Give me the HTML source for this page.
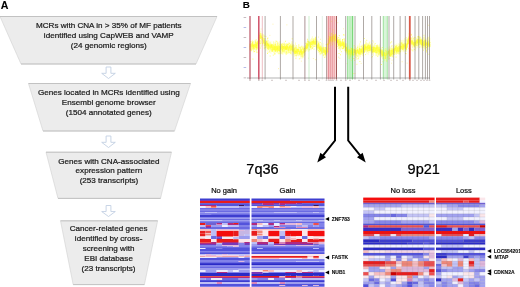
<!DOCTYPE html>
<html><head><meta charset="utf-8"><title>Figure</title>
<style>html,body{margin:0;padding:0;background:#fff;overflow:hidden;width:520px;height:287px;}svg{display:block;}text{font-family:"Liberation Sans",sans-serif;}svg{will-change:transform;}</style></head><body>
<svg width="520" height="287" viewBox="0 0 520 287">
<defs><filter id="bl" x="0" y="0" width="1" height="1"><feGaussianBlur stdDeviation="0.45 0.36"/></filter><filter id="bly" x="-0.02" y="-0.3" width="1.04" height="1.6"><feGaussianBlur stdDeviation="0.45"/></filter><filter id="bl2" x="0" y="0" width="1" height="1"><feGaussianBlur stdDeviation="0.5"/></filter></defs>
<rect width="520" height="287" fill="#fff"/>
<polygon points="0,16.5 217,16.5 196,64 21,64" fill="#ececec" stroke="#d0d0d0" stroke-width="0.6"/>
<line x1="0" y1="16.5" x2="217" y2="16.5" stroke="#bababa" stroke-width="0.8"/>
<line x1="21" y1="64" x2="196" y2="64" stroke="#bababa" stroke-width="0.8"/>
<polygon points="28.5,83.5 190.5,83.5 174.5,131 43,131" fill="#ececec" stroke="#d0d0d0" stroke-width="0.6"/>
<line x1="28.5" y1="83.5" x2="190.5" y2="83.5" stroke="#bababa" stroke-width="0.8"/>
<line x1="43" y1="131" x2="174.5" y2="131" stroke="#bababa" stroke-width="0.8"/>
<polygon points="46,152.2 171.5,152.2 160.5,198.4 58,198.4" fill="#ececec" stroke="#d0d0d0" stroke-width="0.6"/>
<line x1="46" y1="152.2" x2="171.5" y2="152.2" stroke="#bababa" stroke-width="0.8"/>
<line x1="58" y1="198.4" x2="160.5" y2="198.4" stroke="#bababa" stroke-width="0.8"/>
<polygon points="60.5,220.8 157.6,220.8 144.4,284.6 73.2,284.6" fill="#ececec" stroke="#d0d0d0" stroke-width="0.6"/>
<line x1="60.5" y1="220.8" x2="157.6" y2="220.8" stroke="#bababa" stroke-width="0.8"/>
<line x1="73.2" y1="284.6" x2="144.4" y2="284.6" stroke="#bababa" stroke-width="0.8"/>
<polygon points="106.1,67 110.9,67 110.9,73.325 115.3,73.325 108.5,78.5 101.7,73.325 106.1,73.325" fill="#fff" stroke="#bfcde2" stroke-width="0.85" stroke-linejoin="round"/>
<polygon points="106.1,136 110.9,136 110.9,142.325 115.3,142.325 108.5,147.5 101.7,142.325 106.1,142.325" fill="#fff" stroke="#bfcde2" stroke-width="0.85" stroke-linejoin="round"/>
<polygon points="106.1,205.5 110.9,205.5 110.9,211.55 115.3,211.55 108.5,216.5 101.7,211.55 106.1,211.55" fill="#fff" stroke="#bfcde2" stroke-width="0.85" stroke-linejoin="round"/>
<text x="108.8" y="28.3" font-size="8.1" text-anchor="middle" font-weight="normal" fill="#1a1a1a" stroke="#1a1a1a" stroke-width="0.22">MCRs with CNA in &gt; 35% of MF patients</text>
<text x="108.8" y="37.9" font-size="8.1" text-anchor="middle" font-weight="normal" fill="#1a1a1a" stroke="#1a1a1a" stroke-width="0.22">identified using CapWEB and VAMP</text>
<text x="108.8" y="47.6" font-size="8.1" text-anchor="middle" font-weight="normal" fill="#1a1a1a" stroke="#1a1a1a" stroke-width="0.22">(24 genomic regions)</text>
<text x="108.8" y="95.0" font-size="8.1" text-anchor="middle" font-weight="normal" fill="#1a1a1a" stroke="#1a1a1a" stroke-width="0.22">Genes located in MCRs identified using</text>
<text x="108.8" y="104.8" font-size="8.1" text-anchor="middle" font-weight="normal" fill="#1a1a1a" stroke="#1a1a1a" stroke-width="0.22">Ensembl genome browser</text>
<text x="108.8" y="114.5" font-size="8.1" text-anchor="middle" font-weight="normal" fill="#1a1a1a" stroke="#1a1a1a" stroke-width="0.22">(1504 annotated genes)</text>
<text x="108.9" y="163.5" font-size="8.1" text-anchor="middle" font-weight="normal" fill="#1a1a1a" stroke="#1a1a1a" stroke-width="0.22">Genes with CNA-associated</text>
<text x="108.9" y="173.3" font-size="8.1" text-anchor="middle" font-weight="normal" fill="#1a1a1a" stroke="#1a1a1a" stroke-width="0.22">expression pattern</text>
<text x="108.9" y="183.1" font-size="8.1" text-anchor="middle" font-weight="normal" fill="#1a1a1a" stroke="#1a1a1a" stroke-width="0.22">(253 transcripts)</text>
<text x="108.6" y="231.3" font-size="8.1" text-anchor="middle" font-weight="normal" fill="#1a1a1a" stroke="#1a1a1a" stroke-width="0.22">Cancer-related genes</text>
<text x="108.6" y="241.1" font-size="8.1" text-anchor="middle" font-weight="normal" fill="#1a1a1a" stroke="#1a1a1a" stroke-width="0.22">identified by cross-</text>
<text x="108.6" y="250.9" font-size="8.1" text-anchor="middle" font-weight="normal" fill="#1a1a1a" stroke="#1a1a1a" stroke-width="0.22">screening with</text>
<text x="108.6" y="260.7" font-size="8.1" text-anchor="middle" font-weight="normal" fill="#1a1a1a" stroke="#1a1a1a" stroke-width="0.22">EBI database</text>
<text x="108.6" y="270.5" font-size="8.1" text-anchor="middle" font-weight="normal" fill="#1a1a1a" stroke="#1a1a1a" stroke-width="0.22">(23 transcripts)</text>
<text x="0.8" y="8.8" font-size="10.6" text-anchor="start" font-weight="bold" fill="#000" stroke="#000" stroke-width="0.1">A</text>
<text x="242.7" y="8.4" font-size="9.9" text-anchor="start" font-weight="bold" fill="#000" stroke="#000" stroke-width="0.1">B</text>
<g id="chart">
<rect x="347.2" y="16" width="6.6" height="63" fill="#d2f4d2"/>
<rect x="382.6" y="16" width="5" height="63" fill="#daf5da"/>
<rect x="326.8" y="16" width="9.2" height="63" fill="#fad8d8"/>
<g filter="url(#bly)">
<rect x="249.5" y="43.7" width="0.9" height="5.1" fill="#ffff10" opacity="0.62"/>
<rect x="249.5" y="43.7" width="0.8" height="6.8" fill="#ffff30" opacity="0.32"/>
<rect x="250.1" y="44.1" width="0.9" height="3.0" fill="#ffff10" opacity="0.62"/>
<rect x="250.1" y="41.5" width="0.8" height="9.4" fill="#ffff30" opacity="0.32"/>
<rect x="250.7" y="45.8" width="0.9" height="3.1" fill="#ffff10" opacity="0.62"/>
<rect x="250.7" y="43.2" width="0.8" height="6.9" fill="#ffff30" opacity="0.32"/>
<rect x="251.3" y="43.3" width="0.9" height="3.2" fill="#ffff10" opacity="0.62"/>
<rect x="251.3" y="43.5" width="0.8" height="7.7" fill="#ffff30" opacity="0.32"/>
<rect x="251.9" y="42.4" width="0.9" height="4.9" fill="#ffff10" opacity="0.62"/>
<rect x="251.9" y="39.9" width="0.8" height="8.8" fill="#ffff30" opacity="0.32"/>
<rect x="252.5" y="43.7" width="0.9" height="5.9" fill="#ffff10" opacity="0.62"/>
<rect x="252.5" y="42.2" width="0.8" height="8.1" fill="#ffff30" opacity="0.32"/>
<rect x="253.1" y="44.6" width="0.9" height="3.9" fill="#ffff10" opacity="0.62"/>
<rect x="253.1" y="41.1" width="0.8" height="11.3" fill="#ffff30" opacity="0.32"/>
<rect x="253.7" y="44.1" width="0.9" height="5.1" fill="#ffff10" opacity="0.62"/>
<rect x="253.7" y="43.3" width="0.8" height="8.6" fill="#ffff30" opacity="0.32"/>
<rect x="254.3" y="44.2" width="0.9" height="3.0" fill="#ffff10" opacity="0.62"/>
<rect x="254.3" y="42.1" width="0.8" height="7.6" fill="#ffff30" opacity="0.32"/>
<rect x="254.9" y="43.6" width="0.9" height="3.9" fill="#ffff10" opacity="0.62"/>
<rect x="254.9" y="39.8" width="0.8" height="9.9" fill="#ffff30" opacity="0.32"/>
<rect x="255.5" y="42.2" width="0.9" height="5.7" fill="#ffff10" opacity="0.62"/>
<rect x="255.5" y="40.8" width="0.8" height="10.6" fill="#ffff30" opacity="0.32"/>
<rect x="256.1" y="43.4" width="0.9" height="4.7" fill="#ffff10" opacity="0.62"/>
<rect x="256.1" y="41.4" width="0.8" height="11.7" fill="#ffff30" opacity="0.32"/>
<rect x="256.7" y="42.3" width="0.9" height="6.3" fill="#ffff10" opacity="0.62"/>
<rect x="256.7" y="41.0" width="0.8" height="7.1" fill="#ffff30" opacity="0.32"/>
<rect x="257.3" y="41.2" width="0.9" height="3.3" fill="#ffff10" opacity="0.62"/>
<rect x="257.3" y="40.5" width="0.8" height="9.3" fill="#ffff30" opacity="0.32"/>
<rect x="257.9" y="40.1" width="0.9" height="5.6" fill="#ffff10" opacity="0.62"/>
<rect x="257.9" y="37.1" width="0.8" height="9.8" fill="#ffff30" opacity="0.32"/>
<rect x="258.5" y="36.9" width="0.9" height="5.3" fill="#ffff10" opacity="0.62"/>
<rect x="258.5" y="33.3" width="0.8" height="10.0" fill="#ffff30" opacity="0.32"/>
<rect x="259.1" y="34.8" width="0.9" height="5.8" fill="#ffff10" opacity="0.62"/>
<rect x="259.1" y="31.9" width="0.8" height="12.1" fill="#ffff30" opacity="0.32"/>
<rect x="259.7" y="35.3" width="0.9" height="3.0" fill="#ffff10" opacity="0.62"/>
<rect x="259.7" y="33.1" width="0.8" height="10.6" fill="#ffff30" opacity="0.32"/>
<rect x="260.3" y="33.1" width="0.9" height="5.8" fill="#ffff10" opacity="0.62"/>
<rect x="260.3" y="30.6" width="0.8" height="8.1" fill="#ffff30" opacity="0.32"/>
<rect x="260.9" y="35.4" width="0.9" height="2.9" fill="#ffff10" opacity="0.62"/>
<rect x="260.9" y="34.4" width="0.8" height="9.2" fill="#ffff30" opacity="0.32"/>
<rect x="261.5" y="37.0" width="0.9" height="3.0" fill="#ffff10" opacity="0.62"/>
<rect x="261.5" y="33.3" width="0.8" height="11.0" fill="#ffff30" opacity="0.32"/>
<rect x="262.1" y="37.1" width="0.9" height="4.2" fill="#ffff10" opacity="0.62"/>
<rect x="262.1" y="33.5" width="0.8" height="11.6" fill="#ffff30" opacity="0.32"/>
<rect x="262.7" y="38.0" width="0.9" height="4.8" fill="#ffff10" opacity="0.62"/>
<rect x="262.7" y="34.3" width="0.8" height="11.7" fill="#ffff30" opacity="0.32"/>
<rect x="263.3" y="39.9" width="0.9" height="3.8" fill="#ffff10" opacity="0.62"/>
<rect x="263.3" y="34.4" width="0.8" height="8.9" fill="#ffff30" opacity="0.32"/>
<rect x="263.9" y="38.2" width="0.9" height="6.2" fill="#ffff10" opacity="0.62"/>
<rect x="263.9" y="40.8" width="0.8" height="7.3" fill="#ffff30" opacity="0.32"/>
<rect x="264.5" y="42.5" width="0.9" height="3.6" fill="#ffff10" opacity="0.62"/>
<rect x="264.5" y="40.1" width="0.8" height="9.3" fill="#ffff30" opacity="0.32"/>
<rect x="265.1" y="42.2" width="0.9" height="2.8" fill="#ffff10" opacity="0.62"/>
<rect x="265.1" y="39.3" width="0.8" height="8.9" fill="#ffff30" opacity="0.32"/>
<rect x="265.7" y="40.6" width="0.9" height="6.2" fill="#ffff10" opacity="0.62"/>
<rect x="265.7" y="40.3" width="0.8" height="10.5" fill="#ffff30" opacity="0.32"/>
<rect x="266.3" y="40.9" width="0.9" height="5.2" fill="#ffff10" opacity="0.62"/>
<rect x="266.3" y="41.2" width="0.8" height="6.7" fill="#ffff30" opacity="0.32"/>
<rect x="266.9" y="43.3" width="0.9" height="5.9" fill="#ffff10" opacity="0.62"/>
<rect x="266.9" y="38.1" width="0.8" height="11.2" fill="#ffff30" opacity="0.32"/>
<rect x="267.5" y="43.0" width="0.9" height="3.2" fill="#ffff10" opacity="0.62"/>
<rect x="267.5" y="41.0" width="0.8" height="10.2" fill="#ffff30" opacity="0.32"/>
<rect x="268.1" y="44.3" width="0.9" height="3.6" fill="#ffff10" opacity="0.62"/>
<rect x="268.1" y="42.2" width="0.8" height="7.4" fill="#ffff30" opacity="0.32"/>
<rect x="268.7" y="44.6" width="0.9" height="2.8" fill="#ffff10" opacity="0.62"/>
<rect x="268.7" y="42.8" width="0.8" height="7.3" fill="#ffff30" opacity="0.32"/>
<rect x="269.3" y="45.8" width="0.9" height="2.9" fill="#ffff10" opacity="0.62"/>
<rect x="269.3" y="41.4" width="0.8" height="11.6" fill="#ffff30" opacity="0.32"/>
<rect x="269.9" y="44.7" width="0.9" height="3.7" fill="#ffff10" opacity="0.62"/>
<rect x="269.9" y="42.2" width="0.8" height="8.5" fill="#ffff30" opacity="0.32"/>
<rect x="270.5" y="43.8" width="0.9" height="5.9" fill="#ffff10" opacity="0.62"/>
<rect x="270.5" y="41.3" width="0.8" height="12.4" fill="#ffff30" opacity="0.32"/>
<rect x="271.1" y="44.5" width="0.9" height="3.1" fill="#ffff10" opacity="0.62"/>
<rect x="271.1" y="43.9" width="0.8" height="7.0" fill="#ffff30" opacity="0.32"/>
<rect x="271.7" y="43.9" width="0.9" height="5.8" fill="#ffff10" opacity="0.62"/>
<rect x="271.7" y="44.3" width="0.8" height="7.4" fill="#ffff30" opacity="0.32"/>
<rect x="272.3" y="47.1" width="0.9" height="4.7" fill="#ffff10" opacity="0.62"/>
<rect x="272.3" y="44.0" width="0.8" height="7.3" fill="#ffff30" opacity="0.32"/>
<rect x="272.9" y="44.7" width="0.9" height="4.7" fill="#ffff10" opacity="0.62"/>
<rect x="272.9" y="41.1" width="0.8" height="12.3" fill="#ffff30" opacity="0.32"/>
<rect x="273.5" y="46.4" width="0.9" height="3.7" fill="#ffff10" opacity="0.62"/>
<rect x="273.5" y="41.6" width="0.8" height="8.6" fill="#ffff30" opacity="0.32"/>
<rect x="274.1" y="45.8" width="0.9" height="4.7" fill="#ffff10" opacity="0.62"/>
<rect x="274.1" y="43.7" width="0.8" height="11.1" fill="#ffff30" opacity="0.32"/>
<rect x="274.7" y="44.3" width="0.9" height="5.7" fill="#ffff10" opacity="0.62"/>
<rect x="274.7" y="42.1" width="0.8" height="12.3" fill="#ffff30" opacity="0.32"/>
<rect x="275.3" y="45.6" width="0.9" height="5.7" fill="#ffff10" opacity="0.62"/>
<rect x="275.3" y="40.4" width="0.8" height="10.8" fill="#ffff30" opacity="0.32"/>
<rect x="275.9" y="45.7" width="0.9" height="4.1" fill="#ffff10" opacity="0.62"/>
<rect x="275.9" y="45.7" width="0.8" height="6.6" fill="#ffff30" opacity="0.32"/>
<rect x="276.5" y="46.5" width="0.9" height="3.7" fill="#ffff10" opacity="0.62"/>
<rect x="276.5" y="42.5" width="0.8" height="10.6" fill="#ffff30" opacity="0.32"/>
<rect x="277.1" y="45.6" width="0.9" height="6.2" fill="#ffff10" opacity="0.62"/>
<rect x="277.1" y="41.2" width="0.8" height="12.3" fill="#ffff30" opacity="0.32"/>
<rect x="277.7" y="46.8" width="0.9" height="3.6" fill="#ffff10" opacity="0.62"/>
<rect x="277.7" y="43.6" width="0.8" height="7.8" fill="#ffff30" opacity="0.32"/>
<rect x="278.3" y="45.5" width="0.9" height="5.0" fill="#ffff10" opacity="0.62"/>
<rect x="278.3" y="42.7" width="0.8" height="11.8" fill="#ffff30" opacity="0.32"/>
<rect x="278.9" y="45.9" width="0.9" height="5.2" fill="#ffff10" opacity="0.62"/>
<rect x="278.9" y="41.1" width="0.8" height="11.2" fill="#ffff30" opacity="0.32"/>
<rect x="279.5" y="46.1" width="0.9" height="6.1" fill="#ffff10" opacity="0.62"/>
<rect x="279.5" y="43.3" width="0.8" height="11.1" fill="#ffff30" opacity="0.32"/>
<rect x="280.1" y="46.3" width="0.9" height="3.4" fill="#ffff10" opacity="0.62"/>
<rect x="280.1" y="41.1" width="0.8" height="11.1" fill="#ffff30" opacity="0.32"/>
<rect x="280.7" y="44.0" width="0.9" height="6.3" fill="#ffff10" opacity="0.62"/>
<rect x="280.7" y="45.5" width="0.8" height="8.8" fill="#ffff30" opacity="0.32"/>
<rect x="281.3" y="43.5" width="0.9" height="5.4" fill="#ffff10" opacity="0.62"/>
<rect x="281.3" y="46.0" width="0.8" height="7.4" fill="#ffff30" opacity="0.32"/>
<rect x="281.9" y="45.3" width="0.9" height="6.1" fill="#ffff10" opacity="0.62"/>
<rect x="281.9" y="42.9" width="0.8" height="11.2" fill="#ffff30" opacity="0.32"/>
<rect x="282.5" y="45.9" width="0.9" height="6.3" fill="#ffff10" opacity="0.62"/>
<rect x="282.5" y="44.6" width="0.8" height="10.3" fill="#ffff30" opacity="0.32"/>
<rect x="283.1" y="45.7" width="0.9" height="3.3" fill="#ffff10" opacity="0.62"/>
<rect x="283.1" y="46.0" width="0.8" height="6.5" fill="#ffff30" opacity="0.32"/>
<rect x="283.7" y="46.9" width="0.9" height="4.7" fill="#ffff10" opacity="0.62"/>
<rect x="283.7" y="41.7" width="0.8" height="12.0" fill="#ffff30" opacity="0.32"/>
<rect x="284.3" y="43.4" width="0.9" height="5.8" fill="#ffff10" opacity="0.62"/>
<rect x="284.3" y="45.1" width="0.8" height="7.7" fill="#ffff30" opacity="0.32"/>
<rect x="284.9" y="46.2" width="0.9" height="3.7" fill="#ffff10" opacity="0.62"/>
<rect x="284.9" y="44.0" width="0.8" height="9.9" fill="#ffff30" opacity="0.32"/>
<rect x="285.5" y="46.3" width="0.9" height="3.3" fill="#ffff10" opacity="0.62"/>
<rect x="285.5" y="43.3" width="0.8" height="11.9" fill="#ffff30" opacity="0.32"/>
<rect x="286.1" y="45.0" width="0.9" height="4.9" fill="#ffff10" opacity="0.62"/>
<rect x="286.1" y="43.2" width="0.8" height="11.8" fill="#ffff30" opacity="0.32"/>
<rect x="286.7" y="44.0" width="0.9" height="4.6" fill="#ffff10" opacity="0.62"/>
<rect x="286.7" y="44.6" width="0.8" height="9.6" fill="#ffff30" opacity="0.32"/>
<rect x="287.3" y="45.9" width="0.9" height="4.4" fill="#ffff10" opacity="0.62"/>
<rect x="287.3" y="44.4" width="0.8" height="7.5" fill="#ffff30" opacity="0.32"/>
<rect x="287.9" y="48.2" width="0.9" height="3.4" fill="#ffff10" opacity="0.62"/>
<rect x="287.9" y="43.7" width="0.8" height="9.2" fill="#ffff30" opacity="0.32"/>
<rect x="288.5" y="46.3" width="0.9" height="4.0" fill="#ffff10" opacity="0.62"/>
<rect x="288.5" y="42.1" width="0.8" height="9.5" fill="#ffff30" opacity="0.32"/>
<rect x="289.1" y="45.4" width="0.9" height="3.2" fill="#ffff10" opacity="0.62"/>
<rect x="289.1" y="42.9" width="0.8" height="9.8" fill="#ffff30" opacity="0.32"/>
<rect x="289.7" y="45.8" width="0.9" height="5.6" fill="#ffff10" opacity="0.62"/>
<rect x="289.7" y="44.9" width="0.8" height="9.4" fill="#ffff30" opacity="0.32"/>
<rect x="290.3" y="44.3" width="0.9" height="6.1" fill="#ffff10" opacity="0.62"/>
<rect x="290.3" y="43.4" width="0.8" height="9.1" fill="#ffff30" opacity="0.32"/>
<rect x="290.9" y="45.7" width="0.9" height="4.6" fill="#ffff10" opacity="0.62"/>
<rect x="290.9" y="42.6" width="0.8" height="10.6" fill="#ffff30" opacity="0.32"/>
<rect x="291.5" y="45.6" width="0.9" height="4.5" fill="#ffff10" opacity="0.62"/>
<rect x="291.5" y="43.3" width="0.8" height="12.0" fill="#ffff30" opacity="0.32"/>
<rect x="292.1" y="45.4" width="0.9" height="6.2" fill="#ffff10" opacity="0.62"/>
<rect x="292.1" y="42.7" width="0.8" height="8.0" fill="#ffff30" opacity="0.32"/>
<rect x="292.7" y="44.4" width="0.9" height="5.8" fill="#ffff10" opacity="0.62"/>
<rect x="292.7" y="44.7" width="0.8" height="7.2" fill="#ffff30" opacity="0.32"/>
<rect x="293.3" y="48.8" width="0.9" height="3.1" fill="#ffff10" opacity="0.62"/>
<rect x="293.3" y="46.6" width="0.8" height="7.8" fill="#ffff30" opacity="0.32"/>
<rect x="293.9" y="48.3" width="0.9" height="5.6" fill="#ffff10" opacity="0.62"/>
<rect x="293.9" y="44.9" width="0.8" height="11.8" fill="#ffff30" opacity="0.32"/>
<rect x="294.5" y="48.5" width="0.9" height="5.2" fill="#ffff10" opacity="0.62"/>
<rect x="294.5" y="48.2" width="0.8" height="7.3" fill="#ffff30" opacity="0.32"/>
<rect x="295.1" y="50.5" width="0.9" height="3.6" fill="#ffff10" opacity="0.62"/>
<rect x="295.1" y="42.4" width="0.8" height="12.1" fill="#ffff30" opacity="0.32"/>
<rect x="295.7" y="46.8" width="0.9" height="6.4" fill="#ffff10" opacity="0.62"/>
<rect x="295.7" y="46.0" width="0.8" height="11.4" fill="#ffff30" opacity="0.32"/>
<rect x="296.3" y="49.2" width="0.9" height="4.7" fill="#ffff10" opacity="0.62"/>
<rect x="296.3" y="47.9" width="0.8" height="8.4" fill="#ffff30" opacity="0.32"/>
<rect x="296.9" y="48.7" width="0.9" height="5.4" fill="#ffff10" opacity="0.62"/>
<rect x="296.9" y="48.8" width="0.8" height="6.5" fill="#ffff30" opacity="0.32"/>
<rect x="297.5" y="48.8" width="0.9" height="2.9" fill="#ffff10" opacity="0.62"/>
<rect x="297.5" y="46.6" width="0.8" height="8.4" fill="#ffff30" opacity="0.32"/>
<rect x="298.1" y="49.0" width="0.9" height="3.0" fill="#ffff10" opacity="0.62"/>
<rect x="298.1" y="44.1" width="0.8" height="12.3" fill="#ffff30" opacity="0.32"/>
<rect x="298.7" y="50.3" width="0.9" height="3.2" fill="#ffff10" opacity="0.62"/>
<rect x="298.7" y="44.2" width="0.8" height="8.0" fill="#ffff30" opacity="0.32"/>
<rect x="299.3" y="51.0" width="0.9" height="3.8" fill="#ffff10" opacity="0.62"/>
<rect x="299.3" y="48.3" width="0.8" height="7.2" fill="#ffff30" opacity="0.32"/>
<rect x="299.9" y="46.9" width="0.9" height="5.7" fill="#ffff10" opacity="0.62"/>
<rect x="299.9" y="48.8" width="0.8" height="8.0" fill="#ffff30" opacity="0.32"/>
<rect x="300.5" y="50.3" width="0.9" height="4.9" fill="#ffff10" opacity="0.62"/>
<rect x="300.5" y="48.4" width="0.8" height="10.6" fill="#ffff30" opacity="0.32"/>
<rect x="301.1" y="49.1" width="0.9" height="5.3" fill="#ffff10" opacity="0.62"/>
<rect x="301.1" y="47.2" width="0.8" height="9.0" fill="#ffff30" opacity="0.32"/>
<rect x="301.7" y="50.9" width="0.9" height="5.1" fill="#ffff10" opacity="0.62"/>
<rect x="301.7" y="47.1" width="0.8" height="11.2" fill="#ffff30" opacity="0.32"/>
<rect x="302.3" y="51.5" width="0.9" height="3.0" fill="#ffff10" opacity="0.62"/>
<rect x="302.3" y="46.9" width="0.8" height="11.6" fill="#ffff30" opacity="0.32"/>
<rect x="302.9" y="48.3" width="0.9" height="4.8" fill="#ffff10" opacity="0.62"/>
<rect x="302.9" y="45.8" width="0.8" height="12.0" fill="#ffff30" opacity="0.32"/>
<rect x="303.5" y="49.1" width="0.9" height="4.7" fill="#ffff10" opacity="0.62"/>
<rect x="303.5" y="48.2" width="0.8" height="7.8" fill="#ffff30" opacity="0.32"/>
<rect x="304.1" y="50.1" width="0.9" height="3.0" fill="#ffff10" opacity="0.62"/>
<rect x="304.1" y="47.9" width="0.8" height="7.6" fill="#ffff30" opacity="0.32"/>
<rect x="304.7" y="46.5" width="0.9" height="5.5" fill="#ffff10" opacity="0.62"/>
<rect x="304.7" y="46.5" width="0.8" height="8.1" fill="#ffff30" opacity="0.32"/>
<rect x="305.3" y="45.3" width="0.9" height="4.0" fill="#ffff10" opacity="0.62"/>
<rect x="305.3" y="44.7" width="0.8" height="6.5" fill="#ffff30" opacity="0.32"/>
<rect x="305.9" y="43.6" width="0.9" height="5.4" fill="#ffff10" opacity="0.62"/>
<rect x="305.9" y="41.6" width="0.8" height="9.7" fill="#ffff30" opacity="0.32"/>
<rect x="306.5" y="43.0" width="0.9" height="6.2" fill="#ffff10" opacity="0.62"/>
<rect x="306.5" y="43.4" width="0.8" height="7.0" fill="#ffff30" opacity="0.32"/>
<rect x="307.1" y="43.4" width="0.9" height="4.6" fill="#ffff10" opacity="0.62"/>
<rect x="307.1" y="38.4" width="0.8" height="11.4" fill="#ffff30" opacity="0.32"/>
<rect x="307.7" y="41.4" width="0.9" height="5.3" fill="#ffff10" opacity="0.62"/>
<rect x="307.7" y="39.6" width="0.8" height="12.3" fill="#ffff30" opacity="0.32"/>
<rect x="308.3" y="40.9" width="0.9" height="5.3" fill="#ffff10" opacity="0.62"/>
<rect x="308.3" y="41.3" width="0.8" height="10.2" fill="#ffff30" opacity="0.32"/>
<rect x="308.9" y="41.9" width="0.9" height="3.0" fill="#ffff10" opacity="0.62"/>
<rect x="308.9" y="41.1" width="0.8" height="7.2" fill="#ffff30" opacity="0.32"/>
<rect x="309.5" y="43.2" width="0.9" height="3.7" fill="#ffff10" opacity="0.62"/>
<rect x="309.5" y="40.9" width="0.8" height="7.4" fill="#ffff30" opacity="0.32"/>
<rect x="310.1" y="42.0" width="0.9" height="5.9" fill="#ffff10" opacity="0.62"/>
<rect x="310.1" y="39.4" width="0.8" height="10.4" fill="#ffff30" opacity="0.32"/>
<rect x="310.7" y="41.1" width="0.9" height="3.9" fill="#ffff10" opacity="0.62"/>
<rect x="310.7" y="39.4" width="0.8" height="9.2" fill="#ffff30" opacity="0.32"/>
<rect x="311.3" y="41.5" width="0.9" height="3.7" fill="#ffff10" opacity="0.62"/>
<rect x="311.3" y="37.9" width="0.8" height="12.2" fill="#ffff30" opacity="0.32"/>
<rect x="311.9" y="41.8" width="0.9" height="3.7" fill="#ffff10" opacity="0.62"/>
<rect x="311.9" y="36.2" width="0.8" height="12.2" fill="#ffff30" opacity="0.32"/>
<rect x="312.5" y="40.8" width="0.9" height="2.8" fill="#ffff10" opacity="0.62"/>
<rect x="312.5" y="39.2" width="0.8" height="8.7" fill="#ffff30" opacity="0.32"/>
<rect x="313.1" y="39.7" width="0.9" height="3.5" fill="#ffff10" opacity="0.62"/>
<rect x="313.1" y="38.0" width="0.8" height="9.4" fill="#ffff30" opacity="0.32"/>
<rect x="313.7" y="41.6" width="0.9" height="3.1" fill="#ffff10" opacity="0.62"/>
<rect x="313.7" y="38.1" width="0.8" height="8.8" fill="#ffff30" opacity="0.32"/>
<rect x="314.3" y="40.7" width="0.9" height="3.9" fill="#ffff10" opacity="0.62"/>
<rect x="314.3" y="38.7" width="0.8" height="7.8" fill="#ffff30" opacity="0.32"/>
<rect x="314.9" y="38.8" width="0.9" height="5.5" fill="#ffff10" opacity="0.62"/>
<rect x="314.9" y="36.6" width="0.8" height="10.3" fill="#ffff30" opacity="0.32"/>
<rect x="315.5" y="40.9" width="0.9" height="4.2" fill="#ffff10" opacity="0.62"/>
<rect x="315.5" y="36.8" width="0.8" height="8.4" fill="#ffff30" opacity="0.32"/>
<rect x="316.1" y="42.3" width="0.9" height="5.4" fill="#ffff10" opacity="0.62"/>
<rect x="316.1" y="39.3" width="0.8" height="10.3" fill="#ffff30" opacity="0.32"/>
<rect x="316.7" y="44.2" width="0.9" height="6.0" fill="#ffff10" opacity="0.62"/>
<rect x="316.7" y="41.1" width="0.8" height="10.2" fill="#ffff30" opacity="0.32"/>
<rect x="317.3" y="44.8" width="0.9" height="3.3" fill="#ffff10" opacity="0.62"/>
<rect x="317.3" y="39.7" width="0.8" height="9.5" fill="#ffff30" opacity="0.32"/>
<rect x="317.9" y="42.8" width="0.9" height="5.7" fill="#ffff10" opacity="0.62"/>
<rect x="317.9" y="41.6" width="0.8" height="11.4" fill="#ffff30" opacity="0.32"/>
<rect x="318.5" y="43.5" width="0.9" height="5.3" fill="#ffff10" opacity="0.62"/>
<rect x="318.5" y="41.2" width="0.8" height="10.6" fill="#ffff30" opacity="0.32"/>
<rect x="319.1" y="46.7" width="0.9" height="3.3" fill="#ffff10" opacity="0.62"/>
<rect x="319.1" y="44.3" width="0.8" height="8.6" fill="#ffff30" opacity="0.32"/>
<rect x="319.7" y="47.7" width="0.9" height="4.8" fill="#ffff10" opacity="0.62"/>
<rect x="319.7" y="45.1" width="0.8" height="10.2" fill="#ffff30" opacity="0.32"/>
<rect x="320.3" y="46.0" width="0.9" height="4.6" fill="#ffff10" opacity="0.62"/>
<rect x="320.3" y="44.7" width="0.8" height="6.4" fill="#ffff30" opacity="0.32"/>
<rect x="320.9" y="47.7" width="0.9" height="4.6" fill="#ffff10" opacity="0.62"/>
<rect x="320.9" y="42.9" width="0.8" height="9.6" fill="#ffff30" opacity="0.32"/>
<rect x="321.5" y="47.1" width="0.9" height="5.5" fill="#ffff10" opacity="0.62"/>
<rect x="321.5" y="45.7" width="0.8" height="7.9" fill="#ffff30" opacity="0.32"/>
<rect x="322.1" y="48.3" width="0.9" height="5.4" fill="#ffff10" opacity="0.62"/>
<rect x="322.1" y="47.0" width="0.8" height="7.6" fill="#ffff30" opacity="0.32"/>
<rect x="322.7" y="48.4" width="0.9" height="4.6" fill="#ffff10" opacity="0.62"/>
<rect x="322.7" y="43.2" width="0.8" height="8.7" fill="#ffff30" opacity="0.32"/>
<rect x="323.3" y="47.0" width="0.9" height="5.6" fill="#ffff10" opacity="0.62"/>
<rect x="323.3" y="46.3" width="0.8" height="10.1" fill="#ffff30" opacity="0.32"/>
<rect x="323.9" y="49.6" width="0.9" height="3.3" fill="#ffff10" opacity="0.62"/>
<rect x="323.9" y="47.1" width="0.8" height="7.9" fill="#ffff30" opacity="0.32"/>
<rect x="324.5" y="49.3" width="0.9" height="4.8" fill="#ffff10" opacity="0.62"/>
<rect x="324.5" y="47.5" width="0.8" height="6.5" fill="#ffff30" opacity="0.32"/>
<rect x="325.1" y="50.1" width="0.9" height="5.2" fill="#ffff10" opacity="0.62"/>
<rect x="325.1" y="47.1" width="0.8" height="10.6" fill="#ffff30" opacity="0.32"/>
<rect x="325.7" y="49.7" width="0.9" height="4.7" fill="#ffff10" opacity="0.62"/>
<rect x="325.7" y="46.9" width="0.8" height="9.2" fill="#ffff30" opacity="0.32"/>
<rect x="326.3" y="47.5" width="0.9" height="6.0" fill="#ffff10" opacity="0.62"/>
<rect x="326.3" y="47.3" width="0.8" height="7.6" fill="#ffff30" opacity="0.32"/>
<rect x="326.9" y="48.7" width="0.9" height="2.9" fill="#ffff10" opacity="0.62"/>
<rect x="326.9" y="43.0" width="0.8" height="9.2" fill="#ffff30" opacity="0.32"/>
<rect x="327.5" y="43.8" width="0.9" height="4.4" fill="#ffff10" opacity="0.62"/>
<rect x="327.5" y="38.1" width="0.8" height="8.0" fill="#ffff30" opacity="0.32"/>
<rect x="328.1" y="41.4" width="0.9" height="3.6" fill="#ffff10" opacity="0.62"/>
<rect x="328.1" y="40.5" width="0.8" height="9.9" fill="#ffff30" opacity="0.32"/>
<rect x="328.7" y="37.8" width="0.9" height="6.2" fill="#ffff10" opacity="0.62"/>
<rect x="328.7" y="37.7" width="0.8" height="7.2" fill="#ffff30" opacity="0.32"/>
<rect x="329.3" y="36.3" width="0.9" height="6.0" fill="#ffff10" opacity="0.62"/>
<rect x="329.3" y="32.2" width="0.8" height="10.6" fill="#ffff30" opacity="0.32"/>
<rect x="329.9" y="36.5" width="0.9" height="4.6" fill="#ffff10" opacity="0.62"/>
<rect x="329.9" y="37.8" width="0.8" height="6.5" fill="#ffff30" opacity="0.32"/>
<rect x="330.5" y="37.1" width="0.9" height="4.4" fill="#ffff10" opacity="0.62"/>
<rect x="330.5" y="34.2" width="0.8" height="8.2" fill="#ffff30" opacity="0.32"/>
<rect x="331.1" y="36.5" width="0.9" height="3.9" fill="#ffff10" opacity="0.62"/>
<rect x="331.1" y="33.1" width="0.8" height="11.4" fill="#ffff30" opacity="0.32"/>
<rect x="331.7" y="36.2" width="0.9" height="5.8" fill="#ffff10" opacity="0.62"/>
<rect x="331.7" y="34.1" width="0.8" height="7.1" fill="#ffff30" opacity="0.32"/>
<rect x="332.3" y="35.8" width="0.9" height="6.0" fill="#ffff10" opacity="0.62"/>
<rect x="332.3" y="32.7" width="0.8" height="8.1" fill="#ffff30" opacity="0.32"/>
<rect x="332.9" y="34.0" width="0.9" height="6.4" fill="#ffff10" opacity="0.62"/>
<rect x="332.9" y="33.7" width="0.8" height="9.9" fill="#ffff30" opacity="0.32"/>
<rect x="333.5" y="35.5" width="0.9" height="3.8" fill="#ffff10" opacity="0.62"/>
<rect x="333.5" y="35.6" width="0.8" height="6.7" fill="#ffff30" opacity="0.32"/>
<rect x="334.1" y="37.7" width="0.9" height="3.8" fill="#ffff10" opacity="0.62"/>
<rect x="334.1" y="33.6" width="0.8" height="12.0" fill="#ffff30" opacity="0.32"/>
<rect x="334.7" y="36.1" width="0.9" height="4.6" fill="#ffff10" opacity="0.62"/>
<rect x="334.7" y="35.6" width="0.8" height="7.5" fill="#ffff30" opacity="0.32"/>
<rect x="335.3" y="34.4" width="0.9" height="6.0" fill="#ffff10" opacity="0.62"/>
<rect x="335.3" y="35.4" width="0.8" height="11.3" fill="#ffff30" opacity="0.32"/>
<rect x="335.9" y="35.3" width="0.9" height="6.2" fill="#ffff10" opacity="0.62"/>
<rect x="335.9" y="33.0" width="0.8" height="9.7" fill="#ffff30" opacity="0.32"/>
<rect x="336.5" y="37.8" width="0.9" height="5.4" fill="#ffff10" opacity="0.62"/>
<rect x="336.5" y="35.7" width="0.8" height="9.1" fill="#ffff30" opacity="0.32"/>
<rect x="337.1" y="39.5" width="0.9" height="3.8" fill="#ffff10" opacity="0.62"/>
<rect x="337.1" y="36.4" width="0.8" height="6.7" fill="#ffff30" opacity="0.32"/>
<rect x="337.7" y="40.4" width="0.9" height="4.5" fill="#ffff10" opacity="0.62"/>
<rect x="337.7" y="37.7" width="0.8" height="8.5" fill="#ffff30" opacity="0.32"/>
<rect x="338.3" y="39.2" width="0.9" height="6.3" fill="#ffff10" opacity="0.62"/>
<rect x="338.3" y="40.7" width="0.8" height="8.0" fill="#ffff30" opacity="0.32"/>
<rect x="338.9" y="40.6" width="0.9" height="4.8" fill="#ffff10" opacity="0.62"/>
<rect x="338.9" y="38.2" width="0.8" height="8.8" fill="#ffff30" opacity="0.32"/>
<rect x="339.5" y="42.5" width="0.9" height="3.5" fill="#ffff10" opacity="0.62"/>
<rect x="339.5" y="38.7" width="0.8" height="11.8" fill="#ffff30" opacity="0.32"/>
<rect x="340.1" y="40.8" width="0.9" height="6.1" fill="#ffff10" opacity="0.62"/>
<rect x="340.1" y="38.3" width="0.8" height="12.4" fill="#ffff30" opacity="0.32"/>
<rect x="340.7" y="42.4" width="0.9" height="3.5" fill="#ffff10" opacity="0.62"/>
<rect x="340.7" y="41.3" width="0.8" height="6.9" fill="#ffff30" opacity="0.32"/>
<rect x="341.3" y="42.6" width="0.9" height="3.7" fill="#ffff10" opacity="0.62"/>
<rect x="341.3" y="41.1" width="0.8" height="8.0" fill="#ffff30" opacity="0.32"/>
<rect x="341.9" y="40.3" width="0.9" height="5.5" fill="#ffff10" opacity="0.62"/>
<rect x="341.9" y="39.2" width="0.8" height="8.9" fill="#ffff30" opacity="0.32"/>
<rect x="342.5" y="41.8" width="0.9" height="4.2" fill="#ffff10" opacity="0.62"/>
<rect x="342.5" y="41.4" width="0.8" height="8.4" fill="#ffff30" opacity="0.32"/>
<rect x="343.1" y="42.4" width="0.9" height="6.3" fill="#ffff10" opacity="0.62"/>
<rect x="343.1" y="41.7" width="0.8" height="7.2" fill="#ffff30" opacity="0.32"/>
<rect x="343.7" y="40.7" width="0.9" height="5.9" fill="#ffff10" opacity="0.62"/>
<rect x="343.7" y="41.1" width="0.8" height="7.7" fill="#ffff30" opacity="0.32"/>
<rect x="344.3" y="43.4" width="0.9" height="4.2" fill="#ffff10" opacity="0.62"/>
<rect x="344.3" y="42.0" width="0.8" height="9.1" fill="#ffff30" opacity="0.32"/>
<rect x="344.9" y="45.5" width="0.9" height="5.9" fill="#ffff10" opacity="0.62"/>
<rect x="344.9" y="42.9" width="0.8" height="6.5" fill="#ffff30" opacity="0.32"/>
<rect x="345.5" y="46.4" width="0.9" height="6.0" fill="#ffff10" opacity="0.62"/>
<rect x="345.5" y="43.8" width="0.8" height="9.2" fill="#ffff30" opacity="0.32"/>
<rect x="346.1" y="47.0" width="0.9" height="4.2" fill="#ffff10" opacity="0.62"/>
<rect x="346.1" y="43.1" width="0.8" height="12.0" fill="#ffff30" opacity="0.32"/>
<rect x="346.7" y="47.5" width="0.9" height="6.3" fill="#ffff10" opacity="0.62"/>
<rect x="346.7" y="43.8" width="0.8" height="7.9" fill="#ffff30" opacity="0.32"/>
<rect x="347.3" y="48.7" width="0.9" height="4.7" fill="#ffff10" opacity="0.62"/>
<rect x="347.3" y="45.8" width="0.8" height="10.5" fill="#ffff30" opacity="0.32"/>
<rect x="347.9" y="50.2" width="0.9" height="5.1" fill="#ffff10" opacity="0.62"/>
<rect x="347.9" y="45.2" width="0.8" height="11.0" fill="#ffff30" opacity="0.32"/>
<rect x="348.5" y="49.1" width="0.9" height="2.9" fill="#ffff10" opacity="0.62"/>
<rect x="348.5" y="46.5" width="0.8" height="11.1" fill="#ffff30" opacity="0.32"/>
<rect x="349.1" y="49.4" width="0.9" height="5.1" fill="#ffff10" opacity="0.62"/>
<rect x="349.1" y="50.3" width="0.8" height="8.2" fill="#ffff30" opacity="0.32"/>
<rect x="349.7" y="49.9" width="0.9" height="5.1" fill="#ffff10" opacity="0.62"/>
<rect x="349.7" y="47.3" width="0.8" height="10.6" fill="#ffff30" opacity="0.32"/>
<rect x="350.3" y="50.0" width="0.9" height="4.7" fill="#ffff10" opacity="0.62"/>
<rect x="350.3" y="47.4" width="0.8" height="9.9" fill="#ffff30" opacity="0.32"/>
<rect x="350.9" y="49.3" width="0.9" height="5.0" fill="#ffff10" opacity="0.62"/>
<rect x="350.9" y="49.5" width="0.8" height="6.5" fill="#ffff30" opacity="0.32"/>
<rect x="351.5" y="48.9" width="0.9" height="6.3" fill="#ffff10" opacity="0.62"/>
<rect x="351.5" y="48.5" width="0.8" height="10.3" fill="#ffff30" opacity="0.32"/>
<rect x="352.1" y="51.4" width="0.9" height="3.6" fill="#ffff10" opacity="0.62"/>
<rect x="352.1" y="47.6" width="0.8" height="7.9" fill="#ffff30" opacity="0.32"/>
<rect x="352.7" y="51.8" width="0.9" height="3.9" fill="#ffff10" opacity="0.62"/>
<rect x="352.7" y="48.7" width="0.8" height="6.5" fill="#ffff30" opacity="0.32"/>
<rect x="353.3" y="48.8" width="0.9" height="4.3" fill="#ffff10" opacity="0.62"/>
<rect x="353.3" y="48.3" width="0.8" height="7.9" fill="#ffff30" opacity="0.32"/>
<rect x="353.9" y="49.4" width="0.9" height="3.6" fill="#ffff10" opacity="0.62"/>
<rect x="353.9" y="46.5" width="0.8" height="6.6" fill="#ffff30" opacity="0.32"/>
<rect x="354.5" y="49.0" width="0.9" height="5.3" fill="#ffff10" opacity="0.62"/>
<rect x="354.5" y="49.4" width="0.8" height="7.6" fill="#ffff30" opacity="0.32"/>
<rect x="355.1" y="50.1" width="0.9" height="4.6" fill="#ffff10" opacity="0.62"/>
<rect x="355.1" y="46.3" width="0.8" height="7.6" fill="#ffff30" opacity="0.32"/>
<rect x="355.7" y="49.8" width="0.9" height="5.8" fill="#ffff10" opacity="0.62"/>
<rect x="355.7" y="47.8" width="0.8" height="7.8" fill="#ffff30" opacity="0.32"/>
<rect x="356.3" y="50.2" width="0.9" height="3.9" fill="#ffff10" opacity="0.62"/>
<rect x="356.3" y="47.8" width="0.8" height="12.1" fill="#ffff30" opacity="0.32"/>
<rect x="356.9" y="49.4" width="0.9" height="3.6" fill="#ffff10" opacity="0.62"/>
<rect x="356.9" y="47.3" width="0.8" height="8.9" fill="#ffff30" opacity="0.32"/>
<rect x="357.5" y="48.9" width="0.9" height="3.3" fill="#ffff10" opacity="0.62"/>
<rect x="357.5" y="44.8" width="0.8" height="8.8" fill="#ffff30" opacity="0.32"/>
<rect x="358.1" y="50.5" width="0.9" height="3.3" fill="#ffff10" opacity="0.62"/>
<rect x="358.1" y="51.4" width="0.8" height="6.7" fill="#ffff30" opacity="0.32"/>
<rect x="358.7" y="49.4" width="0.9" height="6.0" fill="#ffff10" opacity="0.62"/>
<rect x="358.7" y="46.1" width="0.8" height="11.7" fill="#ffff30" opacity="0.32"/>
<rect x="359.3" y="48.0" width="0.9" height="6.2" fill="#ffff10" opacity="0.62"/>
<rect x="359.3" y="43.1" width="0.8" height="8.4" fill="#ffff30" opacity="0.32"/>
<rect x="359.9" y="49.3" width="0.9" height="5.5" fill="#ffff10" opacity="0.62"/>
<rect x="359.9" y="50.5" width="0.8" height="6.6" fill="#ffff30" opacity="0.32"/>
<rect x="360.5" y="48.5" width="0.9" height="4.1" fill="#ffff10" opacity="0.62"/>
<rect x="360.5" y="45.8" width="0.8" height="8.4" fill="#ffff30" opacity="0.32"/>
<rect x="361.1" y="48.9" width="0.9" height="3.8" fill="#ffff10" opacity="0.62"/>
<rect x="361.1" y="46.6" width="0.8" height="8.5" fill="#ffff30" opacity="0.32"/>
<rect x="361.7" y="47.9" width="0.9" height="6.3" fill="#ffff10" opacity="0.62"/>
<rect x="361.7" y="46.6" width="0.8" height="7.6" fill="#ffff30" opacity="0.32"/>
<rect x="362.3" y="46.3" width="0.9" height="5.8" fill="#ffff10" opacity="0.62"/>
<rect x="362.3" y="47.4" width="0.8" height="9.0" fill="#ffff30" opacity="0.32"/>
<rect x="362.9" y="48.5" width="0.9" height="4.1" fill="#ffff10" opacity="0.62"/>
<rect x="362.9" y="44.1" width="0.8" height="11.9" fill="#ffff30" opacity="0.32"/>
<rect x="363.5" y="46.3" width="0.9" height="6.0" fill="#ffff10" opacity="0.62"/>
<rect x="363.5" y="46.8" width="0.8" height="6.6" fill="#ffff30" opacity="0.32"/>
<rect x="364.1" y="44.2" width="0.9" height="5.6" fill="#ffff10" opacity="0.62"/>
<rect x="364.1" y="46.2" width="0.8" height="6.6" fill="#ffff30" opacity="0.32"/>
<rect x="364.7" y="45.1" width="0.9" height="6.1" fill="#ffff10" opacity="0.62"/>
<rect x="364.7" y="43.9" width="0.8" height="7.9" fill="#ffff30" opacity="0.32"/>
<rect x="365.3" y="45.5" width="0.9" height="4.0" fill="#ffff10" opacity="0.62"/>
<rect x="365.3" y="40.9" width="0.8" height="8.0" fill="#ffff30" opacity="0.32"/>
<rect x="365.9" y="46.8" width="0.9" height="3.7" fill="#ffff10" opacity="0.62"/>
<rect x="365.9" y="41.7" width="0.8" height="10.7" fill="#ffff30" opacity="0.32"/>
<rect x="366.5" y="45.8" width="0.9" height="2.8" fill="#ffff10" opacity="0.62"/>
<rect x="366.5" y="42.9" width="0.8" height="10.9" fill="#ffff30" opacity="0.32"/>
<rect x="367.1" y="45.5" width="0.9" height="6.2" fill="#ffff10" opacity="0.62"/>
<rect x="367.1" y="43.4" width="0.8" height="6.5" fill="#ffff30" opacity="0.32"/>
<rect x="367.7" y="44.5" width="0.9" height="6.2" fill="#ffff10" opacity="0.62"/>
<rect x="367.7" y="42.8" width="0.8" height="12.1" fill="#ffff30" opacity="0.32"/>
<rect x="368.3" y="44.8" width="0.9" height="4.3" fill="#ffff10" opacity="0.62"/>
<rect x="368.3" y="43.4" width="0.8" height="9.4" fill="#ffff30" opacity="0.32"/>
<rect x="368.9" y="45.2" width="0.9" height="5.7" fill="#ffff10" opacity="0.62"/>
<rect x="368.9" y="41.8" width="0.8" height="10.8" fill="#ffff30" opacity="0.32"/>
<rect x="369.5" y="45.7" width="0.9" height="5.0" fill="#ffff10" opacity="0.62"/>
<rect x="369.5" y="41.5" width="0.8" height="8.4" fill="#ffff30" opacity="0.32"/>
<rect x="370.1" y="44.4" width="0.9" height="5.6" fill="#ffff10" opacity="0.62"/>
<rect x="370.1" y="45.2" width="0.8" height="6.9" fill="#ffff30" opacity="0.32"/>
<rect x="370.7" y="46.6" width="0.9" height="3.7" fill="#ffff10" opacity="0.62"/>
<rect x="370.7" y="46.5" width="0.8" height="6.8" fill="#ffff30" opacity="0.32"/>
<rect x="371.3" y="47.5" width="0.9" height="4.0" fill="#ffff10" opacity="0.62"/>
<rect x="371.3" y="42.5" width="0.8" height="12.3" fill="#ffff30" opacity="0.32"/>
<rect x="371.9" y="48.9" width="0.9" height="3.8" fill="#ffff10" opacity="0.62"/>
<rect x="371.9" y="42.9" width="0.8" height="6.9" fill="#ffff30" opacity="0.32"/>
<rect x="372.5" y="47.4" width="0.9" height="5.4" fill="#ffff10" opacity="0.62"/>
<rect x="372.5" y="45.4" width="0.8" height="9.1" fill="#ffff30" opacity="0.32"/>
<rect x="373.1" y="47.1" width="0.9" height="5.0" fill="#ffff10" opacity="0.62"/>
<rect x="373.1" y="45.5" width="0.8" height="10.4" fill="#ffff30" opacity="0.32"/>
<rect x="373.7" y="46.9" width="0.9" height="5.2" fill="#ffff10" opacity="0.62"/>
<rect x="373.7" y="43.7" width="0.8" height="7.1" fill="#ffff30" opacity="0.32"/>
<rect x="374.3" y="47.6" width="0.9" height="4.8" fill="#ffff10" opacity="0.62"/>
<rect x="374.3" y="44.4" width="0.8" height="8.6" fill="#ffff30" opacity="0.32"/>
<rect x="374.9" y="47.8" width="0.9" height="3.7" fill="#ffff10" opacity="0.62"/>
<rect x="374.9" y="44.9" width="0.8" height="7.9" fill="#ffff30" opacity="0.32"/>
<rect x="375.5" y="48.3" width="0.9" height="4.9" fill="#ffff10" opacity="0.62"/>
<rect x="375.5" y="47.6" width="0.8" height="8.4" fill="#ffff30" opacity="0.32"/>
<rect x="376.1" y="45.2" width="0.9" height="4.6" fill="#ffff10" opacity="0.62"/>
<rect x="376.1" y="48.1" width="0.8" height="7.8" fill="#ffff30" opacity="0.32"/>
<rect x="376.7" y="47.1" width="0.9" height="6.4" fill="#ffff10" opacity="0.62"/>
<rect x="376.7" y="44.7" width="0.8" height="7.0" fill="#ffff30" opacity="0.32"/>
<rect x="377.3" y="45.3" width="0.9" height="5.8" fill="#ffff10" opacity="0.62"/>
<rect x="377.3" y="44.3" width="0.8" height="11.9" fill="#ffff30" opacity="0.32"/>
<rect x="377.9" y="49.0" width="0.9" height="3.2" fill="#ffff10" opacity="0.62"/>
<rect x="377.9" y="46.4" width="0.8" height="7.5" fill="#ffff30" opacity="0.32"/>
<rect x="378.5" y="48.1" width="0.9" height="6.1" fill="#ffff10" opacity="0.62"/>
<rect x="378.5" y="45.4" width="0.8" height="8.6" fill="#ffff30" opacity="0.32"/>
<rect x="379.1" y="48.9" width="0.9" height="3.7" fill="#ffff10" opacity="0.62"/>
<rect x="379.1" y="43.6" width="0.8" height="11.1" fill="#ffff30" opacity="0.32"/>
<rect x="379.7" y="48.8" width="0.9" height="4.9" fill="#ffff10" opacity="0.62"/>
<rect x="379.7" y="45.6" width="0.8" height="10.1" fill="#ffff30" opacity="0.32"/>
<rect x="380.3" y="50.1" width="0.9" height="3.3" fill="#ffff10" opacity="0.62"/>
<rect x="380.3" y="48.9" width="0.8" height="7.6" fill="#ffff30" opacity="0.32"/>
<rect x="380.9" y="49.7" width="0.9" height="5.1" fill="#ffff10" opacity="0.62"/>
<rect x="380.9" y="50.1" width="0.8" height="7.6" fill="#ffff30" opacity="0.32"/>
<rect x="381.5" y="51.2" width="0.9" height="5.2" fill="#ffff10" opacity="0.62"/>
<rect x="381.5" y="49.3" width="0.8" height="7.5" fill="#ffff30" opacity="0.32"/>
<rect x="382.1" y="50.4" width="0.9" height="5.7" fill="#ffff10" opacity="0.62"/>
<rect x="382.1" y="49.4" width="0.8" height="9.7" fill="#ffff30" opacity="0.32"/>
<rect x="382.7" y="52.2" width="0.9" height="4.2" fill="#ffff10" opacity="0.62"/>
<rect x="382.7" y="49.3" width="0.8" height="9.7" fill="#ffff30" opacity="0.32"/>
<rect x="383.3" y="52.5" width="0.9" height="3.4" fill="#ffff10" opacity="0.62"/>
<rect x="383.3" y="48.8" width="0.8" height="10.6" fill="#ffff30" opacity="0.32"/>
<rect x="383.9" y="52.3" width="0.9" height="3.9" fill="#ffff10" opacity="0.62"/>
<rect x="383.9" y="49.4" width="0.8" height="12.1" fill="#ffff30" opacity="0.32"/>
<rect x="384.5" y="52.4" width="0.9" height="4.1" fill="#ffff10" opacity="0.62"/>
<rect x="384.5" y="51.9" width="0.8" height="8.9" fill="#ffff30" opacity="0.32"/>
<rect x="385.1" y="54.8" width="0.9" height="4.1" fill="#ffff10" opacity="0.62"/>
<rect x="385.1" y="48.0" width="0.8" height="7.6" fill="#ffff30" opacity="0.32"/>
<rect x="385.7" y="53.2" width="0.9" height="2.8" fill="#ffff10" opacity="0.62"/>
<rect x="385.7" y="48.0" width="0.8" height="11.8" fill="#ffff30" opacity="0.32"/>
<rect x="386.3" y="51.0" width="0.9" height="4.3" fill="#ffff10" opacity="0.62"/>
<rect x="386.3" y="49.8" width="0.8" height="11.7" fill="#ffff30" opacity="0.32"/>
<rect x="386.9" y="52.6" width="0.9" height="2.9" fill="#ffff10" opacity="0.62"/>
<rect x="386.9" y="49.8" width="0.8" height="9.7" fill="#ffff30" opacity="0.32"/>
<rect x="387.5" y="51.2" width="0.9" height="3.1" fill="#ffff10" opacity="0.62"/>
<rect x="387.5" y="46.9" width="0.8" height="10.1" fill="#ffff30" opacity="0.32"/>
<rect x="388.1" y="51.0" width="0.9" height="3.3" fill="#ffff10" opacity="0.62"/>
<rect x="388.1" y="50.4" width="0.8" height="8.1" fill="#ffff30" opacity="0.32"/>
<rect x="388.7" y="49.2" width="0.9" height="3.2" fill="#ffff10" opacity="0.62"/>
<rect x="388.7" y="47.8" width="0.8" height="9.3" fill="#ffff30" opacity="0.32"/>
<rect x="389.3" y="51.5" width="0.9" height="3.5" fill="#ffff10" opacity="0.62"/>
<rect x="389.3" y="45.9" width="0.8" height="7.2" fill="#ffff30" opacity="0.32"/>
<rect x="389.9" y="52.4" width="0.9" height="4.5" fill="#ffff10" opacity="0.62"/>
<rect x="389.9" y="47.8" width="0.8" height="6.7" fill="#ffff30" opacity="0.32"/>
<rect x="390.5" y="50.0" width="0.9" height="6.1" fill="#ffff10" opacity="0.62"/>
<rect x="390.5" y="46.7" width="0.8" height="10.1" fill="#ffff30" opacity="0.32"/>
<rect x="391.1" y="49.6" width="0.9" height="5.6" fill="#ffff10" opacity="0.62"/>
<rect x="391.1" y="47.7" width="0.8" height="7.7" fill="#ffff30" opacity="0.32"/>
<rect x="391.7" y="47.7" width="0.9" height="5.8" fill="#ffff10" opacity="0.62"/>
<rect x="391.7" y="49.6" width="0.8" height="7.5" fill="#ffff30" opacity="0.32"/>
<rect x="392.3" y="49.6" width="0.9" height="4.7" fill="#ffff10" opacity="0.62"/>
<rect x="392.3" y="48.6" width="0.8" height="8.7" fill="#ffff30" opacity="0.32"/>
<rect x="392.9" y="49.0" width="0.9" height="5.4" fill="#ffff10" opacity="0.62"/>
<rect x="392.9" y="46.0" width="0.8" height="11.8" fill="#ffff30" opacity="0.32"/>
<rect x="393.5" y="49.1" width="0.9" height="5.5" fill="#ffff10" opacity="0.62"/>
<rect x="393.5" y="47.8" width="0.8" height="6.6" fill="#ffff30" opacity="0.32"/>
<rect x="394.1" y="48.0" width="0.9" height="5.0" fill="#ffff10" opacity="0.62"/>
<rect x="394.1" y="44.9" width="0.8" height="9.7" fill="#ffff30" opacity="0.32"/>
<rect x="394.7" y="47.1" width="0.9" height="4.3" fill="#ffff10" opacity="0.62"/>
<rect x="394.7" y="44.1" width="0.8" height="9.9" fill="#ffff30" opacity="0.32"/>
<rect x="395.3" y="46.1" width="0.9" height="4.4" fill="#ffff10" opacity="0.62"/>
<rect x="395.3" y="45.7" width="0.8" height="9.0" fill="#ffff30" opacity="0.32"/>
<rect x="395.9" y="48.3" width="0.9" height="4.6" fill="#ffff10" opacity="0.62"/>
<rect x="395.9" y="45.7" width="0.8" height="7.8" fill="#ffff30" opacity="0.32"/>
<rect x="396.5" y="47.2" width="0.9" height="4.4" fill="#ffff10" opacity="0.62"/>
<rect x="396.5" y="43.5" width="0.8" height="7.5" fill="#ffff30" opacity="0.32"/>
<rect x="397.1" y="47.2" width="0.9" height="3.3" fill="#ffff10" opacity="0.62"/>
<rect x="397.1" y="44.8" width="0.8" height="9.0" fill="#ffff30" opacity="0.32"/>
<rect x="397.7" y="47.7" width="0.9" height="4.6" fill="#ffff10" opacity="0.62"/>
<rect x="397.7" y="46.5" width="0.8" height="6.6" fill="#ffff30" opacity="0.32"/>
<rect x="398.3" y="46.1" width="0.9" height="5.4" fill="#ffff10" opacity="0.62"/>
<rect x="398.3" y="43.2" width="0.8" height="11.1" fill="#ffff30" opacity="0.32"/>
<rect x="398.9" y="46.4" width="0.9" height="4.6" fill="#ffff10" opacity="0.62"/>
<rect x="398.9" y="44.7" width="0.8" height="8.7" fill="#ffff30" opacity="0.32"/>
<rect x="399.5" y="46.1" width="0.9" height="5.9" fill="#ffff10" opacity="0.62"/>
<rect x="399.5" y="42.2" width="0.8" height="12.4" fill="#ffff30" opacity="0.32"/>
<rect x="400.1" y="46.1" width="0.9" height="3.5" fill="#ffff10" opacity="0.62"/>
<rect x="400.1" y="39.7" width="0.8" height="12.3" fill="#ffff30" opacity="0.32"/>
<rect x="400.7" y="42.3" width="0.9" height="6.1" fill="#ffff10" opacity="0.62"/>
<rect x="400.7" y="44.0" width="0.8" height="7.4" fill="#ffff30" opacity="0.32"/>
<rect x="401.3" y="46.1" width="0.9" height="3.0" fill="#ffff10" opacity="0.62"/>
<rect x="401.3" y="40.1" width="0.8" height="8.5" fill="#ffff30" opacity="0.32"/>
<rect x="401.9" y="43.6" width="0.9" height="6.0" fill="#ffff10" opacity="0.62"/>
<rect x="401.9" y="41.9" width="0.8" height="8.0" fill="#ffff30" opacity="0.32"/>
<rect x="402.5" y="44.3" width="0.9" height="4.6" fill="#ffff10" opacity="0.62"/>
<rect x="402.5" y="39.8" width="0.8" height="11.9" fill="#ffff30" opacity="0.32"/>
<rect x="403.1" y="44.1" width="0.9" height="4.6" fill="#ffff10" opacity="0.62"/>
<rect x="403.1" y="43.0" width="0.8" height="8.3" fill="#ffff30" opacity="0.32"/>
<rect x="403.7" y="44.9" width="0.9" height="3.4" fill="#ffff10" opacity="0.62"/>
<rect x="403.7" y="40.2" width="0.8" height="12.0" fill="#ffff30" opacity="0.32"/>
<rect x="404.3" y="43.4" width="0.9" height="3.4" fill="#ffff10" opacity="0.62"/>
<rect x="404.3" y="38.1" width="0.8" height="11.1" fill="#ffff30" opacity="0.32"/>
<rect x="404.9" y="44.1" width="0.9" height="5.1" fill="#ffff10" opacity="0.62"/>
<rect x="404.9" y="42.5" width="0.8" height="8.6" fill="#ffff30" opacity="0.32"/>
<rect x="405.5" y="44.0" width="0.9" height="4.9" fill="#ffff10" opacity="0.62"/>
<rect x="405.5" y="38.7" width="0.8" height="11.7" fill="#ffff30" opacity="0.32"/>
<rect x="406.1" y="45.0" width="0.9" height="5.1" fill="#ffff10" opacity="0.62"/>
<rect x="406.1" y="43.2" width="0.8" height="8.8" fill="#ffff30" opacity="0.32"/>
<rect x="406.7" y="41.0" width="0.9" height="6.4" fill="#ffff10" opacity="0.62"/>
<rect x="406.7" y="38.1" width="0.8" height="9.9" fill="#ffff30" opacity="0.32"/>
<rect x="407.3" y="39.4" width="0.9" height="4.4" fill="#ffff10" opacity="0.62"/>
<rect x="407.3" y="40.4" width="0.8" height="7.5" fill="#ffff30" opacity="0.32"/>
<rect x="407.9" y="38.3" width="0.9" height="5.8" fill="#ffff10" opacity="0.62"/>
<rect x="407.9" y="36.9" width="0.8" height="7.9" fill="#ffff30" opacity="0.32"/>
<rect x="408.5" y="36.6" width="0.9" height="4.9" fill="#ffff10" opacity="0.62"/>
<rect x="408.5" y="32.9" width="0.8" height="10.4" fill="#ffff30" opacity="0.32"/>
<rect x="409.1" y="39.0" width="0.9" height="2.9" fill="#ffff10" opacity="0.62"/>
<rect x="409.1" y="36.9" width="0.8" height="7.3" fill="#ffff30" opacity="0.32"/>
<rect x="409.7" y="37.1" width="0.9" height="4.6" fill="#ffff10" opacity="0.62"/>
<rect x="409.7" y="33.4" width="0.8" height="11.8" fill="#ffff30" opacity="0.32"/>
<rect x="410.3" y="38.3" width="0.9" height="5.2" fill="#ffff10" opacity="0.62"/>
<rect x="410.3" y="37.8" width="0.8" height="6.5" fill="#ffff30" opacity="0.32"/>
<rect x="410.9" y="40.6" width="0.9" height="3.2" fill="#ffff10" opacity="0.62"/>
<rect x="410.9" y="37.1" width="0.8" height="8.5" fill="#ffff30" opacity="0.32"/>
<rect x="411.5" y="40.0" width="0.9" height="4.9" fill="#ffff10" opacity="0.62"/>
<rect x="411.5" y="40.0" width="0.8" height="7.6" fill="#ffff30" opacity="0.32"/>
<rect x="412.1" y="40.6" width="0.9" height="3.3" fill="#ffff10" opacity="0.62"/>
<rect x="412.1" y="36.1" width="0.8" height="12.0" fill="#ffff30" opacity="0.32"/>
<rect x="412.7" y="41.6" width="0.9" height="3.1" fill="#ffff10" opacity="0.62"/>
<rect x="412.7" y="38.7" width="0.8" height="10.2" fill="#ffff30" opacity="0.32"/>
<rect x="413.3" y="42.2" width="0.9" height="4.2" fill="#ffff10" opacity="0.62"/>
<rect x="413.3" y="37.7" width="0.8" height="8.0" fill="#ffff30" opacity="0.32"/>
<rect x="413.9" y="42.2" width="0.9" height="4.8" fill="#ffff10" opacity="0.62"/>
<rect x="413.9" y="39.2" width="0.8" height="8.5" fill="#ffff30" opacity="0.32"/>
<rect x="414.5" y="39.7" width="0.9" height="6.2" fill="#ffff10" opacity="0.62"/>
<rect x="414.5" y="37.0" width="0.8" height="10.8" fill="#ffff30" opacity="0.32"/>
<rect x="415.1" y="41.9" width="0.9" height="3.0" fill="#ffff10" opacity="0.62"/>
<rect x="415.1" y="41.2" width="0.8" height="9.6" fill="#ffff30" opacity="0.32"/>
<rect x="415.7" y="40.6" width="0.9" height="3.0" fill="#ffff10" opacity="0.62"/>
<rect x="415.7" y="37.6" width="0.8" height="11.1" fill="#ffff30" opacity="0.32"/>
<rect x="416.3" y="39.9" width="0.9" height="6.2" fill="#ffff10" opacity="0.62"/>
<rect x="416.3" y="38.4" width="0.8" height="7.3" fill="#ffff30" opacity="0.32"/>
<rect x="416.9" y="39.2" width="0.9" height="4.6" fill="#ffff10" opacity="0.62"/>
<rect x="416.9" y="37.6" width="0.8" height="10.2" fill="#ffff30" opacity="0.32"/>
<rect x="417.5" y="39.1" width="0.9" height="3.9" fill="#ffff10" opacity="0.62"/>
<rect x="417.5" y="36.1" width="0.8" height="8.2" fill="#ffff30" opacity="0.32"/>
<rect x="418.1" y="39.7" width="0.9" height="5.6" fill="#ffff10" opacity="0.62"/>
<rect x="418.1" y="36.1" width="0.8" height="10.7" fill="#ffff30" opacity="0.32"/>
<rect x="418.7" y="39.6" width="0.9" height="5.5" fill="#ffff10" opacity="0.62"/>
<rect x="418.7" y="36.1" width="0.8" height="9.2" fill="#ffff30" opacity="0.32"/>
<rect x="419.3" y="39.1" width="0.9" height="3.6" fill="#ffff10" opacity="0.62"/>
<rect x="419.3" y="36.1" width="0.8" height="7.0" fill="#ffff30" opacity="0.32"/>
<rect x="419.9" y="39.9" width="0.9" height="4.0" fill="#ffff10" opacity="0.62"/>
<rect x="419.9" y="36.7" width="0.8" height="10.9" fill="#ffff30" opacity="0.32"/>
<rect x="420.5" y="39.5" width="0.9" height="5.4" fill="#ffff10" opacity="0.62"/>
<rect x="420.5" y="36.6" width="0.8" height="8.0" fill="#ffff30" opacity="0.32"/>
<rect x="421.1" y="39.8" width="0.9" height="5.6" fill="#ffff10" opacity="0.62"/>
<rect x="421.1" y="38.3" width="0.8" height="9.5" fill="#ffff30" opacity="0.32"/>
<rect x="421.7" y="40.3" width="0.9" height="6.3" fill="#ffff10" opacity="0.62"/>
<rect x="421.7" y="41.4" width="0.8" height="7.7" fill="#ffff30" opacity="0.32"/>
<rect x="422.3" y="41.9" width="0.9" height="3.7" fill="#ffff10" opacity="0.62"/>
<rect x="422.3" y="39.6" width="0.8" height="7.8" fill="#ffff30" opacity="0.32"/>
<rect x="422.9" y="40.9" width="0.9" height="5.5" fill="#ffff10" opacity="0.62"/>
<rect x="422.9" y="36.7" width="0.8" height="8.4" fill="#ffff30" opacity="0.32"/>
<rect x="423.5" y="42.6" width="0.9" height="3.7" fill="#ffff10" opacity="0.62"/>
<rect x="423.5" y="37.2" width="0.8" height="11.8" fill="#ffff30" opacity="0.32"/>
<rect x="424.1" y="40.3" width="0.9" height="5.2" fill="#ffff10" opacity="0.62"/>
<rect x="424.1" y="36.4" width="0.8" height="12.3" fill="#ffff30" opacity="0.32"/>
<rect x="424.7" y="39.6" width="0.9" height="5.3" fill="#ffff10" opacity="0.62"/>
<rect x="424.7" y="38.6" width="0.8" height="11.5" fill="#ffff30" opacity="0.32"/>
<rect x="425.3" y="40.2" width="0.9" height="4.9" fill="#ffff10" opacity="0.62"/>
<rect x="425.3" y="40.6" width="0.8" height="8.2" fill="#ffff30" opacity="0.32"/>
<rect x="425.9" y="42.7" width="0.9" height="3.1" fill="#ffff10" opacity="0.62"/>
<rect x="425.9" y="39.6" width="0.8" height="11.9" fill="#ffff30" opacity="0.32"/>
<rect x="426.5" y="42.4" width="0.9" height="3.2" fill="#ffff10" opacity="0.62"/>
<rect x="426.5" y="38.1" width="0.8" height="12.0" fill="#ffff30" opacity="0.32"/>
<rect x="427.1" y="42.1" width="0.9" height="2.9" fill="#ffff10" opacity="0.62"/>
<rect x="427.1" y="41.0" width="0.8" height="6.6" fill="#ffff30" opacity="0.32"/>
<rect x="427.7" y="40.6" width="0.9" height="5.3" fill="#ffff10" opacity="0.62"/>
<rect x="427.7" y="36.8" width="0.8" height="10.8" fill="#ffff30" opacity="0.32"/>
<rect x="428.3" y="42.7" width="0.9" height="4.1" fill="#ffff10" opacity="0.62"/>
<rect x="428.3" y="38.7" width="0.8" height="11.3" fill="#ffff30" opacity="0.32"/>
<rect x="428.9" y="42.9" width="0.9" height="3.0" fill="#ffff10" opacity="0.62"/>
<rect x="428.9" y="35.6" width="0.8" height="11.6" fill="#ffff30" opacity="0.32"/>
<rect x="429.5" y="43.9" width="0.9" height="3.2" fill="#ffff10" opacity="0.62"/>
<rect x="429.5" y="38.3" width="0.8" height="7.6" fill="#ffff30" opacity="0.32"/>
<rect x="269.7" y="55.5" width="1" height="1" fill="#ffff20" opacity="0.6"/>
<rect x="396.1" y="51.3" width="1" height="1" fill="#ffff20" opacity="0.6"/>
<rect x="364.0" y="51.5" width="1" height="1" fill="#ffff20" opacity="0.6"/>
<rect x="301.4" y="45.7" width="1" height="1" fill="#ffff20" opacity="0.6"/>
<rect x="267.5" y="51.7" width="1" height="1" fill="#ffff20" opacity="0.6"/>
<rect x="286.5" y="52.5" width="1" height="1" fill="#ffff20" opacity="0.6"/>
<rect x="307.1" y="44.4" width="1" height="1" fill="#ffff20" opacity="0.6"/>
<rect x="295.8" y="51.4" width="1" height="1" fill="#ffff20" opacity="0.6"/>
<rect x="300.5" y="50.6" width="1" height="1" fill="#ffff20" opacity="0.6"/>
<rect x="307.4" y="40.8" width="1" height="1" fill="#ffff20" opacity="0.6"/>
<rect x="423.5" y="34.8" width="1" height="1" fill="#ffff20" opacity="0.6"/>
<rect x="361.1" y="50.6" width="1" height="1" fill="#ffff20" opacity="0.6"/>
<rect x="255.1" y="41.7" width="1" height="1" fill="#ffff20" opacity="0.6"/>
<rect x="389.0" y="55.1" width="1" height="1" fill="#ffff20" opacity="0.6"/>
<rect x="312.1" y="40.9" width="1" height="1" fill="#ffff20" opacity="0.6"/>
<rect x="288.6" y="42.9" width="1" height="1" fill="#ffff20" opacity="0.6"/>
<rect x="405.1" y="52.9" width="1" height="1" fill="#ffff20" opacity="0.6"/>
<rect x="280.3" y="52.6" width="1" height="1" fill="#ffff20" opacity="0.6"/>
<rect x="249.7" y="48.8" width="1" height="1" fill="#ffff20" opacity="0.6"/>
<rect x="426.0" y="51.4" width="1" height="1" fill="#ffff20" opacity="0.6"/>
<rect x="250.3" y="41.1" width="1" height="1" fill="#ffff20" opacity="0.6"/>
<rect x="393.3" y="51.2" width="1" height="1" fill="#ffff20" opacity="0.6"/>
<rect x="282.8" y="43.8" width="1" height="1" fill="#ffff20" opacity="0.6"/>
<rect x="399.6" y="48.6" width="1" height="1" fill="#ffff20" opacity="0.6"/>
<rect x="296.5" y="54.6" width="1" height="1" fill="#ffff20" opacity="0.6"/>
<rect x="288.3" y="47.1" width="1" height="1" fill="#ffff20" opacity="0.6"/>
<rect x="375.8" y="47.5" width="1" height="1" fill="#ffff20" opacity="0.6"/>
<rect x="364.4" y="48.1" width="1" height="1" fill="#ffff20" opacity="0.6"/>
<rect x="264.1" y="44.7" width="1" height="1" fill="#ffff20" opacity="0.6"/>
<rect x="391.5" y="45.2" width="1" height="1" fill="#ffff20" opacity="0.6"/>
<rect x="362.8" y="46.8" width="1" height="1" fill="#ffff20" opacity="0.6"/>
<rect x="320.7" y="53.2" width="1" height="1" fill="#ffff20" opacity="0.6"/>
<rect x="410.2" y="48.6" width="1" height="1" fill="#ffff20" opacity="0.6"/>
<rect x="254.0" y="51.1" width="1" height="1" fill="#ffff20" opacity="0.6"/>
<rect x="286.7" y="47.3" width="1" height="1" fill="#ffff20" opacity="0.6"/>
<rect x="340.0" y="54.3" width="1" height="1" fill="#ffff20" opacity="0.6"/>
<rect x="318.0" y="49.9" width="1" height="1" fill="#ffff20" opacity="0.6"/>
<rect x="332.7" y="35.5" width="1" height="1" fill="#ffff20" opacity="0.6"/>
<rect x="345.4" y="48.1" width="1" height="1" fill="#ffff20" opacity="0.6"/>
<rect x="366.2" y="39.8" width="1" height="1" fill="#ffff20" opacity="0.6"/>
<rect x="312.4" y="41.3" width="1" height="1" fill="#ffff20" opacity="0.6"/>
<rect x="401.7" y="49.1" width="1" height="1" fill="#ffff20" opacity="0.6"/>
<rect x="369.0" y="47.4" width="1" height="1" fill="#ffff20" opacity="0.6"/>
<rect x="328.7" y="37.4" width="1" height="1" fill="#ffff20" opacity="0.6"/>
<rect x="389.1" y="50.4" width="1" height="1" fill="#ffff20" opacity="0.6"/>
<rect x="332.9" y="36.7" width="1" height="1" fill="#ffff20" opacity="0.6"/>
<rect x="409.3" y="40.6" width="1" height="1" fill="#ffff20" opacity="0.6"/>
<rect x="303.9" y="54.5" width="1" height="1" fill="#ffff20" opacity="0.6"/>
<rect x="376.4" y="51.3" width="1" height="1" fill="#ffff20" opacity="0.6"/>
<rect x="277.7" y="45.5" width="1" height="1" fill="#ffff20" opacity="0.6"/>
<rect x="294.2" y="47.5" width="1" height="1" fill="#ffff20" opacity="0.6"/>
<rect x="278.5" y="52.8" width="1" height="1" fill="#ffff20" opacity="0.6"/>
<rect x="308.7" y="48.8" width="1" height="1" fill="#ffff20" opacity="0.6"/>
<rect x="381.0" y="64.0" width="1" height="1" fill="#ffff20" opacity="0.6"/>
<rect x="267.9" y="47.7" width="1" height="1" fill="#ffff20" opacity="0.6"/>
<rect x="318.9" y="47.6" width="1" height="1" fill="#ffff20" opacity="0.6"/>
<rect x="427.1" y="45.9" width="1" height="1" fill="#ffff20" opacity="0.6"/>
<rect x="328.0" y="35.8" width="1" height="1" fill="#ffff20" opacity="0.6"/>
<rect x="284.9" y="46.6" width="1" height="1" fill="#ffff20" opacity="0.6"/>
<rect x="286.8" y="46.5" width="1" height="1" fill="#ffff20" opacity="0.6"/>
<rect x="319.6" y="53.2" width="1" height="1" fill="#ffff20" opacity="0.6"/>
<rect x="392.3" y="52.8" width="1" height="1" fill="#ffff20" opacity="0.6"/>
<rect x="374.7" y="43.1" width="1" height="1" fill="#ffff20" opacity="0.6"/>
<rect x="333.1" y="37.9" width="1" height="1" fill="#ffff20" opacity="0.6"/>
<rect x="275.1" y="43.8" width="1" height="1" fill="#ffff20" opacity="0.6"/>
<rect x="383.2" y="51.6" width="1" height="1" fill="#ffff20" opacity="0.6"/>
<rect x="413.4" y="37.8" width="1" height="1" fill="#ffff20" opacity="0.6"/>
<rect x="384.7" y="57.4" width="1" height="1" fill="#ffff20" opacity="0.6"/>
<rect x="325.5" y="53.2" width="1" height="1" fill="#ffff20" opacity="0.6"/>
<rect x="408.4" y="48.1" width="1" height="1" fill="#ffff20" opacity="0.6"/>
<rect x="389.2" y="49.7" width="1" height="1" fill="#ffff20" opacity="0.6"/>
<rect x="372.2" y="40.4" width="1" height="1" fill="#ffff20" opacity="0.6"/>
<rect x="365.3" y="43.7" width="1" height="1" fill="#ffff20" opacity="0.6"/>
<rect x="362.9" y="50.7" width="1" height="1" fill="#ffff20" opacity="0.6"/>
<rect x="267.2" y="38.1" width="1" height="1" fill="#ffff20" opacity="0.6"/>
<rect x="378.2" y="53.8" width="1" height="1" fill="#ffff20" opacity="0.6"/>
<rect x="363.1" y="49.4" width="1" height="1" fill="#ffff20" opacity="0.6"/>
<rect x="331.7" y="42.5" width="1" height="1" fill="#ffff20" opacity="0.6"/>
<rect x="361.7" y="44.8" width="1" height="1" fill="#ffff20" opacity="0.6"/>
<rect x="417.4" y="44.6" width="1" height="1" fill="#ffff20" opacity="0.6"/>
<rect x="282.5" y="43.5" width="1" height="1" fill="#ffff20" opacity="0.6"/>
<rect x="319.7" y="42.1" width="1" height="1" fill="#ffff20" opacity="0.6"/>
<rect x="337.9" y="43.7" width="1" height="1" fill="#ffff20" opacity="0.6"/>
<rect x="347.6" y="50.8" width="1" height="1" fill="#ffff20" opacity="0.6"/>
<rect x="278.5" y="50.0" width="1" height="1" fill="#ffff20" opacity="0.6"/>
<rect x="343.2" y="34.2" width="1" height="1" fill="#ffff20" opacity="0.6"/>
<rect x="267.7" y="40.4" width="1" height="1" fill="#ffff20" opacity="0.6"/>
<rect x="379.0" y="47.4" width="1" height="1" fill="#ffff20" opacity="0.6"/>
<rect x="342.0" y="39.2" width="1" height="1" fill="#ffff20" opacity="0.6"/>
<rect x="343.7" y="38.3" width="1" height="1" fill="#ffff20" opacity="0.6"/>
<rect x="323.6" y="54.3" width="1" height="1" fill="#ffff20" opacity="0.6"/>
<rect x="373.0" y="48.5" width="1" height="1" fill="#ffff20" opacity="0.6"/>
<rect x="320.3" y="49.4" width="1" height="1" fill="#ffff20" opacity="0.6"/>
<rect x="427.2" y="41.5" width="1" height="1" fill="#ffff20" opacity="0.6"/>
<rect x="313.7" y="46.0" width="1" height="1" fill="#ffff20" opacity="0.6"/>
<rect x="321.6" y="51.4" width="1" height="1" fill="#ffff20" opacity="0.6"/>
<rect x="251.9" y="42.2" width="1" height="1" fill="#ffff20" opacity="0.6"/>
<rect x="375.5" y="52.1" width="1" height="1" fill="#ffff20" opacity="0.6"/>
<rect x="313.1" y="42.2" width="1" height="1" fill="#ffff20" opacity="0.6"/>
<rect x="383.3" y="57.7" width="1" height="1" fill="#ffff20" opacity="0.6"/>
<rect x="419.2" y="37.5" width="1" height="1" fill="#ffff20" opacity="0.6"/>
<rect x="394.2" y="49.6" width="1" height="1" fill="#ffff20" opacity="0.6"/>
<rect x="320.2" y="49.7" width="1" height="1" fill="#ffff20" opacity="0.6"/>
<rect x="389.7" y="54.7" width="1" height="1" fill="#ffff20" opacity="0.6"/>
<rect x="395.6" y="46.0" width="1" height="1" fill="#ffff20" opacity="0.6"/>
<rect x="351.0" y="48.4" width="1" height="1" fill="#ffff20" opacity="0.6"/>
<rect x="290.3" y="52.9" width="1" height="1" fill="#ffff20" opacity="0.6"/>
<rect x="364.8" y="46.7" width="1" height="1" fill="#ffff20" opacity="0.6"/>
<rect x="397.3" y="51.3" width="1" height="1" fill="#ffff20" opacity="0.6"/>
<rect x="302.6" y="46.8" width="1" height="1" fill="#ffff20" opacity="0.6"/>
<rect x="348.5" y="57.8" width="1" height="1" fill="#ffff20" opacity="0.6"/>
<rect x="313.5" y="48.7" width="1" height="1" fill="#ffff20" opacity="0.6"/>
<rect x="403.0" y="45.8" width="1" height="1" fill="#ffff20" opacity="0.6"/>
<rect x="295.3" y="55.1" width="1" height="1" fill="#ffff20" opacity="0.6"/>
<rect x="326.4" y="50.6" width="1" height="1" fill="#ffff20" opacity="0.6"/>
<rect x="379.8" y="51.3" width="1" height="1" fill="#ffff20" opacity="0.6"/>
<rect x="300.3" y="51.6" width="1" height="1" fill="#ffff20" opacity="0.6"/>
<rect x="336.1" y="43.9" width="1" height="1" fill="#ffff20" opacity="0.6"/>
<rect x="326.8" y="43.9" width="1" height="1" fill="#ffff20" opacity="0.6"/>
<rect x="314.9" y="37.4" width="1" height="1" fill="#ffff20" opacity="0.6"/>
<rect x="417.1" y="41.9" width="1" height="1" fill="#ffff20" opacity="0.6"/>
<rect x="398.9" y="47.8" width="1" height="1" fill="#ffff20" opacity="0.6"/>
<rect x="413.0" y="43.7" width="1" height="1" fill="#ffff20" opacity="0.6"/>
<rect x="399.6" y="46.1" width="1" height="1" fill="#ffff20" opacity="0.6"/>
<rect x="363.8" y="49.4" width="1" height="1" fill="#ffff20" opacity="0.6"/>
<rect x="421.3" y="43.6" width="1" height="1" fill="#ffff20" opacity="0.6"/>
<rect x="367.9" y="47.5" width="1" height="1" fill="#ffff20" opacity="0.6"/>
<rect x="275.3" y="49.7" width="1" height="1" fill="#ffff20" opacity="0.6"/>
<rect x="291.7" y="49.6" width="1" height="1" fill="#ffff20" opacity="0.6"/>
<rect x="277.1" y="43.5" width="1" height="1" fill="#ffff20" opacity="0.6"/>
<rect x="412.7" y="43.8" width="1" height="1" fill="#ffff20" opacity="0.6"/>
<rect x="410.3" y="37.8" width="1" height="1" fill="#ffff20" opacity="0.6"/>
<rect x="359.3" y="52.7" width="1" height="1" fill="#ffff20" opacity="0.6"/>
<rect x="410.9" y="34.6" width="1" height="1" fill="#ffff20" opacity="0.6"/>
<rect x="391.7" y="53.7" width="1" height="1" fill="#ffff20" opacity="0.6"/>
<rect x="374.5" y="47.0" width="1" height="1" fill="#ffff20" opacity="0.6"/>
<rect x="345.3" y="47.4" width="1" height="1" fill="#ffff20" opacity="0.6"/>
<rect x="408.8" y="35.7" width="1" height="1" fill="#ffff20" opacity="0.6"/>
<rect x="349.7" y="51.6" width="1" height="1" fill="#ffff20" opacity="0.6"/>
<rect x="274.7" y="50.8" width="1" height="1" fill="#ffff20" opacity="0.6"/>
<rect x="338.5" y="47.8" width="1" height="1" fill="#ffff20" opacity="0.6"/>
<rect x="275.6" y="49.4" width="1" height="1" fill="#ffff20" opacity="0.6"/>
<rect x="338.2" y="37.0" width="1" height="1" fill="#ffff20" opacity="0.6"/>
<rect x="405.2" y="45.8" width="1" height="1" fill="#ffff20" opacity="0.6"/>
<rect x="250.7" y="49.2" width="1" height="1" fill="#ffff20" opacity="0.6"/>
<rect x="351.0" y="47.9" width="1" height="1" fill="#ffff20" opacity="0.6"/>
<rect x="369.6" y="49.9" width="1" height="1" fill="#ffff20" opacity="0.6"/>
<rect x="325.1" y="48.3" width="1" height="1" fill="#ffff20" opacity="0.6"/>
<rect x="422.9" y="49.6" width="1" height="1" fill="#ffff20" opacity="0.6"/>
<rect x="364.3" y="51.2" width="1" height="1" fill="#ffff20" opacity="0.6"/>
<rect x="254.6" y="40.6" width="1" height="1" fill="#ffff20" opacity="0.6"/>
<rect x="417.6" y="36.4" width="1" height="1" fill="#ffff20" opacity="0.6"/>
<rect x="309.1" y="49.4" width="1" height="1" fill="#ffff20" opacity="0.6"/>
<rect x="337.0" y="40.6" width="1" height="1" fill="#ffff20" opacity="0.6"/>
<rect x="411.5" y="49.4" width="1" height="1" fill="#ffff20" opacity="0.6"/>
<rect x="362.4" y="51.7" width="1" height="1" fill="#ffff20" opacity="0.6"/>
<rect x="310.6" y="46.0" width="1" height="1" fill="#ffff20" opacity="0.6"/>
<rect x="335.2" y="35.4" width="1" height="1" fill="#ffff20" opacity="0.6"/>
<rect x="344.4" y="46.1" width="1" height="1" fill="#ffff20" opacity="0.6"/>
<rect x="328.1" y="39.7" width="1" height="1" fill="#ffff20" opacity="0.6"/>
<rect x="325.7" y="44.2" width="1" height="1" fill="#ffff20" opacity="0.6"/>
<rect x="302.4" y="48.6" width="1" height="1" fill="#ffff20" opacity="0.6"/>
<rect x="398.9" y="44.5" width="1" height="1" fill="#ffff20" opacity="0.6"/>
<rect x="298.5" y="54.4" width="1" height="1" fill="#ffff20" opacity="0.6"/>
<rect x="340.9" y="51.2" width="1" height="1" fill="#ffff20" opacity="0.6"/>
<rect x="392.4" y="50.6" width="1" height="1" fill="#ffff20" opacity="0.6"/>
<rect x="309.2" y="42.3" width="1" height="1" fill="#ffff20" opacity="0.6"/>
<rect x="355.4" y="55.5" width="1" height="1" fill="#ffff20" opacity="0.6"/>
<rect x="364.1" y="48.7" width="1" height="1" fill="#ffff20" opacity="0.6"/>
<rect x="379.9" y="49.8" width="1" height="1" fill="#ffff20" opacity="0.6"/>
<rect x="409.4" y="38.9" width="1" height="1" fill="#ffff20" opacity="0.6"/>
<rect x="303.7" y="51.1" width="1" height="1" fill="#ffff20" opacity="0.6"/>
<rect x="250.6" y="50.2" width="1" height="1" fill="#ffff20" opacity="0.6"/>
<rect x="359.4" y="61.0" width="1" height="1" fill="#ffff20" opacity="0.6"/>
<rect x="368.3" y="49.9" width="1" height="1" fill="#ffff20" opacity="0.6"/>
<rect x="359.9" y="41.4" width="1" height="1" fill="#ffff20" opacity="0.6"/>
<rect x="360.8" y="45.9" width="1" height="1" fill="#ffff20" opacity="0.6"/>
<rect x="357.1" y="46.7" width="1" height="1" fill="#ffff20" opacity="0.6"/>
<rect x="372.4" y="50.7" width="1" height="1" fill="#ffff20" opacity="0.6"/>
<rect x="332.1" y="44.2" width="1" height="1" fill="#ffff20" opacity="0.6"/>
<rect x="387.2" y="56.7" width="1" height="1" fill="#ffff20" opacity="0.6"/>
<rect x="256.2" y="47.4" width="1" height="1" fill="#ffff20" opacity="0.6"/>
<rect x="389.3" y="58.2" width="1" height="1" fill="#ffff20" opacity="0.6"/>
<rect x="316.1" y="41.0" width="1" height="1" fill="#ffff20" opacity="0.6"/>
<rect x="398.0" y="50.5" width="1" height="1" fill="#ffff20" opacity="0.6"/>
<rect x="296.1" y="45.3" width="1" height="1" fill="#ffff20" opacity="0.6"/>
<rect x="304.0" y="47.9" width="1" height="1" fill="#ffff20" opacity="0.6"/>
<rect x="327.2" y="48.2" width="1" height="1" fill="#ffff20" opacity="0.6"/>
<rect x="365.3" y="48.9" width="1" height="1" fill="#ffff20" opacity="0.6"/>
<rect x="351.9" y="51.9" width="1" height="1" fill="#ffff20" opacity="0.6"/>
<rect x="256.6" y="51.7" width="1" height="1" fill="#ffff20" opacity="0.6"/>
<rect x="353.3" y="58.0" width="1" height="1" fill="#ffff20" opacity="0.6"/>
<rect x="415.3" y="42.4" width="1" height="1" fill="#ffff20" opacity="0.6"/>
<rect x="319.4" y="48.8" width="1" height="1" fill="#ffff20" opacity="0.6"/>
<rect x="356.4" y="63.8" width="1" height="1" fill="#ffff20" opacity="0.6"/>
<rect x="335.3" y="34.0" width="1" height="1" fill="#ffff20" opacity="0.6"/>
<rect x="323.9" y="56.8" width="1" height="1" fill="#ffff20" opacity="0.6"/>
<rect x="287.8" y="52.3" width="1" height="1" fill="#ffff20" opacity="0.6"/>
<rect x="276.9" y="48.1" width="1" height="1" fill="#ffff20" opacity="0.6"/>
<rect x="372.9" y="49.5" width="1" height="1" fill="#ffff20" opacity="0.6"/>
<rect x="271.5" y="49.1" width="1" height="1" fill="#ffff20" opacity="0.6"/>
<rect x="406.5" y="44.1" width="1" height="1" fill="#ffff20" opacity="0.6"/>
<rect x="272.8" y="54.6" width="1" height="1" fill="#ffff20" opacity="0.6"/>
<rect x="293.2" y="50.4" width="1" height="1" fill="#ffff20" opacity="0.6"/>
<rect x="381.9" y="53.9" width="1" height="1" fill="#ffff20" opacity="0.6"/>
<rect x="389.2" y="53.8" width="1" height="1" fill="#ffff20" opacity="0.6"/>
<rect x="378.3" y="54.5" width="1" height="1" fill="#ffff20" opacity="0.6"/>
<rect x="264.7" y="38.2" width="1" height="1" fill="#ffff20" opacity="0.6"/>
<rect x="363.0" y="48.2" width="1" height="1" fill="#ffff20" opacity="0.6"/>
<rect x="417.8" y="35.9" width="1" height="1" fill="#ffff20" opacity="0.6"/>
<rect x="295.4" y="57.8" width="1" height="1" fill="#ffff20" opacity="0.6"/>
<rect x="251.6" y="44.7" width="1" height="1" fill="#ffff20" opacity="0.6"/>
<rect x="252.2" y="41.4" width="1" height="1" fill="#ffff20" opacity="0.6"/>
<rect x="263.9" y="35.6" width="1" height="1" fill="#ffff20" opacity="0.6"/>
<rect x="305.6" y="46.6" width="1" height="1" fill="#ffff20" opacity="0.6"/>
<rect x="404.9" y="43.0" width="1" height="1" fill="#ffff20" opacity="0.6"/>
<rect x="337.3" y="45.8" width="1" height="1" fill="#ffff20" opacity="0.6"/>
<rect x="353.3" y="53.9" width="1" height="1" fill="#ffff20" opacity="0.6"/>
<rect x="328.7" y="39.1" width="1" height="1" fill="#ffff20" opacity="0.6"/>
<rect x="393.4" y="48.5" width="1" height="1" fill="#ffff20" opacity="0.6"/>
<rect x="315.1" y="38.6" width="1" height="1" fill="#ffff20" opacity="0.6"/>
<rect x="324.9" y="46.9" width="1" height="1" fill="#ffff20" opacity="0.6"/>
<rect x="319.1" y="50.8" width="1" height="1" fill="#ffff20" opacity="0.6"/>
<rect x="391.1" y="41.4" width="1" height="1" fill="#ffff20" opacity="0.6"/>
<rect x="351.8" y="52.0" width="1" height="1" fill="#ffff20" opacity="0.6"/>
<rect x="425.3" y="45.5" width="1" height="1" fill="#ffff20" opacity="0.6"/>
<rect x="376.4" y="51.7" width="1" height="1" fill="#ffff20" opacity="0.6"/>
<rect x="358.9" y="47.9" width="1" height="1" fill="#ffff20" opacity="0.6"/>
<rect x="425.9" y="47.0" width="1" height="1" fill="#ffff20" opacity="0.6"/>
<rect x="305.2" y="42.8" width="1" height="1" fill="#ffff20" opacity="0.6"/>
<rect x="326.9" y="51.6" width="1" height="1" fill="#ffff20" opacity="0.6"/>
<rect x="373.1" y="46.6" width="1" height="1" fill="#ffff20" opacity="0.6"/>
<rect x="358.1" y="58.2" width="1" height="1" fill="#ffff20" opacity="0.6"/>
<rect x="300.6" y="46.4" width="1" height="1" fill="#ffff20" opacity="0.6"/>
<rect x="249.8" y="46.1" width="1" height="1" fill="#ffff20" opacity="0.6"/>
<rect x="355.4" y="56.8" width="1" height="1" fill="#ffff20" opacity="0.6"/>
<rect x="396.8" y="50.3" width="1" height="1" fill="#ffff20" opacity="0.6"/>
<rect x="399.9" y="47.4" width="1" height="1" fill="#ffff20" opacity="0.6"/>
<rect x="396.0" y="53.4" width="1" height="1" fill="#ffff20" opacity="0.6"/>
<rect x="298.9" y="46.9" width="1" height="1" fill="#ffff20" opacity="0.6"/>
<rect x="403.1" y="48.7" width="1" height="1" fill="#ffff20" opacity="0.6"/>
<rect x="414.4" y="36.9" width="1" height="1" fill="#ffff20" opacity="0.6"/>
<rect x="312.1" y="47.5" width="1" height="1" fill="#ffff20" opacity="0.6"/>
<rect x="393.4" y="53.8" width="1" height="1" fill="#ffff20" opacity="0.6"/>
<rect x="285.7" y="48.0" width="1" height="1" fill="#ffff20" opacity="0.6"/>
<rect x="291.7" y="38.3" width="1" height="1" fill="#ffff20" opacity="0.6"/>
<rect x="359.0" y="49.2" width="1" height="1" fill="#ffff20" opacity="0.6"/>
<rect x="286.8" y="43.5" width="1" height="1" fill="#ffff20" opacity="0.6"/>
<rect x="295.5" y="50.8" width="1" height="1" fill="#ffff20" opacity="0.6"/>
<rect x="332.5" y="29.5" width="1" height="1" fill="#ffff20" opacity="0.6"/>
<rect x="265.3" y="47.1" width="1" height="1" fill="#ffff20" opacity="0.6"/>
<rect x="291.5" y="41.5" width="1" height="1" fill="#ffff20" opacity="0.6"/>
<rect x="354.1" y="59.8" width="1" height="1" fill="#ffff20" opacity="0.6"/>
<rect x="343.7" y="39.2" width="1" height="1" fill="#ffff20" opacity="0.6"/>
<rect x="335.5" y="36.7" width="1" height="1" fill="#ffff20" opacity="0.6"/>
<rect x="284.2" y="46.4" width="1" height="1" fill="#ffff20" opacity="0.6"/>
<rect x="282.1" y="46.7" width="1" height="1" fill="#ffff20" opacity="0.6"/>
<rect x="351.4" y="48.2" width="1" height="1" fill="#ffff20" opacity="0.6"/>
<rect x="322.1" y="47.8" width="1" height="1" fill="#ffff20" opacity="0.6"/>
<rect x="257.5" y="42.8" width="1" height="1" fill="#ffff20" opacity="0.6"/>
<rect x="429.5" y="42.1" width="1" height="1" fill="#ffff20" opacity="0.6"/>
<rect x="363.7" y="50.3" width="1" height="1" fill="#ffff20" opacity="0.6"/>
<rect x="391.6" y="55.5" width="1" height="1" fill="#ffff20" opacity="0.6"/>
<rect x="311.8" y="47.8" width="1" height="1" fill="#ffff20" opacity="0.6"/>
<rect x="343.3" y="46.1" width="1" height="1" fill="#ffff20" opacity="0.6"/>
<rect x="428.3" y="43.9" width="1" height="1" fill="#ffff20" opacity="0.6"/>
<rect x="405.8" y="39.6" width="1" height="1" fill="#ffff20" opacity="0.6"/>
<rect x="296.7" y="51.6" width="1" height="1" fill="#ffff20" opacity="0.6"/>
<rect x="390.1" y="42.4" width="1" height="1" fill="#ffff20" opacity="0.6"/>
<rect x="388.0" y="58.5" width="1" height="1" fill="#ffff20" opacity="0.6"/>
<rect x="397.3" y="52.6" width="1" height="1" fill="#ffff20" opacity="0.6"/>
<rect x="256.3" y="44.8" width="1" height="1" fill="#ffff20" opacity="0.6"/>
<rect x="285.8" y="48.8" width="1" height="1" fill="#ffff20" opacity="0.6"/>
<rect x="258.7" y="40.6" width="1" height="1" fill="#ffff20" opacity="0.6"/>
<rect x="350.1" y="55.5" width="1" height="1" fill="#ffff20" opacity="0.6"/>
<rect x="420.5" y="39.0" width="1" height="1" fill="#ffff20" opacity="0.6"/>
<rect x="413.7" y="49.0" width="1" height="1" fill="#ffff20" opacity="0.6"/>
<rect x="321.2" y="52.3" width="1" height="1" fill="#ffff20" opacity="0.6"/>
<rect x="271.1" y="50.5" width="1" height="1" fill="#ffff20" opacity="0.6"/>
<rect x="351.4" y="51.4" width="1" height="1" fill="#ffff20" opacity="0.6"/>
<rect x="365.1" y="54.1" width="1" height="1" fill="#ffff20" opacity="0.6"/>
<rect x="320.5" y="47.5" width="1" height="1" fill="#ffff20" opacity="0.6"/>
<rect x="330.4" y="44.7" width="1" height="1" fill="#ffff20" opacity="0.6"/>
<rect x="428.5" y="53.8" width="1" height="1" fill="#ffff20" opacity="0.6"/>
<rect x="289.5" y="52.0" width="1" height="1" fill="#ffff20" opacity="0.6"/>
<rect x="313.0" y="43.4" width="1" height="1" fill="#ffff20" opacity="0.6"/>
<rect x="412.4" y="50.3" width="1" height="1" fill="#ffff20" opacity="0.6"/>
<rect x="258.0" y="36.3" width="1" height="1" fill="#ffff20" opacity="0.6"/>
<rect x="391.4" y="50.4" width="1" height="1" fill="#ffff20" opacity="0.6"/>
<rect x="427.4" y="37.4" width="1" height="1" fill="#ffff20" opacity="0.6"/>
<rect x="259.6" y="42.9" width="1" height="1" fill="#ffff20" opacity="0.6"/>
<rect x="419.1" y="46.7" width="1" height="1" fill="#ffff20" opacity="0.6"/>
<rect x="371.7" y="46.8" width="1" height="1" fill="#ffff20" opacity="0.6"/>
<rect x="386.3" y="60.5" width="1" height="1" fill="#ffff20" opacity="0.6"/>
<rect x="268.5" y="44.4" width="1" height="1" fill="#ffff20" opacity="0.6"/>
<rect x="271.9" y="50.4" width="1" height="1" fill="#ffff20" opacity="0.6"/>
<rect x="336.4" y="42.1" width="1" height="1" fill="#ffff20" opacity="0.6"/>
<rect x="275.3" y="50.5" width="1" height="1" fill="#ffff20" opacity="0.6"/>
<rect x="371.8" y="56.0" width="1" height="1" fill="#ffff20" opacity="0.6"/>
<rect x="284.7" y="48.6" width="1" height="1" fill="#ffff20" opacity="0.6"/>
<rect x="256.0" y="48.6" width="1" height="1" fill="#ffff20" opacity="0.6"/>
<rect x="418.1" y="39.3" width="1" height="1" fill="#ffff20" opacity="0.6"/>
<rect x="405.9" y="47.4" width="1" height="1" fill="#ffff20" opacity="0.6"/>
<rect x="330.2" y="36.8" width="1" height="1" fill="#ffff20" opacity="0.6"/>
<rect x="267.0" y="53.0" width="1" height="1" fill="#ffff20" opacity="0.6"/>
<rect x="362.9" y="45.8" width="1" height="1" fill="#ffff20" opacity="0.6"/>
<rect x="331.1" y="33.3" width="1" height="1" fill="#ffff20" opacity="0.6"/>
<rect x="335.7" y="46.7" width="1" height="1" fill="#ffff20" opacity="0.6"/>
<rect x="362.9" y="51.6" width="1" height="1" fill="#ffff20" opacity="0.6"/>
<rect x="259.7" y="40.6" width="1" height="1" fill="#ffff20" opacity="0.6"/>
<rect x="378.3" y="47.5" width="1" height="1" fill="#ffff20" opacity="0.6"/>
<rect x="406.7" y="43.2" width="1" height="1" fill="#ffff20" opacity="0.6"/>
<rect x="297.6" y="48.9" width="1" height="1" fill="#ffff20" opacity="0.6"/>
<rect x="298.4" y="52.7" width="1" height="1" fill="#ffff20" opacity="0.6"/>
<rect x="401.0" y="45.9" width="1" height="1" fill="#ffff20" opacity="0.6"/>
<rect x="338.1" y="45.0" width="1" height="1" fill="#ffff20" opacity="0.6"/>
<rect x="306.9" y="47.3" width="1" height="1" fill="#ffff20" opacity="0.6"/>
<rect x="426.1" y="42.6" width="1" height="1" fill="#ffff20" opacity="0.6"/>
<rect x="259.8" y="43.5" width="1" height="1" fill="#ffff20" opacity="0.6"/>
<rect x="287.6" y="44.1" width="1" height="1" fill="#ffff20" opacity="0.6"/>
<rect x="335.7" y="38.7" width="1" height="1" fill="#ffff20" opacity="0.6"/>
<rect x="285.9" y="51.5" width="1" height="1" fill="#ffff20" opacity="0.6"/>
<rect x="315.3" y="59.2" width="1" height="1" fill="#ffff20" opacity="0.6"/>
<rect x="416.5" y="40.7" width="1" height="1" fill="#ffff20" opacity="0.6"/>
<rect x="267.1" y="42.7" width="1" height="1" fill="#ffff20" opacity="0.6"/>
<rect x="259.9" y="47.5" width="1" height="1" fill="#ffff20" opacity="0.6"/>
<rect x="380.6" y="48.5" width="1" height="1" fill="#ffff20" opacity="0.6"/>
<rect x="252.4" y="58.6" width="1" height="1" fill="#ffff20" opacity="0.6"/>
<rect x="395.2" y="48.1" width="1" height="1" fill="#ffff20" opacity="0.6"/>
<rect x="249.8" y="48.6" width="1" height="1" fill="#ffff20" opacity="0.6"/>
<rect x="399.7" y="45.5" width="1" height="1" fill="#ffff20" opacity="0.6"/>
<rect x="328.1" y="42.3" width="1" height="1" fill="#ffff20" opacity="0.6"/>
<rect x="414.1" y="44.5" width="1" height="1" fill="#ffff20" opacity="0.6"/>
<rect x="274.4" y="53.3" width="1" height="1" fill="#ffff20" opacity="0.6"/>
<rect x="282.0" y="48.9" width="1" height="1" fill="#ffff20" opacity="0.6"/>
<rect x="285.0" y="40.8" width="1" height="1" fill="#ffff20" opacity="0.6"/>
<rect x="263.8" y="47.6" width="1" height="1" fill="#ffff20" opacity="0.6"/>
<rect x="338.9" y="46.7" width="1" height="1" fill="#ffff20" opacity="0.6"/>
<rect x="298.9" y="53.1" width="1" height="1" fill="#ffff20" opacity="0.6"/>
<rect x="377.3" y="55.9" width="1" height="1" fill="#ffff20" opacity="0.6"/>
<rect x="396.0" y="46.7" width="1" height="1" fill="#ffff20" opacity="0.6"/>
<rect x="261.4" y="36.6" width="1" height="1" fill="#ffff20" opacity="0.6"/>
<rect x="381.8" y="47.0" width="1" height="1" fill="#ffff20" opacity="0.6"/>
<rect x="259.5" y="42.3" width="1" height="1" fill="#ffff20" opacity="0.6"/>
<rect x="395.8" y="44.9" width="1" height="1" fill="#ffff20" opacity="0.6"/>
<rect x="405.5" y="53.2" width="1" height="1" fill="#ffff20" opacity="0.6"/>
<rect x="338.5" y="53.0" width="1" height="1" fill="#ffff20" opacity="0.6"/>
<rect x="335.5" y="40.2" width="1" height="1" fill="#ffff20" opacity="0.6"/>
<rect x="406.9" y="43.2" width="1" height="1" fill="#ffff20" opacity="0.6"/>
<rect x="399.6" y="51.4" width="1" height="1" fill="#ffff20" opacity="0.6"/>
<rect x="315.8" y="46.2" width="1" height="1" fill="#ffff20" opacity="0.6"/>
<rect x="356.9" y="55.6" width="1" height="1" fill="#ffff20" opacity="0.6"/>
<rect x="250.3" y="41.5" width="1" height="1" fill="#ffff20" opacity="0.6"/>
<rect x="342.6" y="44.2" width="1" height="1" fill="#ffff20" opacity="0.6"/>
<rect x="271.3" y="45.3" width="1" height="1" fill="#ffff20" opacity="0.6"/>
<rect x="405.7" y="37.3" width="1" height="1" fill="#ffff20" opacity="0.6"/>
<rect x="307.4" y="44.0" width="1" height="1" fill="#ffff20" opacity="0.6"/>
<rect x="385.1" y="50.4" width="1" height="1" fill="#ffff20" opacity="0.6"/>
<rect x="260.5" y="45.5" width="1" height="1" fill="#ffff20" opacity="0.6"/>
<rect x="338.8" y="35.1" width="1" height="1" fill="#ffff20" opacity="0.6"/>
<rect x="342.2" y="39.2" width="1" height="1" fill="#ffff20" opacity="0.6"/>
<rect x="253.2" y="45.2" width="1" height="1" fill="#ffff20" opacity="0.6"/>
<rect x="424.1" y="44.4" width="1" height="1" fill="#ffff20" opacity="0.6"/>
<rect x="268.0" y="48.6" width="1" height="1" fill="#ffff20" opacity="0.6"/>
<rect x="294.7" y="50.8" width="1" height="1" fill="#ffff20" opacity="0.6"/>
<rect x="266.9" y="43.9" width="1" height="1" fill="#ffff20" opacity="0.6"/>
<rect x="375.7" y="50.0" width="1" height="1" fill="#ffff20" opacity="0.6"/>
<rect x="357.7" y="52.5" width="1" height="1" fill="#ffff20" opacity="0.6"/>
<rect x="353.6" y="45.2" width="1" height="1" fill="#ffff20" opacity="0.6"/>
<rect x="268.1" y="44.7" width="1" height="1" fill="#ffff20" opacity="0.6"/>
<rect x="406.4" y="44.2" width="1" height="1" fill="#ffff20" opacity="0.6"/>
<rect x="271.7" y="45.8" width="1" height="1" fill="#ffff20" opacity="0.6"/>
<rect x="338.6" y="39.4" width="1" height="1" fill="#ffff20" opacity="0.6"/>
<rect x="271.5" y="47.1" width="1" height="1" fill="#ffff20" opacity="0.6"/>
<rect x="322.7" y="54.8" width="1" height="1" fill="#ffff20" opacity="0.6"/>
<rect x="404.9" y="50.4" width="1" height="1" fill="#ffff20" opacity="0.6"/>
<rect x="276.1" y="40.8" width="1" height="1" fill="#ffff20" opacity="0.6"/>
<rect x="279.2" y="44.5" width="1" height="1" fill="#ffff20" opacity="0.6"/>
<rect x="398.6" y="53.3" width="1" height="1" fill="#ffff20" opacity="0.6"/>
<rect x="325.4" y="50.5" width="1" height="1" fill="#ffff20" opacity="0.6"/>
<rect x="401.1" y="42.7" width="1" height="1" fill="#ffff20" opacity="0.6"/>
<rect x="419.4" y="40.4" width="1" height="1" fill="#ffff20" opacity="0.6"/>
<rect x="389.7" y="50.6" width="1" height="1" fill="#ffff20" opacity="0.6"/>
<rect x="310.0" y="46.4" width="1" height="1" fill="#ffff20" opacity="0.6"/>
<rect x="328.1" y="50.8" width="1" height="1" fill="#ffff20" opacity="0.6"/>
<rect x="414.3" y="42.4" width="1" height="1" fill="#ffff20" opacity="0.6"/>
<rect x="396.6" y="50.2" width="1" height="1" fill="#ffff20" opacity="0.6"/>
<rect x="342.9" y="43.6" width="1" height="1" fill="#ffff20" opacity="0.6"/>
<rect x="422.4" y="46.9" width="1" height="1" fill="#ffff20" opacity="0.6"/>
<rect x="325.7" y="51.0" width="1" height="1" fill="#ffff20" opacity="0.6"/>
<rect x="363.7" y="45.1" width="1" height="1" fill="#ffff20" opacity="0.6"/>
<rect x="262.0" y="42.9" width="1" height="1" fill="#ffff20" opacity="0.6"/>
<rect x="327.7" y="43.4" width="1" height="1" fill="#ffff20" opacity="0.6"/>
<rect x="274.7" y="47.4" width="1" height="1" fill="#ffff20" opacity="0.6"/>
<rect x="424.5" y="45.7" width="1" height="1" fill="#ffff20" opacity="0.6"/>
<rect x="363.8" y="38.0" width="1" height="1" fill="#ffff20" opacity="0.6"/>
<rect x="395.6" y="56.6" width="1" height="1" fill="#ffff20" opacity="0.6"/>
<rect x="255.7" y="39.4" width="1" height="1" fill="#ffff20" opacity="0.6"/>
<rect x="365.3" y="46.8" width="1" height="1" fill="#ffff20" opacity="0.6"/>
<rect x="298.9" y="58.3" width="1" height="1" fill="#ffff20" opacity="0.6"/>
<rect x="347.4" y="56.4" width="1" height="1" fill="#ffff20" opacity="0.6"/>
<rect x="294.7" y="47.4" width="1" height="1" fill="#ffff20" opacity="0.6"/>
<rect x="343.4" y="34.6" width="1" height="1" fill="#ffff20" opacity="0.6"/>
<rect x="301.4" y="56.1" width="1" height="1" fill="#ffff20" opacity="0.6"/>
<rect x="304.6" y="48.4" width="1" height="1" fill="#ffff20" opacity="0.6"/>
<rect x="356.8" y="49.9" width="1" height="1" fill="#ffff20" opacity="0.6"/>
<rect x="422.1" y="40.0" width="1" height="1" fill="#ffff20" opacity="0.6"/>
<rect x="333.7" y="37.7" width="1" height="1" fill="#ffff20" opacity="0.6"/>
<rect x="345.9" y="50.1" width="1" height="1" fill="#ffff20" opacity="0.6"/>
<rect x="273.2" y="49.2" width="1" height="1" fill="#ffff20" opacity="0.6"/>
<rect x="302.5" y="48.3" width="1" height="1" fill="#ffff20" opacity="0.6"/>
<rect x="293.4" y="51.8" width="1" height="1" fill="#ffff20" opacity="0.6"/>
<rect x="265.4" y="35.9" width="1" height="1" fill="#ffff20" opacity="0.6"/>
<rect x="359.6" y="48.8" width="1" height="1" fill="#ffff20" opacity="0.6"/>
<rect x="352.4" y="50.6" width="1" height="1" fill="#ffff20" opacity="0.6"/>
<rect x="377.7" y="47.4" width="1" height="1" fill="#ffff20" opacity="0.6"/>
<rect x="332.7" y="31.7" width="1" height="1" fill="#ffff20" opacity="0.6"/>
<rect x="334.1" y="36.3" width="1" height="1" fill="#ffff20" opacity="0.6"/>
<rect x="305.5" y="47.4" width="1" height="1" fill="#ffff20" opacity="0.6"/>
<rect x="342.0" y="48.0" width="1" height="1" fill="#ffff20" opacity="0.6"/>
<rect x="318.7" y="46.5" width="0.9" height="0.9" fill="#ffe860" opacity="0.6"/>
<rect x="313.2" y="41.6" width="0.9" height="0.9" fill="#ffe860" opacity="0.6"/>
<rect x="405.1" y="46.7" width="0.9" height="0.9" fill="#ffe860" opacity="0.6"/>
<rect x="338.2" y="56.7" width="0.9" height="0.9" fill="#ffe860" opacity="0.6"/>
<rect x="300.9" y="60.7" width="0.9" height="0.9" fill="#ffe860" opacity="0.6"/>
<rect x="388.9" y="51.9" width="0.9" height="0.9" fill="#ffe860" opacity="0.6"/>
<rect x="278.1" y="68.2" width="0.9" height="0.9" fill="#ffe860" opacity="0.6"/>
<rect x="328.9" y="48.4" width="0.9" height="0.9" fill="#ffe860" opacity="0.6"/>
<rect x="260.7" y="28.6" width="0.9" height="0.9" fill="#ffe860" opacity="0.6"/>
<rect x="382.2" y="61.3" width="0.9" height="0.9" fill="#ffe860" opacity="0.6"/>
<rect x="269.2" y="50.8" width="0.9" height="0.9" fill="#ffe860" opacity="0.6"/>
<rect x="277.4" y="42.4" width="0.9" height="0.9" fill="#ffe860" opacity="0.6"/>
<rect x="371.4" y="57.2" width="0.9" height="0.9" fill="#ffe860" opacity="0.6"/>
<rect x="360.7" y="62.9" width="0.9" height="0.9" fill="#ffe860" opacity="0.6"/>
<rect x="343.0" y="28.4" width="0.9" height="0.9" fill="#ffe860" opacity="0.6"/>
<rect x="382.8" y="53.3" width="0.9" height="0.9" fill="#ffe860" opacity="0.6"/>
<rect x="335.3" y="20.3" width="0.9" height="0.9" fill="#ffe860" opacity="0.6"/>
<rect x="391.2" y="45.9" width="0.9" height="0.9" fill="#ffe860" opacity="0.6"/>
<rect x="272.5" y="23.7" width="0.9" height="0.9" fill="#ffe860" opacity="0.6"/>
<rect x="406.7" y="62.7" width="0.9" height="0.9" fill="#ffe860" opacity="0.6"/>
<rect x="355.2" y="52.5" width="0.9" height="0.9" fill="#ffe860" opacity="0.6"/>
<rect x="339.4" y="57.8" width="0.9" height="0.9" fill="#ffe860" opacity="0.6"/>
<rect x="324.9" y="48.6" width="0.9" height="0.9" fill="#ffe860" opacity="0.6"/>
<rect x="391.0" y="62.7" width="0.9" height="0.9" fill="#ffe860" opacity="0.6"/>
<rect x="318.0" y="36.6" width="0.9" height="0.9" fill="#ffe860" opacity="0.6"/>
<rect x="331.1" y="20.9" width="0.9" height="0.9" fill="#ffe860" opacity="0.6"/>
<rect x="302.4" y="56.1" width="0.9" height="0.9" fill="#ffe860" opacity="0.6"/>
<rect x="320.0" y="38.8" width="0.9" height="0.9" fill="#ffe860" opacity="0.6"/>
<rect x="307.6" y="41.2" width="0.9" height="0.9" fill="#ffe860" opacity="0.6"/>
<rect x="391.6" y="59.7" width="0.9" height="0.9" fill="#ffe860" opacity="0.6"/>
<rect x="329.6" y="28.2" width="0.9" height="0.9" fill="#ffe860" opacity="0.6"/>
<rect x="282.8" y="45.9" width="0.9" height="0.9" fill="#ffe860" opacity="0.6"/>
<rect x="353.4" y="58.1" width="0.9" height="0.9" fill="#ffe860" opacity="0.6"/>
<rect x="354.5" y="73.1" width="0.9" height="0.9" fill="#ffe860" opacity="0.6"/>
<rect x="308.0" y="57.7" width="0.9" height="0.9" fill="#ffe860" opacity="0.6"/>
<rect x="401.7" y="61.3" width="0.9" height="0.9" fill="#ffe860" opacity="0.6"/>
<rect x="286.4" y="24.4" width="0.9" height="0.9" fill="#ffe860" opacity="0.6"/>
<rect x="326.5" y="51.5" width="0.9" height="0.9" fill="#ffe860" opacity="0.6"/>
<rect x="258.1" y="40.0" width="0.9" height="0.9" fill="#ffe860" opacity="0.6"/>
<rect x="351.5" y="27.6" width="0.9" height="0.9" fill="#ffe860" opacity="0.6"/>
<rect x="389.1" y="52.9" width="0.9" height="0.9" fill="#ffe860" opacity="0.6"/>
<rect x="346.7" y="63.2" width="0.9" height="0.9" fill="#ffe860" opacity="0.6"/>
<rect x="342.9" y="44.7" width="0.9" height="0.9" fill="#ffe860" opacity="0.6"/>
<rect x="373.2" y="41.6" width="0.9" height="0.9" fill="#ffe860" opacity="0.6"/>
<rect x="356.8" y="58.4" width="0.9" height="0.9" fill="#ffe860" opacity="0.6"/>
<rect x="312.9" y="58.1" width="0.9" height="0.9" fill="#ffe860" opacity="0.6"/>
<rect x="344.3" y="40.3" width="0.9" height="0.9" fill="#ffe860" opacity="0.6"/>
<rect x="267.4" y="37.4" width="0.9" height="0.9" fill="#ffe860" opacity="0.6"/>
<rect x="350.8" y="60.1" width="0.9" height="0.9" fill="#ffe860" opacity="0.6"/>
<rect x="353.1" y="73.0" width="0.9" height="0.9" fill="#ffe860" opacity="0.6"/>
<rect x="337.4" y="22.3" width="0.9" height="0.9" fill="#ffe860" opacity="0.6"/>
<rect x="345.2" y="50.1" width="0.9" height="0.9" fill="#ffe860" opacity="0.6"/>
<rect x="306.9" y="39.2" width="0.9" height="0.9" fill="#ffe860" opacity="0.6"/>
<rect x="426.1" y="50.0" width="0.9" height="0.9" fill="#ffe860" opacity="0.6"/>
<rect x="269.4" y="34.9" width="0.9" height="0.9" fill="#ffe860" opacity="0.6"/>
<rect x="411.0" y="33.9" width="0.9" height="0.9" fill="#ffe860" opacity="0.6"/>
<rect x="428.2" y="24.8" width="0.9" height="0.9" fill="#ffe860" opacity="0.6"/>
</g>
<line x1="250" y1="16" x2="250" y2="79.5" stroke="#c06070" stroke-width="1.3"/>
<line x1="258.8" y1="16" x2="258.8" y2="79.5" stroke="#d05068" stroke-width="1.5"/>
<line x1="262.3" y1="16" x2="262.3" y2="79.5" stroke="#e09098" stroke-width="0.6"/>
<line x1="265.1" y1="16" x2="265.1" y2="79.5" stroke="#8c8480" stroke-width="0.7"/>
<line x1="280.4" y1="16" x2="280.4" y2="79.5" stroke="#8c8480" stroke-width="0.7"/>
<line x1="293" y1="16" x2="293" y2="79.5" stroke="#8c8480" stroke-width="0.7"/>
<line x1="304.9" y1="16" x2="304.9" y2="79.5" stroke="#98787a" stroke-width="0.8"/>
<line x1="309" y1="16" x2="309" y2="79.5" stroke="#b8e8b8" stroke-width="0.7"/>
<line x1="316.5" y1="16" x2="316.5" y2="79.5" stroke="#8c8480" stroke-width="0.7"/>
<line x1="322.3" y1="16" x2="322.3" y2="79.5" stroke="#cfe6d4" stroke-width="0.6"/>
<line x1="326.5" y1="16" x2="326.5" y2="79.5" stroke="#98807c" stroke-width="0.7"/>
<line x1="328.4" y1="16" x2="328.4" y2="79.5" stroke="#e06874" stroke-width="0.7"/>
<line x1="330.2" y1="16" x2="330.2" y2="79.5" stroke="#e06874" stroke-width="0.7"/>
<line x1="332.2" y1="16" x2="332.2" y2="79.5" stroke="#e06874" stroke-width="0.7"/>
<line x1="334.2" y1="16" x2="334.2" y2="79.5" stroke="#e88088" stroke-width="0.7"/>
<line x1="336.5" y1="16" x2="336.5" y2="79.5" stroke="#a05858" stroke-width="1.0"/>
<line x1="345.7" y1="16" x2="345.7" y2="79.5" stroke="#8c8480" stroke-width="0.7"/>
<line x1="347.6" y1="16" x2="347.6" y2="79.5" stroke="#70d070" stroke-width="0.6"/>
<line x1="350" y1="16" x2="350" y2="79.5" stroke="#88dc88" stroke-width="0.5"/>
<line x1="352.4" y1="16" x2="352.4" y2="79.5" stroke="#58cc58" stroke-width="0.8"/>
<line x1="355" y1="16" x2="355" y2="79.5" stroke="#8c8480" stroke-width="0.7"/>
<line x1="363.5" y1="16" x2="363.5" y2="79.5" stroke="#8c8480" stroke-width="0.7"/>
<line x1="371.8" y1="16" x2="371.8" y2="79.5" stroke="#8c8480" stroke-width="0.7"/>
<line x1="380.4" y1="16" x2="380.4" y2="79.5" stroke="#8c8480" stroke-width="0.7"/>
<line x1="383.4" y1="16" x2="383.4" y2="79.5" stroke="#80d880" stroke-width="0.6"/>
<line x1="387.3" y1="16" x2="387.3" y2="79.5" stroke="#80d880" stroke-width="0.6"/>
<line x1="389" y1="16" x2="389" y2="79.5" stroke="#8c8480" stroke-width="0.7"/>
<line x1="393.7" y1="16" x2="393.7" y2="79.5" stroke="#8c8480" stroke-width="0.7"/>
<line x1="400.1" y1="16" x2="400.1" y2="79.5" stroke="#8c8480" stroke-width="0.7"/>
<line x1="405.3" y1="16" x2="405.3" y2="79.5" stroke="#8c8480" stroke-width="0.7"/>
<line x1="409.8" y1="16" x2="409.8" y2="79.5" stroke="#d85848" stroke-width="1.8"/>
<line x1="415" y1="16" x2="415" y2="79.5" stroke="#8c8480" stroke-width="0.7"/>
<line x1="418.8" y1="16" x2="418.8" y2="79.5" stroke="#8c8480" stroke-width="0.7"/>
<line x1="422.6" y1="16" x2="422.6" y2="79.5" stroke="#8c8480" stroke-width="0.7"/>
<line x1="425.4" y1="16" x2="425.4" y2="79.5" stroke="#8c8480" stroke-width="0.7"/>
<line x1="427.5" y1="16" x2="427.5" y2="79.5" stroke="#8c8480" stroke-width="0.7"/>
<line x1="429.5" y1="16" x2="429.5" y2="79.5" stroke="#8c8480" stroke-width="0.7"/>
<line x1="247" y1="78" x2="430" y2="78" stroke="#808080" stroke-width="0.6"/>
<rect x="243.6" y="17.1" width="2.6" height="0.9" fill="#b0a0a8" opacity="0.8"/>
<rect x="243.6" y="27.1" width="2.6" height="0.9" fill="#9aa0e0" opacity="0.8"/>
<rect x="243.6" y="37.1" width="2.6" height="0.9" fill="#b0a0a8" opacity="0.8"/>
<rect x="243.6" y="47.1" width="2.6" height="0.9" fill="#9aa0e0" opacity="0.8"/>
<rect x="243.6" y="57.1" width="2.6" height="0.9" fill="#b0a0a8" opacity="0.8"/>
<rect x="243.6" y="67.1" width="2.6" height="0.9" fill="#9aa0e0" opacity="0.8"/>
<rect x="243.6" y="77.39999999999999" width="2.6" height="0.9" fill="#b0a0a8" opacity="0.8"/>
<rect x="249.2" y="79.8" width="1.6" height="0.9" fill="#a09090" opacity="0.7"/>
<rect x="258.0" y="79.8" width="1.6" height="0.9" fill="#a09090" opacity="0.7"/>
<rect x="261.5" y="79.8" width="1.6" height="0.9" fill="#a09090" opacity="0.7"/>
<rect x="271.2" y="79.8" width="1.6" height="0.9" fill="#a09090" opacity="0.7"/>
<rect x="285.2" y="79.8" width="1.6" height="0.9" fill="#a09090" opacity="0.7"/>
<rect x="298.2" y="79.8" width="1.6" height="0.9" fill="#a09090" opacity="0.7"/>
<rect x="304.09999999999997" y="79.8" width="1.6" height="0.9" fill="#a09090" opacity="0.7"/>
<rect x="308.2" y="79.8" width="1.6" height="0.9" fill="#a09090" opacity="0.7"/>
<rect x="318.2" y="79.8" width="1.6" height="0.9" fill="#a09090" opacity="0.7"/>
<rect x="325.7" y="79.8" width="1.6" height="0.9" fill="#a09090" opacity="0.7"/>
<rect x="328.2" y="79.8" width="1.6" height="0.9" fill="#a09090" opacity="0.7"/>
<rect x="330.2" y="79.8" width="1.6" height="0.9" fill="#a09090" opacity="0.7"/>
<rect x="332.2" y="79.8" width="1.6" height="0.9" fill="#a09090" opacity="0.7"/>
<rect x="335.7" y="79.8" width="1.6" height="0.9" fill="#a09090" opacity="0.7"/>
<rect x="340.2" y="79.8" width="1.6" height="0.9" fill="#a09090" opacity="0.7"/>
<rect x="344.9" y="79.8" width="1.6" height="0.9" fill="#a09090" opacity="0.7"/>
<rect x="349.2" y="79.8" width="1.6" height="0.9" fill="#a09090" opacity="0.7"/>
<rect x="358.2" y="79.8" width="1.6" height="0.9" fill="#a09090" opacity="0.7"/>
<rect x="366.2" y="79.8" width="1.6" height="0.9" fill="#a09090" opacity="0.7"/>
<rect x="375.2" y="79.8" width="1.6" height="0.9" fill="#a09090" opacity="0.7"/>
<rect x="383.2" y="79.8" width="1.6" height="0.9" fill="#a09090" opacity="0.7"/>
<rect x="390.2" y="79.8" width="1.6" height="0.9" fill="#a09090" opacity="0.7"/>
<rect x="396.2" y="79.8" width="1.6" height="0.9" fill="#a09090" opacity="0.7"/>
<rect x="402.2" y="79.8" width="1.6" height="0.9" fill="#a09090" opacity="0.7"/>
<rect x="409.0" y="79.8" width="1.6" height="0.9" fill="#a09090" opacity="0.7"/>
<rect x="412.2" y="79.8" width="1.6" height="0.9" fill="#a09090" opacity="0.7"/>
<rect x="416.2" y="79.8" width="1.6" height="0.9" fill="#a09090" opacity="0.7"/>
<rect x="420.2" y="79.8" width="1.6" height="0.9" fill="#a09090" opacity="0.7"/>
<rect x="423.2" y="79.8" width="1.6" height="0.9" fill="#a09090" opacity="0.7"/>
<rect x="426.2" y="79.8" width="1.6" height="0.9" fill="#a09090" opacity="0.7"/>
<rect x="428.7" y="79.8" width="1.6" height="0.9" fill="#a09090" opacity="0.7"/>
</g>
<polyline points="335,86.8 335,140.5 322.5,156.2" fill="none" stroke="#000" stroke-width="2"/>
<polyline points="348.2,86.8 348.2,140.5 360.7,156.2" fill="none" stroke="#000" stroke-width="2"/>
<polygon points="317.3,162.4 320.4,152.7 326.0,157.2" fill="#000"/>
<polygon points="365.7,162.4 357.0,157.2 362.6,152.7" fill="#000"/>
<text x="262.5" y="173.8" font-size="14.5" text-anchor="middle" font-weight="normal" fill="#000" stroke="#000" stroke-width="0.22">7q36</text>
<text x="423.7" y="173.8" font-size="14.5" text-anchor="middle" font-weight="normal" fill="#000" stroke="#000" stroke-width="0.22">9p21</text>
<text x="224.1" y="193" font-size="7.5" text-anchor="middle" font-weight="normal" fill="#111" stroke="#111" stroke-width="0.22">No gain</text>
<text x="287.5" y="193" font-size="7.5" text-anchor="middle" font-weight="normal" fill="#111" stroke="#111" stroke-width="0.22">Gain</text>
<text x="403" y="193" font-size="7.5" text-anchor="middle" font-weight="normal" fill="#111" stroke="#111" stroke-width="0.22">No loss</text>
<text x="463.8" y="193" font-size="7.5" text-anchor="middle" font-weight="normal" fill="#111" stroke="#111" stroke-width="0.22">Loss</text>
<g id="hm7q36" filter="url(#bl)">
<rect x="200.0" y="198.5" width="49.8" height="0.6" fill="#3c3ccf"/>
<rect x="251.5" y="198.5" width="73.0" height="0.6" fill="#3c3ccf"/>
<rect x="200.00" y="199" width="49.80" height="1.02" fill="#3c3ccf"/>
<rect x="251.50" y="199" width="73.00" height="1.02" fill="#3c3ccf"/>
<rect x="200.00" y="200" width="49.80" height="1.02" fill="#7838b8"/>
<rect x="251.50" y="200" width="39.31" height="1.02" fill="#7838b8"/>
<rect x="290.81" y="200" width="33.69" height="1.02" fill="#7060d0"/>
<rect x="200.00" y="201" width="49.80" height="1.02" fill="#e81c1c"/>
<rect x="251.50" y="201" width="73.00" height="1.02" fill="#e81c1c"/>
<rect x="200.00" y="202" width="49.80" height="1.02" fill="#e81c1c"/>
<rect x="251.50" y="202" width="73.00" height="1.02" fill="#e81c1c"/>
<rect x="200.00" y="203" width="49.80" height="1.02" fill="#7060d0"/>
<rect x="251.50" y="203" width="11.23" height="1.02" fill="#7838b8"/>
<rect x="262.73" y="203" width="11.23" height="1.02" fill="#b02c80"/>
<rect x="273.96" y="203" width="5.62" height="1.02" fill="#7838b8"/>
<rect x="279.58" y="203" width="16.85" height="1.02" fill="#b02c80"/>
<rect x="296.42" y="203" width="5.62" height="1.02" fill="#7838b8"/>
<rect x="302.04" y="203" width="22.46" height="1.02" fill="#7060d0"/>
<rect x="200.00" y="204" width="49.80" height="1.02" fill="#5252dc"/>
<rect x="251.50" y="204" width="11.23" height="1.02" fill="#7060d0"/>
<rect x="262.73" y="204" width="11.23" height="1.02" fill="#b02c80"/>
<rect x="273.96" y="204" width="5.62" height="1.02" fill="#7060d0"/>
<rect x="279.58" y="204" width="5.62" height="1.02" fill="#b02c80"/>
<rect x="285.19" y="204" width="16.85" height="1.02" fill="#7060d0"/>
<rect x="302.04" y="204" width="22.46" height="1.02" fill="#5252dc"/>
<rect x="200.00" y="205" width="16.60" height="1.02" fill="#b02c80"/>
<rect x="216.60" y="205" width="22.13" height="1.02" fill="#5252dc"/>
<rect x="238.73" y="205" width="5.53" height="1.02" fill="#3c1858"/>
<rect x="244.27" y="205" width="5.53" height="1.02" fill="#5252dc"/>
<rect x="251.50" y="205" width="61.77" height="1.02" fill="#5252dc"/>
<rect x="313.27" y="205" width="5.62" height="1.02" fill="#3c1858"/>
<rect x="318.88" y="205" width="5.62" height="1.02" fill="#5252dc"/>
<rect x="200.00" y="206" width="5.53" height="1.02" fill="#ececfd"/>
<rect x="205.53" y="206" width="5.53" height="1.02" fill="#f6bcc0"/>
<rect x="211.07" y="206" width="5.53" height="1.02" fill="#ec5050"/>
<rect x="216.60" y="206" width="22.13" height="1.02" fill="#bebef5"/>
<rect x="238.73" y="206" width="11.07" height="1.02" fill="#9c9cee"/>
<rect x="251.50" y="206" width="5.62" height="1.02" fill="#ececfd"/>
<rect x="257.12" y="206" width="16.85" height="1.02" fill="#f08878"/>
<rect x="273.96" y="206" width="5.62" height="1.02" fill="#fbe6ea"/>
<rect x="279.58" y="206" width="5.62" height="1.02" fill="#f08878"/>
<rect x="285.19" y="206" width="5.62" height="1.02" fill="#f6bcc0"/>
<rect x="290.81" y="206" width="5.62" height="1.02" fill="#ececfd"/>
<rect x="296.42" y="206" width="5.62" height="1.02" fill="#bebef5"/>
<rect x="302.04" y="206" width="11.23" height="1.02" fill="#e0b8dc"/>
<rect x="313.27" y="206" width="5.62" height="1.02" fill="#f6bcc0"/>
<rect x="318.88" y="206" width="5.62" height="1.02" fill="#bebef5"/>
<rect x="200.00" y="207" width="5.53" height="1.02" fill="#ececfd"/>
<rect x="205.53" y="207" width="5.53" height="1.02" fill="#f6bcc0"/>
<rect x="211.07" y="207" width="5.53" height="1.02" fill="#f08878"/>
<rect x="216.60" y="207" width="22.13" height="1.02" fill="#bebef5"/>
<rect x="238.73" y="207" width="11.07" height="1.02" fill="#9c9cee"/>
<rect x="251.50" y="207" width="5.62" height="1.02" fill="#ececfd"/>
<rect x="257.12" y="207" width="5.62" height="1.02" fill="#f08878"/>
<rect x="262.73" y="207" width="5.62" height="1.02" fill="#f6bcc0"/>
<rect x="268.35" y="207" width="5.62" height="1.02" fill="#f08878"/>
<rect x="273.96" y="207" width="5.62" height="1.02" fill="#fbe6ea"/>
<rect x="279.58" y="207" width="11.23" height="1.02" fill="#f6bcc0"/>
<rect x="290.81" y="207" width="11.23" height="1.02" fill="#bebef5"/>
<rect x="302.04" y="207" width="11.23" height="1.02" fill="#e0b8dc"/>
<rect x="313.27" y="207" width="5.62" height="1.02" fill="#f6bcc0"/>
<rect x="318.88" y="207" width="5.62" height="1.02" fill="#bebef5"/>
<rect x="200.00" y="208" width="49.80" height="1.02" fill="#6a6ae2"/>
<rect x="251.50" y="208" width="73.00" height="1.02" fill="#6a6ae2"/>
<rect x="200.00" y="209" width="49.80" height="1.02" fill="#8282e9"/>
<rect x="251.50" y="209" width="73.00" height="1.02" fill="#8282e9"/>
<rect x="200.00" y="210" width="49.80" height="1.02" fill="#8282e9"/>
<rect x="251.50" y="210" width="73.00" height="1.02" fill="#8282e9"/>
<rect x="200.00" y="211" width="49.80" height="1.02" fill="#6a6ae2"/>
<rect x="251.50" y="211" width="73.00" height="1.02" fill="#6a6ae2"/>
<rect x="200.00" y="212" width="5.53" height="1.02" fill="#9c9cee"/>
<rect x="205.53" y="212" width="11.07" height="1.02" fill="#bebef5"/>
<rect x="216.60" y="212" width="33.20" height="1.02" fill="#9c9cee"/>
<rect x="251.50" y="212" width="22.46" height="1.02" fill="#9c9cee"/>
<rect x="273.96" y="212" width="22.46" height="1.02" fill="#bebef5"/>
<rect x="296.42" y="212" width="16.85" height="1.02" fill="#9c9cee"/>
<rect x="313.27" y="212" width="5.62" height="1.02" fill="#bebef5"/>
<rect x="318.88" y="212" width="5.62" height="1.02" fill="#9c9cee"/>
<rect x="200.00" y="213" width="49.80" height="1.02" fill="#8282e9"/>
<rect x="251.50" y="213" width="73.00" height="1.02" fill="#8282e9"/>
<rect x="200.00" y="214" width="11.07" height="1.02" fill="#8282e9"/>
<rect x="211.07" y="214" width="38.73" height="1.02" fill="#6a6ae2"/>
<rect x="251.50" y="214" width="73.00" height="1.02" fill="#6a6ae2"/>
<rect x="200.00" y="215" width="49.80" height="1.02" fill="#3c3ccf"/>
<rect x="251.50" y="215" width="73.00" height="1.02" fill="#3c3ccf"/>
<rect x="200.00" y="216" width="49.80" height="1.02" fill="#3c3ccf"/>
<rect x="251.50" y="216" width="73.00" height="1.02" fill="#3c3ccf"/>
<rect x="200.00" y="217" width="49.80" height="1.02" fill="#8282e9"/>
<rect x="251.50" y="217" width="73.00" height="1.02" fill="#9c9cee"/>
<rect x="200.00" y="218" width="49.80" height="1.02" fill="#9c9cee"/>
<rect x="251.50" y="218" width="73.00" height="1.02" fill="#9c9cee"/>
<rect x="200.00" y="219" width="49.80" height="1.02" fill="#6a6ae2"/>
<rect x="251.50" y="219" width="73.00" height="1.02" fill="#6a6ae2"/>
<rect x="200.00" y="220" width="22.13" height="1.02" fill="#bebef5"/>
<rect x="222.13" y="220" width="27.67" height="1.02" fill="#9c9cee"/>
<rect x="251.50" y="220" width="5.62" height="1.02" fill="#9c9cee"/>
<rect x="257.12" y="220" width="5.62" height="1.02" fill="#bebef5"/>
<rect x="262.73" y="220" width="11.23" height="1.02" fill="#9c9cee"/>
<rect x="273.96" y="220" width="5.62" height="1.02" fill="#bebef5"/>
<rect x="279.58" y="220" width="16.85" height="1.02" fill="#9c9cee"/>
<rect x="296.42" y="220" width="5.62" height="1.02" fill="#bebef5"/>
<rect x="302.04" y="220" width="16.85" height="1.02" fill="#9c9cee"/>
<rect x="318.88" y="220" width="5.62" height="1.02" fill="#bebef5"/>
<rect x="200.00" y="221" width="49.80" height="1.02" fill="#8282e9"/>
<rect x="251.50" y="221" width="73.00" height="1.02" fill="#9c9cee"/>
<rect x="200.00" y="222" width="49.80" height="1.02" fill="#6a6ae2"/>
<rect x="251.50" y="222" width="73.00" height="1.02" fill="#6a6ae2"/>
<rect x="200.00" y="223" width="5.53" height="1.02" fill="#e81c1c"/>
<rect x="205.53" y="223" width="11.07" height="1.02" fill="#7060d0"/>
<rect x="216.60" y="223" width="5.53" height="1.02" fill="#b02c80"/>
<rect x="222.13" y="223" width="5.53" height="1.02" fill="#bebef5"/>
<rect x="227.67" y="223" width="5.53" height="1.02" fill="#b02c80"/>
<rect x="233.20" y="223" width="5.53" height="1.02" fill="#e81c1c"/>
<rect x="238.73" y="223" width="11.07" height="1.02" fill="#5252dc"/>
<rect x="251.50" y="223" width="5.62" height="1.02" fill="#b02c80"/>
<rect x="257.12" y="223" width="5.62" height="1.02" fill="#f6bcc0"/>
<rect x="262.73" y="223" width="5.62" height="1.02" fill="#ececfd"/>
<rect x="268.35" y="223" width="5.62" height="1.02" fill="#b02c80"/>
<rect x="273.96" y="223" width="5.62" height="1.02" fill="#ececfd"/>
<rect x="279.58" y="223" width="5.62" height="1.02" fill="#b02c80"/>
<rect x="285.19" y="223" width="11.23" height="1.02" fill="#e0b8dc"/>
<rect x="296.42" y="223" width="5.62" height="1.02" fill="#f6bcc0"/>
<rect x="302.04" y="223" width="11.23" height="1.02" fill="#9c9cee"/>
<rect x="313.27" y="223" width="5.62" height="1.02" fill="#ec5050"/>
<rect x="318.88" y="223" width="5.62" height="1.02" fill="#8282e9"/>
<rect x="200.00" y="224" width="5.53" height="1.02" fill="#e81c1c"/>
<rect x="205.53" y="224" width="11.07" height="1.02" fill="#7060d0"/>
<rect x="216.60" y="224" width="5.53" height="1.02" fill="#d884b8"/>
<rect x="222.13" y="224" width="5.53" height="1.02" fill="#bebef5"/>
<rect x="227.67" y="224" width="11.07" height="1.02" fill="#b02c80"/>
<rect x="238.73" y="224" width="11.07" height="1.02" fill="#5252dc"/>
<rect x="251.50" y="224" width="5.62" height="1.02" fill="#b02c80"/>
<rect x="257.12" y="224" width="5.62" height="1.02" fill="#f6bcc0"/>
<rect x="262.73" y="224" width="5.62" height="1.02" fill="#ececfd"/>
<rect x="268.35" y="224" width="5.62" height="1.02" fill="#b02c80"/>
<rect x="273.96" y="224" width="5.62" height="1.02" fill="#ececfd"/>
<rect x="279.58" y="224" width="5.62" height="1.02" fill="#d884b8"/>
<rect x="285.19" y="224" width="11.23" height="1.02" fill="#e0b8dc"/>
<rect x="296.42" y="224" width="5.62" height="1.02" fill="#f6bcc0"/>
<rect x="302.04" y="224" width="11.23" height="1.02" fill="#9c9cee"/>
<rect x="313.27" y="224" width="5.62" height="1.02" fill="#ec5050"/>
<rect x="318.88" y="224" width="5.62" height="1.02" fill="#8282e9"/>
<rect x="200.00" y="225" width="5.53" height="1.02" fill="#bebef5"/>
<rect x="205.53" y="225" width="5.53" height="1.02" fill="#ec5050"/>
<rect x="211.07" y="225" width="11.07" height="1.02" fill="#9c9cee"/>
<rect x="222.13" y="225" width="5.53" height="1.02" fill="#ececfd"/>
<rect x="227.67" y="225" width="11.07" height="1.02" fill="#bebef5"/>
<rect x="238.73" y="225" width="11.07" height="1.02" fill="#8282e9"/>
<rect x="251.50" y="225" width="5.62" height="1.02" fill="#9c9cee"/>
<rect x="257.12" y="225" width="5.62" height="1.02" fill="#ececfd"/>
<rect x="262.73" y="225" width="5.62" height="1.02" fill="#bebef5"/>
<rect x="268.35" y="225" width="5.62" height="1.02" fill="#9c9cee"/>
<rect x="273.96" y="225" width="5.62" height="1.02" fill="#ececfd"/>
<rect x="279.58" y="225" width="16.85" height="1.02" fill="#8282e9"/>
<rect x="296.42" y="225" width="5.62" height="1.02" fill="#9c9cee"/>
<rect x="302.04" y="225" width="5.62" height="1.02" fill="#bebef5"/>
<rect x="307.65" y="225" width="5.62" height="1.02" fill="#8282e9"/>
<rect x="313.27" y="225" width="5.62" height="1.02" fill="#9c9cee"/>
<rect x="318.88" y="225" width="5.62" height="1.02" fill="#8282e9"/>
<rect x="200.00" y="226" width="5.53" height="1.02" fill="#bebef5"/>
<rect x="205.53" y="226" width="5.53" height="1.02" fill="#b02c80"/>
<rect x="211.07" y="226" width="11.07" height="1.02" fill="#9c9cee"/>
<rect x="222.13" y="226" width="5.53" height="1.02" fill="#ececfd"/>
<rect x="227.67" y="226" width="11.07" height="1.02" fill="#bebef5"/>
<rect x="238.73" y="226" width="11.07" height="1.02" fill="#8282e9"/>
<rect x="251.50" y="226" width="5.62" height="1.02" fill="#9c9cee"/>
<rect x="257.12" y="226" width="5.62" height="1.02" fill="#ececfd"/>
<rect x="262.73" y="226" width="5.62" height="1.02" fill="#bebef5"/>
<rect x="268.35" y="226" width="5.62" height="1.02" fill="#9c9cee"/>
<rect x="273.96" y="226" width="5.62" height="1.02" fill="#b02c80"/>
<rect x="279.58" y="226" width="16.85" height="1.02" fill="#8282e9"/>
<rect x="296.42" y="226" width="5.62" height="1.02" fill="#9c9cee"/>
<rect x="302.04" y="226" width="5.62" height="1.02" fill="#bebef5"/>
<rect x="307.65" y="226" width="5.62" height="1.02" fill="#8282e9"/>
<rect x="313.27" y="226" width="5.62" height="1.02" fill="#9c9cee"/>
<rect x="318.88" y="226" width="5.62" height="1.02" fill="#8282e9"/>
<rect x="200.00" y="227" width="5.53" height="1.02" fill="#6a6ae2"/>
<rect x="205.53" y="227" width="5.53" height="1.02" fill="#7838b8"/>
<rect x="211.07" y="227" width="38.73" height="1.02" fill="#6a6ae2"/>
<rect x="251.50" y="227" width="22.46" height="1.02" fill="#6a6ae2"/>
<rect x="273.96" y="227" width="11.23" height="1.02" fill="#d884b8"/>
<rect x="285.19" y="227" width="11.23" height="1.02" fill="#6a6ae2"/>
<rect x="296.42" y="227" width="11.23" height="1.02" fill="#d884b8"/>
<rect x="307.65" y="227" width="16.85" height="1.02" fill="#6a6ae2"/>
<rect x="200.00" y="228" width="49.80" height="1.02" fill="#6a6ae2"/>
<rect x="251.50" y="228" width="73.00" height="1.02" fill="#6a6ae2"/>
<rect x="200.00" y="229" width="11.07" height="1.02" fill="#f6bcc0"/>
<rect x="211.07" y="229" width="5.53" height="1.02" fill="#bebef5"/>
<rect x="216.60" y="229" width="22.13" height="1.02" fill="#e0b8dc"/>
<rect x="238.73" y="229" width="11.07" height="1.02" fill="#9c9cee"/>
<rect x="251.50" y="229" width="5.62" height="1.02" fill="#f08878"/>
<rect x="257.12" y="229" width="33.69" height="1.02" fill="#f6bcc0"/>
<rect x="290.81" y="229" width="11.23" height="1.02" fill="#fbe6ea"/>
<rect x="302.04" y="229" width="5.62" height="1.02" fill="#ececfd"/>
<rect x="307.65" y="229" width="16.85" height="1.02" fill="#f6bcc0"/>
<rect x="200.00" y="230" width="11.07" height="1.02" fill="#f6bcc0"/>
<rect x="211.07" y="230" width="5.53" height="1.02" fill="#bebef5"/>
<rect x="216.60" y="230" width="22.13" height="1.02" fill="#f6bcc0"/>
<rect x="238.73" y="230" width="5.53" height="1.02" fill="#e0b8dc"/>
<rect x="244.27" y="230" width="5.53" height="1.02" fill="#c6b6e4"/>
<rect x="251.50" y="230" width="11.23" height="1.02" fill="#f6bcc0"/>
<rect x="262.73" y="230" width="5.62" height="1.02" fill="#fbe6ea"/>
<rect x="268.35" y="230" width="11.23" height="1.02" fill="#f6bcc0"/>
<rect x="279.58" y="230" width="5.62" height="1.02" fill="#fbe6ea"/>
<rect x="285.19" y="230" width="16.85" height="1.02" fill="#f6bcc0"/>
<rect x="302.04" y="230" width="5.62" height="1.02" fill="#fbe6ea"/>
<rect x="307.65" y="230" width="16.85" height="1.02" fill="#f6bcc0"/>
<rect x="200.00" y="231" width="5.53" height="1.02" fill="#e81c1c"/>
<rect x="205.53" y="231" width="5.53" height="1.02" fill="#ec5050"/>
<rect x="211.07" y="231" width="5.53" height="1.02" fill="#bebef5"/>
<rect x="216.60" y="231" width="16.60" height="1.02" fill="#f40c0c"/>
<rect x="233.20" y="231" width="5.53" height="1.02" fill="#e81c1c"/>
<rect x="238.73" y="231" width="11.07" height="1.02" fill="#c6b6e4"/>
<rect x="251.50" y="231" width="5.62" height="1.02" fill="#e81c1c"/>
<rect x="257.12" y="231" width="5.62" height="1.02" fill="#f08878"/>
<rect x="262.73" y="231" width="5.62" height="1.02" fill="#fbe6ea"/>
<rect x="268.35" y="231" width="11.23" height="1.02" fill="#f40c0c"/>
<rect x="279.58" y="231" width="5.62" height="1.02" fill="#bebef5"/>
<rect x="285.19" y="231" width="16.85" height="1.02" fill="#f40c0c"/>
<rect x="302.04" y="231" width="5.62" height="1.02" fill="#fbe6ea"/>
<rect x="307.65" y="231" width="16.85" height="1.02" fill="#f40c0c"/>
<rect x="200.00" y="232" width="5.53" height="1.02" fill="#e81c1c"/>
<rect x="205.53" y="232" width="5.53" height="1.02" fill="#ec5050"/>
<rect x="211.07" y="232" width="5.53" height="1.02" fill="#bebef5"/>
<rect x="216.60" y="232" width="16.60" height="1.02" fill="#f40c0c"/>
<rect x="233.20" y="232" width="5.53" height="1.02" fill="#e81c1c"/>
<rect x="238.73" y="232" width="11.07" height="1.02" fill="#c6b6e4"/>
<rect x="251.50" y="232" width="5.62" height="1.02" fill="#e81c1c"/>
<rect x="257.12" y="232" width="5.62" height="1.02" fill="#f08878"/>
<rect x="262.73" y="232" width="5.62" height="1.02" fill="#fbe6ea"/>
<rect x="268.35" y="232" width="11.23" height="1.02" fill="#f40c0c"/>
<rect x="279.58" y="232" width="5.62" height="1.02" fill="#bebef5"/>
<rect x="285.19" y="232" width="16.85" height="1.02" fill="#f40c0c"/>
<rect x="302.04" y="232" width="5.62" height="1.02" fill="#fbe6ea"/>
<rect x="307.65" y="232" width="16.85" height="1.02" fill="#f40c0c"/>
<rect x="200.00" y="233" width="5.53" height="1.02" fill="#ec5050"/>
<rect x="205.53" y="233" width="5.53" height="1.02" fill="#f6bcc0"/>
<rect x="211.07" y="233" width="5.53" height="1.02" fill="#bebef5"/>
<rect x="216.60" y="233" width="16.60" height="1.02" fill="#f40c0c"/>
<rect x="233.20" y="233" width="5.53" height="1.02" fill="#e81c1c"/>
<rect x="238.73" y="233" width="11.07" height="1.02" fill="#c6b6e4"/>
<rect x="251.50" y="233" width="5.62" height="1.02" fill="#e81c1c"/>
<rect x="257.12" y="233" width="5.62" height="1.02" fill="#f6bcc0"/>
<rect x="262.73" y="233" width="5.62" height="1.02" fill="#fbe6ea"/>
<rect x="268.35" y="233" width="11.23" height="1.02" fill="#f40c0c"/>
<rect x="279.58" y="233" width="5.62" height="1.02" fill="#bebef5"/>
<rect x="285.19" y="233" width="16.85" height="1.02" fill="#f40c0c"/>
<rect x="302.04" y="233" width="5.62" height="1.02" fill="#fbe6ea"/>
<rect x="307.65" y="233" width="16.85" height="1.02" fill="#f40c0c"/>
<rect x="200.00" y="234" width="5.53" height="1.02" fill="#e81c1c"/>
<rect x="205.53" y="234" width="5.53" height="1.02" fill="#f08878"/>
<rect x="211.07" y="234" width="5.53" height="1.02" fill="#bebef5"/>
<rect x="216.60" y="234" width="16.60" height="1.02" fill="#f40c0c"/>
<rect x="233.20" y="234" width="5.53" height="1.02" fill="#e81c1c"/>
<rect x="238.73" y="234" width="5.53" height="1.02" fill="#c6b6e4"/>
<rect x="244.27" y="234" width="5.53" height="1.02" fill="#bebef5"/>
<rect x="251.50" y="234" width="5.62" height="1.02" fill="#e81c1c"/>
<rect x="257.12" y="234" width="5.62" height="1.02" fill="#f08878"/>
<rect x="262.73" y="234" width="5.62" height="1.02" fill="#fbe6ea"/>
<rect x="268.35" y="234" width="11.23" height="1.02" fill="#f40c0c"/>
<rect x="279.58" y="234" width="5.62" height="1.02" fill="#bebef5"/>
<rect x="285.19" y="234" width="5.62" height="1.02" fill="#e81c1c"/>
<rect x="290.81" y="234" width="11.23" height="1.02" fill="#f40c0c"/>
<rect x="302.04" y="234" width="5.62" height="1.02" fill="#fbe6ea"/>
<rect x="307.65" y="234" width="16.85" height="1.02" fill="#f40c0c"/>
<rect x="200.00" y="235" width="5.53" height="1.02" fill="#e81c1c"/>
<rect x="205.53" y="235" width="5.53" height="1.02" fill="#f6bcc0"/>
<rect x="211.07" y="235" width="5.53" height="1.02" fill="#bebef5"/>
<rect x="216.60" y="235" width="16.60" height="1.02" fill="#f40c0c"/>
<rect x="233.20" y="235" width="5.53" height="1.02" fill="#e81c1c"/>
<rect x="238.73" y="235" width="5.53" height="1.02" fill="#c6b6e4"/>
<rect x="244.27" y="235" width="5.53" height="1.02" fill="#bebef5"/>
<rect x="251.50" y="235" width="5.62" height="1.02" fill="#ec5050"/>
<rect x="257.12" y="235" width="5.62" height="1.02" fill="#f6bcc0"/>
<rect x="262.73" y="235" width="5.62" height="1.02" fill="#fbe6ea"/>
<rect x="268.35" y="235" width="11.23" height="1.02" fill="#f40c0c"/>
<rect x="279.58" y="235" width="5.62" height="1.02" fill="#bebef5"/>
<rect x="285.19" y="235" width="5.62" height="1.02" fill="#e81c1c"/>
<rect x="290.81" y="235" width="11.23" height="1.02" fill="#f40c0c"/>
<rect x="302.04" y="235" width="5.62" height="1.02" fill="#fbe6ea"/>
<rect x="307.65" y="235" width="16.85" height="1.02" fill="#f40c0c"/>
<rect x="200.00" y="236" width="5.53" height="1.02" fill="#f6bcc0"/>
<rect x="205.53" y="236" width="5.53" height="1.02" fill="#ececfd"/>
<rect x="211.07" y="236" width="5.53" height="1.02" fill="#6a6ae2"/>
<rect x="216.60" y="236" width="5.53" height="1.02" fill="#b02c80"/>
<rect x="222.13" y="236" width="11.07" height="1.02" fill="#f08878"/>
<rect x="233.20" y="236" width="5.53" height="1.02" fill="#f6bcc0"/>
<rect x="238.73" y="236" width="11.07" height="1.02" fill="#9c9cee"/>
<rect x="251.50" y="236" width="5.62" height="1.02" fill="#fbe6ea"/>
<rect x="257.12" y="236" width="5.62" height="1.02" fill="#9c9cee"/>
<rect x="262.73" y="236" width="5.62" height="1.02" fill="#6a6ae2"/>
<rect x="268.35" y="236" width="11.23" height="1.02" fill="#f6bcc0"/>
<rect x="279.58" y="236" width="5.62" height="1.02" fill="#6a6ae2"/>
<rect x="285.19" y="236" width="5.62" height="1.02" fill="#e0b8dc"/>
<rect x="290.81" y="236" width="5.62" height="1.02" fill="#f6bcc0"/>
<rect x="296.42" y="236" width="5.62" height="1.02" fill="#fbe6ea"/>
<rect x="302.04" y="236" width="5.62" height="1.02" fill="#6a6ae2"/>
<rect x="307.65" y="236" width="5.62" height="1.02" fill="#fbe6ea"/>
<rect x="313.27" y="236" width="11.23" height="1.02" fill="#f6bcc0"/>
<rect x="200.00" y="237" width="5.53" height="1.02" fill="#fbe6ea"/>
<rect x="205.53" y="237" width="5.53" height="1.02" fill="#ececfd"/>
<rect x="211.07" y="237" width="5.53" height="1.02" fill="#6a6ae2"/>
<rect x="216.60" y="237" width="5.53" height="1.02" fill="#7060d0"/>
<rect x="222.13" y="237" width="11.07" height="1.02" fill="#ececfd"/>
<rect x="233.20" y="237" width="5.53" height="1.02" fill="#bebef5"/>
<rect x="238.73" y="237" width="11.07" height="1.02" fill="#9c9cee"/>
<rect x="251.50" y="237" width="5.62" height="1.02" fill="#fbe6ea"/>
<rect x="257.12" y="237" width="5.62" height="1.02" fill="#9c9cee"/>
<rect x="262.73" y="237" width="5.62" height="1.02" fill="#6a6ae2"/>
<rect x="268.35" y="237" width="11.23" height="1.02" fill="#fbe6ea"/>
<rect x="279.58" y="237" width="5.62" height="1.02" fill="#6a6ae2"/>
<rect x="285.19" y="237" width="5.62" height="1.02" fill="#e0b8dc"/>
<rect x="290.81" y="237" width="5.62" height="1.02" fill="#fbe6ea"/>
<rect x="296.42" y="237" width="5.62" height="1.02" fill="#ececfd"/>
<rect x="302.04" y="237" width="5.62" height="1.02" fill="#6a6ae2"/>
<rect x="307.65" y="237" width="16.85" height="1.02" fill="#fbe6ea"/>
<rect x="200.00" y="238" width="5.53" height="1.02" fill="#f6bcc0"/>
<rect x="205.53" y="238" width="5.53" height="1.02" fill="#fbe6ea"/>
<rect x="211.07" y="238" width="5.53" height="1.02" fill="#6a6ae2"/>
<rect x="216.60" y="238" width="5.53" height="1.02" fill="#7838b8"/>
<rect x="222.13" y="238" width="11.07" height="1.02" fill="#fbe6ea"/>
<rect x="233.20" y="238" width="5.53" height="1.02" fill="#bebef5"/>
<rect x="238.73" y="238" width="11.07" height="1.02" fill="#9c9cee"/>
<rect x="251.50" y="238" width="5.62" height="1.02" fill="#fbe6ea"/>
<rect x="257.12" y="238" width="5.62" height="1.02" fill="#9c9cee"/>
<rect x="262.73" y="238" width="5.62" height="1.02" fill="#6a6ae2"/>
<rect x="268.35" y="238" width="11.23" height="1.02" fill="#f6bcc0"/>
<rect x="279.58" y="238" width="5.62" height="1.02" fill="#6a6ae2"/>
<rect x="285.19" y="238" width="5.62" height="1.02" fill="#e0b8dc"/>
<rect x="290.81" y="238" width="5.62" height="1.02" fill="#f6bcc0"/>
<rect x="296.42" y="238" width="5.62" height="1.02" fill="#fbe6ea"/>
<rect x="302.04" y="238" width="5.62" height="1.02" fill="#6a6ae2"/>
<rect x="307.65" y="238" width="5.62" height="1.02" fill="#fbe6ea"/>
<rect x="313.27" y="238" width="5.62" height="1.02" fill="#f6bcc0"/>
<rect x="318.88" y="238" width="5.62" height="1.02" fill="#fbe6ea"/>
<rect x="200.00" y="239" width="11.07" height="1.02" fill="#e81c1c"/>
<rect x="211.07" y="239" width="5.53" height="1.02" fill="#fbe6ea"/>
<rect x="216.60" y="239" width="16.60" height="1.02" fill="#e81c1c"/>
<rect x="233.20" y="239" width="5.53" height="1.02" fill="#ec5050"/>
<rect x="238.73" y="239" width="11.07" height="1.02" fill="#fbe6ea"/>
<rect x="251.50" y="239" width="5.62" height="1.02" fill="#f08878"/>
<rect x="257.12" y="239" width="5.62" height="1.02" fill="#f6bcc0"/>
<rect x="262.73" y="239" width="5.62" height="1.02" fill="#fbe6ea"/>
<rect x="268.35" y="239" width="11.23" height="1.02" fill="#e81c1c"/>
<rect x="279.58" y="239" width="5.62" height="1.02" fill="#fbe6ea"/>
<rect x="285.19" y="239" width="5.62" height="1.02" fill="#f08878"/>
<rect x="290.81" y="239" width="5.62" height="1.02" fill="#f6bcc0"/>
<rect x="296.42" y="239" width="5.62" height="1.02" fill="#e81c1c"/>
<rect x="302.04" y="239" width="5.62" height="1.02" fill="#fbe6ea"/>
<rect x="307.65" y="239" width="5.62" height="1.02" fill="#e81c1c"/>
<rect x="313.27" y="239" width="5.62" height="1.02" fill="#ec5050"/>
<rect x="318.88" y="239" width="5.62" height="1.02" fill="#e81c1c"/>
<rect x="200.00" y="240" width="11.07" height="1.02" fill="#e81c1c"/>
<rect x="211.07" y="240" width="5.53" height="1.02" fill="#fbe6ea"/>
<rect x="216.60" y="240" width="22.13" height="1.02" fill="#e81c1c"/>
<rect x="238.73" y="240" width="11.07" height="1.02" fill="#fbe6ea"/>
<rect x="251.50" y="240" width="5.62" height="1.02" fill="#f08878"/>
<rect x="257.12" y="240" width="5.62" height="1.02" fill="#f6bcc0"/>
<rect x="262.73" y="240" width="5.62" height="1.02" fill="#fbe6ea"/>
<rect x="268.35" y="240" width="11.23" height="1.02" fill="#e81c1c"/>
<rect x="279.58" y="240" width="5.62" height="1.02" fill="#fbe6ea"/>
<rect x="285.19" y="240" width="5.62" height="1.02" fill="#f08878"/>
<rect x="290.81" y="240" width="11.23" height="1.02" fill="#e81c1c"/>
<rect x="302.04" y="240" width="5.62" height="1.02" fill="#fbe6ea"/>
<rect x="307.65" y="240" width="16.85" height="1.02" fill="#e81c1c"/>
<rect x="200.00" y="241" width="11.07" height="1.02" fill="#e81c1c"/>
<rect x="211.07" y="241" width="5.53" height="1.02" fill="#fbe6ea"/>
<rect x="216.60" y="241" width="22.13" height="1.02" fill="#e81c1c"/>
<rect x="238.73" y="241" width="11.07" height="1.02" fill="#fbe6ea"/>
<rect x="251.50" y="241" width="5.62" height="1.02" fill="#f08878"/>
<rect x="257.12" y="241" width="5.62" height="1.02" fill="#f6bcc0"/>
<rect x="262.73" y="241" width="5.62" height="1.02" fill="#fbe6ea"/>
<rect x="268.35" y="241" width="11.23" height="1.02" fill="#e81c1c"/>
<rect x="279.58" y="241" width="5.62" height="1.02" fill="#fbe6ea"/>
<rect x="285.19" y="241" width="5.62" height="1.02" fill="#f08878"/>
<rect x="290.81" y="241" width="11.23" height="1.02" fill="#e81c1c"/>
<rect x="302.04" y="241" width="5.62" height="1.02" fill="#fbe6ea"/>
<rect x="307.65" y="241" width="11.23" height="1.02" fill="#e81c1c"/>
<rect x="318.88" y="241" width="5.62" height="1.02" fill="#ec5050"/>
<rect x="200.00" y="242" width="11.07" height="1.02" fill="#ec5050"/>
<rect x="211.07" y="242" width="5.53" height="1.02" fill="#b02c80"/>
<rect x="216.60" y="242" width="5.53" height="1.02" fill="#ec5050"/>
<rect x="222.13" y="242" width="16.60" height="1.02" fill="#b02c80"/>
<rect x="238.73" y="242" width="5.53" height="1.02" fill="#e0b8dc"/>
<rect x="244.27" y="242" width="5.53" height="1.02" fill="#b02c80"/>
<rect x="251.50" y="242" width="5.62" height="1.02" fill="#bebef5"/>
<rect x="257.12" y="242" width="11.23" height="1.02" fill="#b02c80"/>
<rect x="268.35" y="242" width="5.62" height="1.02" fill="#bebef5"/>
<rect x="273.96" y="242" width="5.62" height="1.02" fill="#cc0000"/>
<rect x="279.58" y="242" width="5.62" height="1.02" fill="#d884b8"/>
<rect x="285.19" y="242" width="22.46" height="1.02" fill="#b02c80"/>
<rect x="307.65" y="242" width="11.23" height="1.02" fill="#d884b8"/>
<rect x="318.88" y="242" width="5.62" height="1.02" fill="#e0b8dc"/>
<rect x="200.00" y="243" width="16.60" height="1.02" fill="#b02c80"/>
<rect x="216.60" y="243" width="5.53" height="1.02" fill="#bebef5"/>
<rect x="222.13" y="243" width="16.60" height="1.02" fill="#7838b8"/>
<rect x="238.73" y="243" width="5.53" height="1.02" fill="#8282e9"/>
<rect x="244.27" y="243" width="5.53" height="1.02" fill="#7838b8"/>
<rect x="251.50" y="243" width="5.62" height="1.02" fill="#bebef5"/>
<rect x="257.12" y="243" width="11.23" height="1.02" fill="#b02c80"/>
<rect x="268.35" y="243" width="5.62" height="1.02" fill="#bebef5"/>
<rect x="273.96" y="243" width="5.62" height="1.02" fill="#b02c80"/>
<rect x="279.58" y="243" width="5.62" height="1.02" fill="#d884b8"/>
<rect x="285.19" y="243" width="28.08" height="1.02" fill="#b02c80"/>
<rect x="313.27" y="243" width="5.62" height="1.02" fill="#d884b8"/>
<rect x="318.88" y="243" width="5.62" height="1.02" fill="#e0b8dc"/>
<rect x="200.00" y="244" width="16.60" height="1.02" fill="#7838b8"/>
<rect x="216.60" y="244" width="5.53" height="1.02" fill="#9c9cee"/>
<rect x="222.13" y="244" width="16.60" height="1.02" fill="#7838b8"/>
<rect x="238.73" y="244" width="5.53" height="1.02" fill="#8282e9"/>
<rect x="244.27" y="244" width="5.53" height="1.02" fill="#7838b8"/>
<rect x="251.50" y="244" width="5.62" height="1.02" fill="#9c9cee"/>
<rect x="257.12" y="244" width="11.23" height="1.02" fill="#7838b8"/>
<rect x="268.35" y="244" width="5.62" height="1.02" fill="#9c9cee"/>
<rect x="273.96" y="244" width="39.31" height="1.02" fill="#7838b8"/>
<rect x="313.27" y="244" width="5.62" height="1.02" fill="#7060d0"/>
<rect x="318.88" y="244" width="5.62" height="1.02" fill="#9c9cee"/>
<rect x="200.00" y="245" width="16.60" height="1.02" fill="#8282e9"/>
<rect x="216.60" y="245" width="5.53" height="1.02" fill="#9c9cee"/>
<rect x="222.13" y="245" width="16.60" height="1.02" fill="#e0b8dc"/>
<rect x="238.73" y="245" width="11.07" height="1.02" fill="#8282e9"/>
<rect x="251.50" y="245" width="22.46" height="1.02" fill="#9c9cee"/>
<rect x="273.96" y="245" width="11.23" height="1.02" fill="#e0b8dc"/>
<rect x="285.19" y="245" width="11.23" height="1.02" fill="#9c9cee"/>
<rect x="296.42" y="245" width="16.85" height="1.02" fill="#e0b8dc"/>
<rect x="313.27" y="245" width="5.62" height="1.02" fill="#9c9cee"/>
<rect x="318.88" y="245" width="5.62" height="1.02" fill="#8282e9"/>
<rect x="200.00" y="246" width="27.67" height="1.02" fill="#8282e9"/>
<rect x="227.67" y="246" width="5.53" height="1.02" fill="#9c9cee"/>
<rect x="233.20" y="246" width="5.53" height="1.02" fill="#e0b8dc"/>
<rect x="238.73" y="246" width="11.07" height="1.02" fill="#8282e9"/>
<rect x="251.50" y="246" width="73.00" height="1.02" fill="#8282e9"/>
<rect x="200.00" y="247" width="49.80" height="1.02" fill="#6a6ae2"/>
<rect x="251.50" y="247" width="73.00" height="1.02" fill="#6a6ae2"/>
<rect x="200.00" y="248" width="5.53" height="1.02" fill="#ececfd"/>
<rect x="205.53" y="248" width="11.07" height="1.02" fill="#5252dc"/>
<rect x="216.60" y="248" width="5.53" height="1.02" fill="#8282e9"/>
<rect x="222.13" y="248" width="27.67" height="1.02" fill="#5252dc"/>
<rect x="251.50" y="248" width="5.62" height="1.02" fill="#5252dc"/>
<rect x="257.12" y="248" width="5.62" height="1.02" fill="#bebef5"/>
<rect x="262.73" y="248" width="50.54" height="1.02" fill="#5252dc"/>
<rect x="313.27" y="248" width="5.62" height="1.02" fill="#bebef5"/>
<rect x="318.88" y="248" width="5.62" height="1.02" fill="#5252dc"/>
<rect x="200.00" y="249" width="49.80" height="1.02" fill="#5252dc"/>
<rect x="251.50" y="249" width="73.00" height="1.02" fill="#5252dc"/>
<rect x="200.00" y="250" width="49.80" height="1.02" fill="#5252dc"/>
<rect x="251.50" y="250" width="73.00" height="1.02" fill="#5252dc"/>
<rect x="200.00" y="251" width="49.80" height="1.02" fill="#8282e9"/>
<rect x="251.50" y="251" width="73.00" height="1.02" fill="#8282e9"/>
<rect x="200.00" y="252" width="49.80" height="1.02" fill="#6a6ae2"/>
<rect x="251.50" y="252" width="73.00" height="1.02" fill="#6a6ae2"/>
<rect x="200.00" y="253" width="49.80" height="1.02" fill="#5252dc"/>
<rect x="251.50" y="253" width="73.00" height="1.02" fill="#5252dc"/>
<rect x="200.00" y="254" width="5.53" height="1.02" fill="#bebef5"/>
<rect x="205.53" y="254" width="5.53" height="1.02" fill="#e0b8dc"/>
<rect x="211.07" y="254" width="11.07" height="1.02" fill="#bebef5"/>
<rect x="222.13" y="254" width="5.53" height="1.02" fill="#e0b8dc"/>
<rect x="227.67" y="254" width="22.13" height="1.02" fill="#bebef5"/>
<rect x="251.50" y="254" width="73.00" height="1.02" fill="#fbe6ea"/>
<rect x="200.00" y="255" width="5.53" height="1.02" fill="#f2d4e8"/>
<rect x="205.53" y="255" width="11.07" height="1.02" fill="#e0b8dc"/>
<rect x="216.60" y="255" width="22.13" height="1.02" fill="#f2d4e8"/>
<rect x="238.73" y="255" width="5.53" height="1.02" fill="#bebef5"/>
<rect x="244.27" y="255" width="5.53" height="1.02" fill="#e0b8dc"/>
<rect x="251.50" y="255" width="73.00" height="1.02" fill="#fbe6ea"/>
<rect x="200.00" y="256" width="5.53" height="1.02" fill="#eca4a8"/>
<rect x="205.53" y="256" width="16.60" height="1.02" fill="#f6bcc0"/>
<rect x="222.13" y="256" width="16.60" height="1.02" fill="#eca4a8"/>
<rect x="238.73" y="256" width="5.53" height="1.02" fill="#f6bcc0"/>
<rect x="244.27" y="256" width="5.53" height="1.02" fill="#eca4a8"/>
<rect x="251.50" y="256" width="56.15" height="1.02" fill="#e81c1c"/>
<rect x="307.65" y="256" width="5.62" height="1.02" fill="#f6bcc0"/>
<rect x="313.27" y="256" width="5.62" height="1.02" fill="#e81c1c"/>
<rect x="318.88" y="256" width="5.62" height="1.02" fill="#ececfd"/>
<rect x="200.00" y="257" width="16.60" height="1.02" fill="#ececfd"/>
<rect x="216.60" y="257" width="22.13" height="1.02" fill="#9c9cee"/>
<rect x="238.73" y="257" width="5.53" height="1.02" fill="#ececfd"/>
<rect x="244.27" y="257" width="5.53" height="1.02" fill="#9c9cee"/>
<rect x="251.50" y="257" width="56.15" height="1.02" fill="#ec5050"/>
<rect x="307.65" y="257" width="5.62" height="1.02" fill="#fbe6ea"/>
<rect x="313.27" y="257" width="5.62" height="1.02" fill="#ec5050"/>
<rect x="318.88" y="257" width="5.62" height="1.02" fill="#ececfd"/>
<rect x="200.00" y="258" width="49.80" height="1.02" fill="#5252dc"/>
<rect x="251.50" y="258" width="28.08" height="1.02" fill="#f6bcc0"/>
<rect x="279.58" y="258" width="22.46" height="1.02" fill="#ececfd"/>
<rect x="302.04" y="258" width="5.62" height="1.02" fill="#f6bcc0"/>
<rect x="307.65" y="258" width="5.62" height="1.02" fill="#ececfd"/>
<rect x="313.27" y="258" width="5.62" height="1.02" fill="#f6bcc0"/>
<rect x="318.88" y="258" width="5.62" height="1.02" fill="#ececfd"/>
<rect x="200.00" y="259" width="49.80" height="1.02" fill="#5252dc"/>
<rect x="251.50" y="259" width="73.00" height="1.02" fill="#8282e9"/>
<rect x="200.00" y="260" width="49.80" height="1.02" fill="#8282e9"/>
<rect x="251.50" y="260" width="73.00" height="1.02" fill="#8282e9"/>
<rect x="200.00" y="261" width="38.73" height="1.02" fill="#8282e9"/>
<rect x="238.73" y="261" width="5.53" height="1.02" fill="#e0b8dc"/>
<rect x="244.27" y="261" width="5.53" height="1.02" fill="#8282e9"/>
<rect x="251.50" y="261" width="44.92" height="1.02" fill="#9c9cee"/>
<rect x="296.42" y="261" width="22.46" height="1.02" fill="#bebef5"/>
<rect x="318.88" y="261" width="5.62" height="1.02" fill="#9c9cee"/>
<rect x="200.00" y="262" width="49.80" height="1.02" fill="#6a6ae2"/>
<rect x="251.50" y="262" width="73.00" height="1.02" fill="#5252dc"/>
<rect x="200.00" y="263" width="49.80" height="1.02" fill="#3c3ccf"/>
<rect x="251.50" y="263" width="73.00" height="1.02" fill="#3c3ccf"/>
<rect x="200.00" y="264" width="49.80" height="1.02" fill="#2a2ac6"/>
<rect x="251.50" y="264" width="73.00" height="1.02" fill="#2a2ac6"/>
<rect x="200.00" y="265" width="49.80" height="1.02" fill="#8282e9"/>
<rect x="251.50" y="265" width="73.00" height="1.02" fill="#9c9cee"/>
<rect x="200.00" y="266" width="49.80" height="1.02" fill="#8282e9"/>
<rect x="251.50" y="266" width="73.00" height="1.02" fill="#9c9cee"/>
<rect x="200.00" y="267" width="49.80" height="1.02" fill="#6a6ae2"/>
<rect x="251.50" y="267" width="73.00" height="1.02" fill="#6a6ae2"/>
<rect x="200.00" y="268" width="49.80" height="1.02" fill="#9c9cee"/>
<rect x="251.50" y="268" width="73.00" height="1.02" fill="#bebef5"/>
<rect x="200.00" y="269" width="38.73" height="1.02" fill="#9c9cee"/>
<rect x="238.73" y="269" width="11.07" height="1.02" fill="#bebef5"/>
<rect x="251.50" y="269" width="73.00" height="1.02" fill="#bebef5"/>
<rect x="200.00" y="270" width="5.53" height="1.02" fill="#ececfd"/>
<rect x="205.53" y="270" width="11.07" height="1.02" fill="#9c9cee"/>
<rect x="216.60" y="270" width="11.07" height="1.02" fill="#ececfd"/>
<rect x="227.67" y="270" width="5.53" height="1.02" fill="#bebef5"/>
<rect x="233.20" y="270" width="5.53" height="1.02" fill="#ececfd"/>
<rect x="238.73" y="270" width="11.07" height="1.02" fill="#9c9cee"/>
<rect x="251.50" y="270" width="11.23" height="1.02" fill="#fbe6ea"/>
<rect x="262.73" y="270" width="5.62" height="1.02" fill="#f08878"/>
<rect x="268.35" y="270" width="5.62" height="1.02" fill="#f6bcc0"/>
<rect x="273.96" y="270" width="22.46" height="1.02" fill="#ececfd"/>
<rect x="296.42" y="270" width="5.62" height="1.02" fill="#f6bcc0"/>
<rect x="302.04" y="270" width="11.23" height="1.02" fill="#ececfd"/>
<rect x="313.27" y="270" width="5.62" height="1.02" fill="#bebef5"/>
<rect x="318.88" y="270" width="5.62" height="1.02" fill="#ececfd"/>
<rect x="200.00" y="271" width="5.53" height="1.02" fill="#ececfd"/>
<rect x="205.53" y="271" width="11.07" height="1.02" fill="#9c9cee"/>
<rect x="216.60" y="271" width="11.07" height="1.02" fill="#ececfd"/>
<rect x="227.67" y="271" width="5.53" height="1.02" fill="#bebef5"/>
<rect x="233.20" y="271" width="5.53" height="1.02" fill="#ececfd"/>
<rect x="238.73" y="271" width="11.07" height="1.02" fill="#9c9cee"/>
<rect x="251.50" y="271" width="11.23" height="1.02" fill="#fbe6ea"/>
<rect x="262.73" y="271" width="11.23" height="1.02" fill="#f6bcc0"/>
<rect x="273.96" y="271" width="22.46" height="1.02" fill="#ececfd"/>
<rect x="296.42" y="271" width="5.62" height="1.02" fill="#f6bcc0"/>
<rect x="302.04" y="271" width="5.62" height="1.02" fill="#ececfd"/>
<rect x="307.65" y="271" width="11.23" height="1.02" fill="#bebef5"/>
<rect x="318.88" y="271" width="5.62" height="1.02" fill="#ececfd"/>
<rect x="200.00" y="272" width="16.60" height="1.02" fill="#8282e9"/>
<rect x="216.60" y="272" width="11.07" height="1.02" fill="#b02c80"/>
<rect x="227.67" y="272" width="22.13" height="1.02" fill="#8282e9"/>
<rect x="251.50" y="272" width="11.23" height="1.02" fill="#7838b8"/>
<rect x="262.73" y="272" width="5.62" height="1.02" fill="#bebef5"/>
<rect x="268.35" y="272" width="16.85" height="1.02" fill="#8282e9"/>
<rect x="285.19" y="272" width="11.23" height="1.02" fill="#b02c80"/>
<rect x="296.42" y="272" width="5.62" height="1.02" fill="#e0b8dc"/>
<rect x="302.04" y="272" width="11.23" height="1.02" fill="#b02c80"/>
<rect x="313.27" y="272" width="11.23" height="1.02" fill="#7060d0"/>
<rect x="200.00" y="273" width="49.80" height="1.02" fill="#2a2ac6"/>
<rect x="251.50" y="273" width="11.23" height="1.02" fill="#7838b8"/>
<rect x="262.73" y="273" width="61.77" height="1.02" fill="#2a2ac6"/>
<rect x="200.00" y="274" width="49.80" height="1.02" fill="#2a2ac6"/>
<rect x="251.50" y="274" width="73.00" height="1.02" fill="#2a2ac6"/>
<rect x="200.00" y="275" width="49.80" height="1.02" fill="#2a2ac6"/>
<rect x="251.50" y="275" width="33.69" height="1.02" fill="#2a2ac6"/>
<rect x="285.19" y="275" width="5.62" height="1.02" fill="#3c3ccf"/>
<rect x="290.81" y="275" width="5.62" height="1.02" fill="#2a2ac6"/>
<rect x="296.42" y="275" width="5.62" height="1.02" fill="#3c3ccf"/>
<rect x="302.04" y="275" width="11.23" height="1.02" fill="#2a2ac6"/>
<rect x="313.27" y="275" width="5.62" height="1.02" fill="#3c3ccf"/>
<rect x="318.88" y="275" width="5.62" height="1.02" fill="#2a2ac6"/>
<rect x="200.00" y="276" width="49.80" height="1.02" fill="#ec5050"/>
<rect x="251.50" y="276" width="28.08" height="1.02" fill="#e81c1c"/>
<rect x="279.58" y="276" width="5.62" height="1.02" fill="#f6bcc0"/>
<rect x="285.19" y="276" width="11.23" height="1.02" fill="#e81c1c"/>
<rect x="296.42" y="276" width="5.62" height="1.02" fill="#f08878"/>
<rect x="302.04" y="276" width="22.46" height="1.02" fill="#ec5050"/>
<rect x="200.00" y="277" width="49.80" height="1.02" fill="#b02c80"/>
<rect x="251.50" y="277" width="28.08" height="1.02" fill="#b02c80"/>
<rect x="279.58" y="277" width="5.62" height="1.02" fill="#d884b8"/>
<rect x="285.19" y="277" width="11.23" height="1.02" fill="#b02c80"/>
<rect x="296.42" y="277" width="5.62" height="1.02" fill="#d884b8"/>
<rect x="302.04" y="277" width="22.46" height="1.02" fill="#b02c80"/>
<rect x="200.00" y="278" width="5.53" height="1.02" fill="#9c9cee"/>
<rect x="205.53" y="278" width="5.53" height="1.02" fill="#8282e9"/>
<rect x="211.07" y="278" width="11.07" height="1.02" fill="#ececfd"/>
<rect x="222.13" y="278" width="16.60" height="1.02" fill="#6a6ae2"/>
<rect x="238.73" y="278" width="11.07" height="1.02" fill="#9c9cee"/>
<rect x="251.50" y="278" width="5.62" height="1.02" fill="#9c9cee"/>
<rect x="257.12" y="278" width="11.23" height="1.02" fill="#8282e9"/>
<rect x="268.35" y="278" width="5.62" height="1.02" fill="#ececfd"/>
<rect x="273.96" y="278" width="11.23" height="1.02" fill="#8282e9"/>
<rect x="285.19" y="278" width="5.62" height="1.02" fill="#ececfd"/>
<rect x="290.81" y="278" width="33.69" height="1.02" fill="#bebef5"/>
<rect x="200.00" y="279" width="5.53" height="1.02" fill="#9c9cee"/>
<rect x="205.53" y="279" width="5.53" height="1.02" fill="#8282e9"/>
<rect x="211.07" y="279" width="11.07" height="1.02" fill="#ececfd"/>
<rect x="222.13" y="279" width="16.60" height="1.02" fill="#6a6ae2"/>
<rect x="238.73" y="279" width="11.07" height="1.02" fill="#9c9cee"/>
<rect x="251.50" y="279" width="5.62" height="1.02" fill="#9c9cee"/>
<rect x="257.12" y="279" width="11.23" height="1.02" fill="#8282e9"/>
<rect x="268.35" y="279" width="5.62" height="1.02" fill="#ececfd"/>
<rect x="273.96" y="279" width="11.23" height="1.02" fill="#8282e9"/>
<rect x="285.19" y="279" width="5.62" height="1.02" fill="#ececfd"/>
<rect x="290.81" y="279" width="33.69" height="1.02" fill="#bebef5"/>
<rect x="200.00" y="280" width="49.80" height="1.02" fill="#5252dc"/>
<rect x="251.50" y="280" width="73.00" height="1.02" fill="#5252dc"/>
<rect x="200.00" y="281" width="49.80" height="1.02" fill="#3c3ccf"/>
<rect x="251.50" y="281" width="73.00" height="1.02" fill="#3c3ccf"/>
<rect x="200.00" y="282" width="16.60" height="1.02" fill="#bebef5"/>
<rect x="216.60" y="282" width="5.53" height="1.02" fill="#d884b8"/>
<rect x="222.13" y="282" width="27.67" height="1.02" fill="#bebef5"/>
<rect x="251.50" y="282" width="5.62" height="1.02" fill="#d884b8"/>
<rect x="257.12" y="282" width="22.46" height="1.02" fill="#bebef5"/>
<rect x="279.58" y="282" width="5.62" height="1.02" fill="#d884b8"/>
<rect x="285.19" y="282" width="39.31" height="1.02" fill="#9c9cee"/>
<rect x="200.00" y="283" width="16.60" height="1.02" fill="#bebef5"/>
<rect x="216.60" y="283" width="5.53" height="1.02" fill="#d884b8"/>
<rect x="222.13" y="283" width="27.67" height="1.02" fill="#bebef5"/>
<rect x="251.50" y="283" width="5.62" height="1.02" fill="#d884b8"/>
<rect x="257.12" y="283" width="22.46" height="1.02" fill="#bebef5"/>
<rect x="279.58" y="283" width="5.62" height="1.02" fill="#d884b8"/>
<rect x="285.19" y="283" width="39.31" height="1.02" fill="#9c9cee"/>
<rect x="200.00" y="284" width="49.80" height="1.02" fill="#5252dc"/>
<rect x="251.50" y="284" width="73.00" height="1.02" fill="#5252dc"/>
<rect x="200.00" y="285" width="49.80" height="1.02" fill="#5252dc"/>
<rect x="251.50" y="285" width="28.08" height="1.02" fill="#5252dc"/>
<rect x="279.58" y="285" width="5.62" height="1.02" fill="#e0b8dc"/>
<rect x="285.19" y="285" width="16.85" height="1.02" fill="#5252dc"/>
<rect x="302.04" y="285" width="5.62" height="1.02" fill="#e0b8dc"/>
<rect x="307.65" y="285" width="5.62" height="1.02" fill="#5252dc"/>
<rect x="313.27" y="285" width="5.62" height="1.02" fill="#e0b8dc"/>
<rect x="318.88" y="285" width="5.62" height="1.02" fill="#5252dc"/>
<rect x="200.00" y="286" width="49.80" height="1.02" fill="#8282e9"/>
<rect x="251.50" y="286" width="73.00" height="1.02" fill="#8282e9"/>
</g>
<g id="hm9p21" filter="url(#bl2)">
<rect x="363.20" y="197.6" width="71.40" height="2.85" fill="#f40c0c"/>
<rect x="436.00" y="197.6" width="43.73" height="2.85" fill="#e81c1c"/>
<rect x="479.73" y="197.6" width="5.47" height="2.85" fill="#fbe6ea"/>
<rect x="363.20" y="200.4" width="65.91" height="2.45" fill="#e81c1c"/>
<rect x="429.11" y="200.4" width="5.49" height="2.45" fill="#f08878"/>
<rect x="436.00" y="200.4" width="27.33" height="2.45" fill="#e81c1c"/>
<rect x="463.33" y="200.4" width="5.47" height="2.45" fill="#ec5050"/>
<rect x="468.80" y="200.4" width="10.93" height="2.45" fill="#e81c1c"/>
<rect x="479.73" y="200.4" width="5.47" height="2.45" fill="#f1f1ff"/>
<rect x="363.20" y="202.8" width="71.40" height="1.75" fill="#7060d0"/>
<rect x="436.00" y="202.8" width="49.20" height="1.75" fill="#7060d0"/>
<rect x="363.20" y="204.5" width="38.45" height="3.05" fill="#a2a2f0"/>
<rect x="401.65" y="204.5" width="32.95" height="3.05" fill="#c4c4f6"/>
<rect x="436.00" y="204.5" width="10.93" height="3.05" fill="#c4c4f6"/>
<rect x="446.93" y="204.5" width="10.93" height="3.05" fill="#a2a2f0"/>
<rect x="457.87" y="204.5" width="21.87" height="3.05" fill="#8686ea"/>
<rect x="479.73" y="204.5" width="5.47" height="3.05" fill="#a2a2f0"/>
<rect x="363.20" y="207.5" width="10.98" height="3.05" fill="#f1f1ff"/>
<rect x="374.18" y="207.5" width="10.98" height="3.05" fill="#c4c4f6"/>
<rect x="385.17" y="207.5" width="49.43" height="3.05" fill="#f1f1ff"/>
<rect x="436.00" y="207.5" width="10.93" height="3.05" fill="#f1f1ff"/>
<rect x="446.93" y="207.5" width="16.40" height="3.05" fill="#c4c4f6"/>
<rect x="463.33" y="207.5" width="21.87" height="3.05" fill="#f1f1ff"/>
<rect x="363.20" y="210.5" width="10.98" height="3.35" fill="#c4c4f6"/>
<rect x="374.18" y="210.5" width="60.42" height="3.35" fill="#f1f1ff"/>
<rect x="436.00" y="210.5" width="49.20" height="3.35" fill="#f1f1ff"/>
<rect x="363.20" y="213.8" width="27.46" height="3.25" fill="#8686ea"/>
<rect x="390.66" y="213.8" width="5.49" height="3.25" fill="#6a6ae2"/>
<rect x="396.15" y="213.8" width="10.98" height="3.25" fill="#8686ea"/>
<rect x="407.14" y="213.8" width="21.97" height="3.25" fill="#c4c4f6"/>
<rect x="429.11" y="213.8" width="5.49" height="3.25" fill="#fbe6ea"/>
<rect x="436.00" y="213.8" width="38.27" height="3.25" fill="#a2a2f0"/>
<rect x="474.27" y="213.8" width="5.47" height="3.25" fill="#c4c4f6"/>
<rect x="479.73" y="213.8" width="5.47" height="3.25" fill="#fbe6ea"/>
<rect x="363.20" y="217.0" width="10.98" height="3.35" fill="#a2a2f0"/>
<rect x="374.18" y="217.0" width="60.42" height="3.35" fill="#f1f1ff"/>
<rect x="436.00" y="217.0" width="10.93" height="3.35" fill="#f1f1ff"/>
<rect x="446.93" y="217.0" width="16.40" height="3.35" fill="#c4c4f6"/>
<rect x="463.33" y="217.0" width="21.87" height="3.35" fill="#f1f1ff"/>
<rect x="363.20" y="220.3" width="10.98" height="3.35" fill="#a2a2f0"/>
<rect x="374.18" y="220.3" width="27.46" height="3.35" fill="#8686ea"/>
<rect x="401.65" y="220.3" width="27.46" height="3.35" fill="#a2a2f0"/>
<rect x="429.11" y="220.3" width="5.49" height="3.35" fill="#c4c4f6"/>
<rect x="436.00" y="220.3" width="38.27" height="3.35" fill="#8686ea"/>
<rect x="474.27" y="220.3" width="5.47" height="3.35" fill="#a2a2f0"/>
<rect x="479.73" y="220.3" width="5.47" height="3.35" fill="#e0b8dc"/>
<rect x="363.20" y="223.6" width="71.40" height="1.65" fill="#5252dc"/>
<rect x="436.00" y="223.6" width="49.20" height="1.65" fill="#5252dc"/>
<rect x="363.20" y="225.2" width="5.49" height="2.55" fill="#b02c80"/>
<rect x="368.69" y="225.2" width="54.92" height="2.55" fill="#ec5050"/>
<rect x="423.62" y="225.2" width="5.49" height="2.55" fill="#5252dc"/>
<rect x="429.11" y="225.2" width="5.49" height="2.55" fill="#ec5050"/>
<rect x="436.00" y="225.2" width="10.93" height="2.55" fill="#e81c1c"/>
<rect x="446.93" y="225.2" width="32.80" height="2.55" fill="#ec5050"/>
<rect x="479.73" y="225.2" width="5.47" height="2.55" fill="#cc0000"/>
<rect x="363.20" y="227.7" width="38.45" height="3.35" fill="#3a2cc4"/>
<rect x="401.65" y="227.7" width="32.95" height="3.35" fill="#8464d2"/>
<rect x="436.00" y="227.7" width="16.40" height="3.35" fill="#3a2cc4"/>
<rect x="452.40" y="227.7" width="5.47" height="3.35" fill="#a2a2f0"/>
<rect x="457.87" y="227.7" width="5.47" height="3.35" fill="#3a2cc4"/>
<rect x="463.33" y="227.7" width="5.47" height="3.35" fill="#8464d2"/>
<rect x="468.80" y="227.7" width="5.47" height="3.35" fill="#2a2ac6"/>
<rect x="474.27" y="227.7" width="10.93" height="3.35" fill="#8464d2"/>
<rect x="363.20" y="231.0" width="71.40" height="3.05" fill="#f40c0c"/>
<rect x="436.00" y="231.0" width="49.20" height="3.05" fill="#f40c0c"/>
<rect x="363.20" y="234.0" width="10.98" height="2.35" fill="#ec5050"/>
<rect x="374.18" y="234.0" width="5.49" height="2.35" fill="#fbe6ea"/>
<rect x="379.68" y="234.0" width="10.98" height="2.35" fill="#ec5050"/>
<rect x="390.66" y="234.0" width="5.49" height="2.35" fill="#fbe6ea"/>
<rect x="396.15" y="234.0" width="5.49" height="2.35" fill="#ec5050"/>
<rect x="401.65" y="234.0" width="32.95" height="2.35" fill="#f08878"/>
<rect x="436.00" y="234.0" width="5.47" height="2.35" fill="#fbe6ea"/>
<rect x="441.47" y="234.0" width="21.87" height="2.35" fill="#ec5050"/>
<rect x="463.33" y="234.0" width="5.47" height="2.35" fill="#f1f1ff"/>
<rect x="468.80" y="234.0" width="5.47" height="2.35" fill="#e81c1c"/>
<rect x="474.27" y="234.0" width="10.93" height="2.35" fill="#f6bcc0"/>
<rect x="363.20" y="236.3" width="5.49" height="3.05" fill="#c4c4f6"/>
<rect x="368.69" y="236.3" width="10.98" height="3.05" fill="#a2a2f0"/>
<rect x="379.68" y="236.3" width="49.43" height="3.05" fill="#8686ea"/>
<rect x="429.11" y="236.3" width="5.49" height="3.05" fill="#a2a2f0"/>
<rect x="436.00" y="236.3" width="27.33" height="3.05" fill="#8686ea"/>
<rect x="463.33" y="236.3" width="5.47" height="3.05" fill="#a2a2f0"/>
<rect x="468.80" y="236.3" width="5.47" height="3.05" fill="#c4c4f6"/>
<rect x="474.27" y="236.3" width="10.93" height="3.05" fill="#8686ea"/>
<rect x="363.20" y="239.3" width="16.48" height="3.05" fill="#2a2ac6"/>
<rect x="379.68" y="239.3" width="32.95" height="3.05" fill="#3c3ccf"/>
<rect x="412.63" y="239.3" width="21.97" height="3.05" fill="#5252dc"/>
<rect x="436.00" y="239.3" width="27.33" height="3.05" fill="#5252dc"/>
<rect x="463.33" y="239.3" width="21.87" height="3.05" fill="#3c3ccf"/>
<rect x="363.20" y="242.3" width="43.94" height="2.45" fill="#2a2ac6"/>
<rect x="407.14" y="242.3" width="16.48" height="2.45" fill="#3c3ccf"/>
<rect x="423.62" y="242.3" width="5.49" height="2.45" fill="#5252dc"/>
<rect x="429.11" y="242.3" width="5.49" height="2.45" fill="#3c3ccf"/>
<rect x="436.00" y="242.3" width="49.20" height="2.45" fill="#2a2ac6"/>
<rect x="363.20" y="244.7" width="71.40" height="2.95" fill="#f1f1ff"/>
<rect x="436.00" y="244.7" width="5.47" height="2.95" fill="#f1f1ff"/>
<rect x="441.47" y="244.7" width="21.87" height="2.95" fill="#c4c4f6"/>
<rect x="463.33" y="244.7" width="21.87" height="2.95" fill="#f1f1ff"/>
<rect x="363.20" y="247.6" width="60.42" height="2.75" fill="#2a2ac6"/>
<rect x="423.62" y="247.6" width="10.98" height="2.75" fill="#5252dc"/>
<rect x="436.00" y="247.6" width="49.20" height="2.75" fill="#2a2ac6"/>
<rect x="363.20" y="250.3" width="5.49" height="2.75" fill="#f6bcc0"/>
<rect x="368.69" y="250.3" width="16.48" height="2.75" fill="#fbe6ea"/>
<rect x="385.17" y="250.3" width="49.43" height="2.75" fill="#f2d4e8"/>
<rect x="436.00" y="250.3" width="5.47" height="2.75" fill="#f1f1ff"/>
<rect x="441.47" y="250.3" width="16.40" height="2.75" fill="#c4c4f6"/>
<rect x="457.87" y="250.3" width="10.93" height="2.75" fill="#f1f1ff"/>
<rect x="468.80" y="250.3" width="5.47" height="2.75" fill="#c4c4f6"/>
<rect x="474.27" y="250.3" width="10.93" height="2.75" fill="#f1f1ff"/>
<rect x="363.20" y="253.0" width="60.42" height="2.75" fill="#5252dc"/>
<rect x="423.62" y="253.0" width="5.49" height="2.75" fill="#8686ea"/>
<rect x="429.11" y="253.0" width="5.49" height="2.75" fill="#e0b8dc"/>
<rect x="436.00" y="253.0" width="10.93" height="2.75" fill="#3c3ccf"/>
<rect x="446.93" y="253.0" width="38.27" height="2.75" fill="#5252dc"/>
<rect x="363.20" y="255.7" width="5.49" height="2.75" fill="#f1f1ff"/>
<rect x="368.69" y="255.7" width="5.49" height="2.75" fill="#fbe6ea"/>
<rect x="374.18" y="255.7" width="10.98" height="2.75" fill="#f1f1ff"/>
<rect x="385.17" y="255.7" width="5.49" height="2.75" fill="#a2a2f0"/>
<rect x="390.66" y="255.7" width="5.49" height="2.75" fill="#f1f1ff"/>
<rect x="396.15" y="255.7" width="5.49" height="2.75" fill="#6a6ae2"/>
<rect x="401.65" y="255.7" width="5.49" height="2.75" fill="#f1f1ff"/>
<rect x="407.14" y="255.7" width="5.49" height="2.75" fill="#c4c4f6"/>
<rect x="412.63" y="255.7" width="10.98" height="2.75" fill="#8686ea"/>
<rect x="423.62" y="255.7" width="5.49" height="2.75" fill="#fbe6ea"/>
<rect x="429.11" y="255.7" width="5.49" height="2.75" fill="#e0b8dc"/>
<rect x="436.00" y="255.7" width="10.93" height="2.75" fill="#2a2ac6"/>
<rect x="446.93" y="255.7" width="16.40" height="2.75" fill="#a2a2f0"/>
<rect x="463.33" y="255.7" width="5.47" height="2.75" fill="#3c3ccf"/>
<rect x="468.80" y="255.7" width="5.47" height="2.75" fill="#8686ea"/>
<rect x="474.27" y="255.7" width="5.47" height="2.75" fill="#a2a2f0"/>
<rect x="479.73" y="255.7" width="5.47" height="2.75" fill="#8686ea"/>
<rect x="363.20" y="258.4" width="5.49" height="2.75" fill="#fbe6ea"/>
<rect x="368.69" y="258.4" width="16.48" height="2.75" fill="#c4c4f6"/>
<rect x="385.17" y="258.4" width="5.49" height="2.75" fill="#a2a2f0"/>
<rect x="390.66" y="258.4" width="5.49" height="2.75" fill="#fbe6ea"/>
<rect x="396.15" y="258.4" width="5.49" height="2.75" fill="#8686ea"/>
<rect x="401.65" y="258.4" width="5.49" height="2.75" fill="#fbe6ea"/>
<rect x="407.14" y="258.4" width="5.49" height="2.75" fill="#a2a2f0"/>
<rect x="412.63" y="258.4" width="5.49" height="2.75" fill="#f1f1ff"/>
<rect x="418.12" y="258.4" width="10.98" height="2.75" fill="#a2a2f0"/>
<rect x="429.11" y="258.4" width="5.49" height="2.75" fill="#fbe6ea"/>
<rect x="436.00" y="258.4" width="5.47" height="2.75" fill="#a2a2f0"/>
<rect x="441.47" y="258.4" width="5.47" height="2.75" fill="#f6bcc0"/>
<rect x="446.93" y="258.4" width="5.47" height="2.75" fill="#fbe6ea"/>
<rect x="452.40" y="258.4" width="5.47" height="2.75" fill="#f1f1ff"/>
<rect x="457.87" y="258.4" width="5.47" height="2.75" fill="#e0b8dc"/>
<rect x="463.33" y="258.4" width="5.47" height="2.75" fill="#f1f1ff"/>
<rect x="468.80" y="258.4" width="5.47" height="2.75" fill="#f6bcc0"/>
<rect x="474.27" y="258.4" width="5.47" height="2.75" fill="#c4c4f6"/>
<rect x="479.73" y="258.4" width="5.47" height="2.75" fill="#a2a2f0"/>
<rect x="363.20" y="261.1" width="21.97" height="2.95" fill="#e81c1c"/>
<rect x="385.17" y="261.1" width="10.98" height="2.95" fill="#ec5050"/>
<rect x="396.15" y="261.1" width="5.49" height="2.95" fill="#f6bcc0"/>
<rect x="401.65" y="261.1" width="10.98" height="2.95" fill="#f08878"/>
<rect x="412.63" y="261.1" width="5.49" height="2.95" fill="#f6bcc0"/>
<rect x="418.12" y="261.1" width="5.49" height="2.95" fill="#f08878"/>
<rect x="423.62" y="261.1" width="10.98" height="2.95" fill="#ec5050"/>
<rect x="436.00" y="261.1" width="5.47" height="2.95" fill="#c4c4f6"/>
<rect x="441.47" y="261.1" width="10.93" height="2.95" fill="#f08878"/>
<rect x="452.40" y="261.1" width="5.47" height="2.95" fill="#c4c4f6"/>
<rect x="457.87" y="261.1" width="5.47" height="2.95" fill="#f08878"/>
<rect x="463.33" y="261.1" width="5.47" height="2.95" fill="#f1f1ff"/>
<rect x="468.80" y="261.1" width="5.47" height="2.95" fill="#e81c1c"/>
<rect x="474.27" y="261.1" width="5.47" height="2.95" fill="#c4c4f6"/>
<rect x="479.73" y="261.1" width="5.47" height="2.95" fill="#e0b8dc"/>
<rect x="363.20" y="264.0" width="21.97" height="2.75" fill="#ec5050"/>
<rect x="385.17" y="264.0" width="10.98" height="2.75" fill="#f08878"/>
<rect x="396.15" y="264.0" width="5.49" height="2.75" fill="#fbe6ea"/>
<rect x="401.65" y="264.0" width="10.98" height="2.75" fill="#f08878"/>
<rect x="412.63" y="264.0" width="5.49" height="2.75" fill="#f6bcc0"/>
<rect x="418.12" y="264.0" width="5.49" height="2.75" fill="#f08878"/>
<rect x="423.62" y="264.0" width="10.98" height="2.75" fill="#ec5050"/>
<rect x="436.00" y="264.0" width="5.47" height="2.75" fill="#6a6ae2"/>
<rect x="441.47" y="264.0" width="5.47" height="2.75" fill="#f6bcc0"/>
<rect x="446.93" y="264.0" width="5.47" height="2.75" fill="#f08878"/>
<rect x="452.40" y="264.0" width="5.47" height="2.75" fill="#c4c4f6"/>
<rect x="457.87" y="264.0" width="5.47" height="2.75" fill="#f08878"/>
<rect x="463.33" y="264.0" width="5.47" height="2.75" fill="#f1f1ff"/>
<rect x="468.80" y="264.0" width="5.47" height="2.75" fill="#ec5050"/>
<rect x="474.27" y="264.0" width="5.47" height="2.75" fill="#c4c4f6"/>
<rect x="479.73" y="264.0" width="5.47" height="2.75" fill="#e0b8dc"/>
<rect x="363.20" y="266.7" width="5.49" height="2.45" fill="#f6bcc0"/>
<rect x="368.69" y="266.7" width="10.98" height="2.45" fill="#a2a2f0"/>
<rect x="379.68" y="266.7" width="10.98" height="2.45" fill="#fbe6ea"/>
<rect x="390.66" y="266.7" width="5.49" height="2.45" fill="#a2a2f0"/>
<rect x="396.15" y="266.7" width="5.49" height="2.45" fill="#f6bcc0"/>
<rect x="401.65" y="266.7" width="21.97" height="2.45" fill="#e0b8dc"/>
<rect x="423.62" y="266.7" width="5.49" height="2.45" fill="#a2a2f0"/>
<rect x="429.11" y="266.7" width="5.49" height="2.45" fill="#f6bcc0"/>
<rect x="436.00" y="266.7" width="5.47" height="2.45" fill="#8686ea"/>
<rect x="441.47" y="266.7" width="10.93" height="2.45" fill="#c4c4f6"/>
<rect x="452.40" y="266.7" width="10.93" height="2.45" fill="#a2a2f0"/>
<rect x="463.33" y="266.7" width="5.47" height="2.45" fill="#f1f1ff"/>
<rect x="468.80" y="266.7" width="5.47" height="2.45" fill="#e0b8dc"/>
<rect x="474.27" y="266.7" width="10.93" height="2.45" fill="#c4c4f6"/>
<rect x="363.20" y="269.1" width="5.49" height="3.05" fill="#f1f1ff"/>
<rect x="368.69" y="269.1" width="16.48" height="3.05" fill="#a2a2f0"/>
<rect x="385.17" y="269.1" width="5.49" height="3.05" fill="#f6bcc0"/>
<rect x="390.66" y="269.1" width="10.98" height="3.05" fill="#f08878"/>
<rect x="401.65" y="269.1" width="27.46" height="3.05" fill="#e0b8dc"/>
<rect x="429.11" y="269.1" width="5.49" height="3.05" fill="#e81c1c"/>
<rect x="436.00" y="269.1" width="5.47" height="3.05" fill="#5252dc"/>
<rect x="441.47" y="269.1" width="5.47" height="3.05" fill="#8686ea"/>
<rect x="446.93" y="269.1" width="16.40" height="3.05" fill="#a2a2f0"/>
<rect x="463.33" y="269.1" width="5.47" height="3.05" fill="#c4c4f6"/>
<rect x="468.80" y="269.1" width="5.47" height="3.05" fill="#a2a2f0"/>
<rect x="474.27" y="269.1" width="10.93" height="3.05" fill="#8686ea"/>
<rect x="363.20" y="272.1" width="5.49" height="3.55" fill="#ec5050"/>
<rect x="368.69" y="272.1" width="5.49" height="3.55" fill="#fbe6ea"/>
<rect x="374.18" y="272.1" width="10.98" height="3.55" fill="#f6bcc0"/>
<rect x="385.17" y="272.1" width="5.49" height="3.55" fill="#f08878"/>
<rect x="390.66" y="272.1" width="5.49" height="3.55" fill="#cc0000"/>
<rect x="396.15" y="272.1" width="21.97" height="3.55" fill="#e81c1c"/>
<rect x="418.12" y="272.1" width="5.49" height="3.55" fill="#f08878"/>
<rect x="423.62" y="272.1" width="5.49" height="3.55" fill="#fbe6ea"/>
<rect x="429.11" y="272.1" width="5.49" height="3.55" fill="#ec5050"/>
<rect x="436.00" y="272.1" width="5.47" height="3.55" fill="#a2a2f0"/>
<rect x="441.47" y="272.1" width="21.87" height="3.55" fill="#f1f1ff"/>
<rect x="463.33" y="272.1" width="10.93" height="3.55" fill="#fbe6ea"/>
<rect x="474.27" y="272.1" width="5.47" height="3.55" fill="#a2a2f0"/>
<rect x="479.73" y="272.1" width="5.47" height="3.55" fill="#f1f1ff"/>
<rect x="363.20" y="275.6" width="5.49" height="2.75" fill="#fbe6ea"/>
<rect x="368.69" y="275.6" width="5.49" height="2.75" fill="#a2a2f0"/>
<rect x="374.18" y="275.6" width="16.48" height="2.75" fill="#fbe6ea"/>
<rect x="390.66" y="275.6" width="5.49" height="2.75" fill="#a2a2f0"/>
<rect x="396.15" y="275.6" width="10.98" height="2.75" fill="#fbe6ea"/>
<rect x="407.14" y="275.6" width="5.49" height="2.75" fill="#f08878"/>
<rect x="412.63" y="275.6" width="5.49" height="2.75" fill="#a2a2f0"/>
<rect x="418.12" y="275.6" width="5.49" height="2.75" fill="#f1f1ff"/>
<rect x="423.62" y="275.6" width="5.49" height="2.75" fill="#c4c4f6"/>
<rect x="429.11" y="275.6" width="5.49" height="2.75" fill="#fbe6ea"/>
<rect x="436.00" y="275.6" width="5.47" height="2.75" fill="#c4c4f6"/>
<rect x="441.47" y="275.6" width="5.47" height="2.75" fill="#f1f1ff"/>
<rect x="446.93" y="275.6" width="5.47" height="2.75" fill="#fbe6ea"/>
<rect x="452.40" y="275.6" width="5.47" height="2.75" fill="#a2a2f0"/>
<rect x="457.87" y="275.6" width="5.47" height="2.75" fill="#c4c4f6"/>
<rect x="463.33" y="275.6" width="5.47" height="2.75" fill="#f1f1ff"/>
<rect x="468.80" y="275.6" width="5.47" height="2.75" fill="#fbe6ea"/>
<rect x="474.27" y="275.6" width="10.93" height="2.75" fill="#a2a2f0"/>
<rect x="363.20" y="278.3" width="5.49" height="3.35" fill="#c4c4f6"/>
<rect x="368.69" y="278.3" width="5.49" height="3.35" fill="#6a6ae2"/>
<rect x="374.18" y="278.3" width="5.49" height="3.35" fill="#8686ea"/>
<rect x="379.68" y="278.3" width="5.49" height="3.35" fill="#f1f1ff"/>
<rect x="385.17" y="278.3" width="5.49" height="3.35" fill="#c4c4f6"/>
<rect x="390.66" y="278.3" width="5.49" height="3.35" fill="#5252dc"/>
<rect x="396.15" y="278.3" width="10.98" height="3.35" fill="#fbe6ea"/>
<rect x="407.14" y="278.3" width="5.49" height="3.35" fill="#d884b8"/>
<rect x="412.63" y="278.3" width="5.49" height="3.35" fill="#c4c4f6"/>
<rect x="418.12" y="278.3" width="5.49" height="3.35" fill="#a2a2f0"/>
<rect x="423.62" y="278.3" width="5.49" height="3.35" fill="#8686ea"/>
<rect x="429.11" y="278.3" width="5.49" height="3.35" fill="#a2a2f0"/>
<rect x="436.00" y="278.3" width="5.47" height="3.35" fill="#2a2ac6"/>
<rect x="441.47" y="278.3" width="10.93" height="3.35" fill="#a2a2f0"/>
<rect x="452.40" y="278.3" width="5.47" height="3.35" fill="#e0b8dc"/>
<rect x="457.87" y="278.3" width="5.47" height="3.35" fill="#e81c1c"/>
<rect x="463.33" y="278.3" width="5.47" height="3.35" fill="#c4c4f6"/>
<rect x="468.80" y="278.3" width="5.47" height="3.35" fill="#a2a2f0"/>
<rect x="474.27" y="278.3" width="5.47" height="3.35" fill="#c4c4f6"/>
<rect x="479.73" y="278.3" width="5.47" height="3.35" fill="#a2a2f0"/>
<rect x="363.20" y="281.6" width="10.98" height="2.65" fill="#a2a2f0"/>
<rect x="374.18" y="281.6" width="5.49" height="2.65" fill="#6a6ae2"/>
<rect x="379.68" y="281.6" width="5.49" height="2.65" fill="#c4c4f6"/>
<rect x="385.17" y="281.6" width="5.49" height="2.65" fill="#a2a2f0"/>
<rect x="390.66" y="281.6" width="5.49" height="2.65" fill="#f1f1ff"/>
<rect x="396.15" y="281.6" width="5.49" height="2.65" fill="#fbe6ea"/>
<rect x="401.65" y="281.6" width="5.49" height="2.65" fill="#a2a2f0"/>
<rect x="407.14" y="281.6" width="5.49" height="2.65" fill="#5252dc"/>
<rect x="412.63" y="281.6" width="5.49" height="2.65" fill="#6a6ae2"/>
<rect x="418.12" y="281.6" width="5.49" height="2.65" fill="#c4c4f6"/>
<rect x="423.62" y="281.6" width="10.98" height="2.65" fill="#8686ea"/>
<rect x="436.00" y="281.6" width="5.47" height="2.65" fill="#c4c4f6"/>
<rect x="441.47" y="281.6" width="5.47" height="2.65" fill="#8686ea"/>
<rect x="446.93" y="281.6" width="5.47" height="2.65" fill="#a2a2f0"/>
<rect x="452.40" y="281.6" width="5.47" height="2.65" fill="#f1f1ff"/>
<rect x="457.87" y="281.6" width="5.47" height="2.65" fill="#e0b8dc"/>
<rect x="463.33" y="281.6" width="5.47" height="2.65" fill="#a2a2f0"/>
<rect x="468.80" y="281.6" width="10.93" height="2.65" fill="#8686ea"/>
<rect x="479.73" y="281.6" width="5.47" height="2.65" fill="#a2a2f0"/>
<rect x="363.20" y="284.2" width="5.49" height="2.85" fill="#5252dc"/>
<rect x="368.69" y="284.2" width="5.49" height="2.85" fill="#c4c4f6"/>
<rect x="374.18" y="284.2" width="5.49" height="2.85" fill="#a2a2f0"/>
<rect x="379.68" y="284.2" width="5.49" height="2.85" fill="#f1f1ff"/>
<rect x="385.17" y="284.2" width="5.49" height="2.85" fill="#a2a2f0"/>
<rect x="390.66" y="284.2" width="5.49" height="2.85" fill="#c4c4f6"/>
<rect x="396.15" y="284.2" width="5.49" height="2.85" fill="#a2a2f0"/>
<rect x="401.65" y="284.2" width="5.49" height="2.85" fill="#8686ea"/>
<rect x="407.14" y="284.2" width="5.49" height="2.85" fill="#5252dc"/>
<rect x="412.63" y="284.2" width="5.49" height="2.85" fill="#a2a2f0"/>
<rect x="418.12" y="284.2" width="5.49" height="2.85" fill="#c4c4f6"/>
<rect x="423.62" y="284.2" width="5.49" height="2.85" fill="#a2a2f0"/>
<rect x="429.11" y="284.2" width="5.49" height="2.85" fill="#8686ea"/>
<rect x="436.00" y="284.2" width="5.47" height="2.85" fill="#a2a2f0"/>
<rect x="441.47" y="284.2" width="5.47" height="2.85" fill="#8686ea"/>
<rect x="446.93" y="284.2" width="10.93" height="2.85" fill="#a2a2f0"/>
<rect x="457.87" y="284.2" width="5.47" height="2.85" fill="#f1f1ff"/>
<rect x="463.33" y="284.2" width="5.47" height="2.85" fill="#a2a2f0"/>
<rect x="468.80" y="284.2" width="5.47" height="2.85" fill="#8686ea"/>
<rect x="474.27" y="284.2" width="5.47" height="2.85" fill="#6a6ae2"/>
<rect x="479.73" y="284.2" width="5.47" height="2.85" fill="#a2a2f0"/>
</g>
<g stroke="#606078" stroke-opacity="0.27" stroke-width="0.5">
<line x1="368.69" y1="203" x2="368.69" y2="287"/>
<line x1="374.18" y1="203" x2="374.18" y2="287"/>
<line x1="379.68" y1="203" x2="379.68" y2="287"/>
<line x1="385.17" y1="203" x2="385.17" y2="287"/>
<line x1="390.66" y1="203" x2="390.66" y2="287"/>
<line x1="396.15" y1="203" x2="396.15" y2="287"/>
<line x1="401.65" y1="203" x2="401.65" y2="287"/>
<line x1="407.14" y1="203" x2="407.14" y2="287"/>
<line x1="412.63" y1="203" x2="412.63" y2="287"/>
<line x1="418.12" y1="203" x2="418.12" y2="287"/>
<line x1="423.62" y1="203" x2="423.62" y2="287"/>
<line x1="429.11" y1="203" x2="429.11" y2="287"/>
<line x1="441.47" y1="203" x2="441.47" y2="287"/>
<line x1="446.93" y1="203" x2="446.93" y2="287"/>
<line x1="452.40" y1="203" x2="452.40" y2="287"/>
<line x1="457.87" y1="203" x2="457.87" y2="287"/>
<line x1="463.33" y1="203" x2="463.33" y2="287"/>
<line x1="468.80" y1="203" x2="468.80" y2="287"/>
<line x1="474.27" y1="203" x2="474.27" y2="287"/>
<line x1="479.73" y1="203" x2="479.73" y2="287"/>
<line x1="363.2" y1="204.5" x2="434.6" y2="204.5"/>
<line x1="436.0" y1="204.5" x2="485.2" y2="204.5"/>
<line x1="363.2" y1="207.5" x2="434.6" y2="207.5"/>
<line x1="436.0" y1="207.5" x2="485.2" y2="207.5"/>
<line x1="363.2" y1="210.5" x2="434.6" y2="210.5"/>
<line x1="436.0" y1="210.5" x2="485.2" y2="210.5"/>
<line x1="363.2" y1="213.8" x2="434.6" y2="213.8"/>
<line x1="436.0" y1="213.8" x2="485.2" y2="213.8"/>
<line x1="363.2" y1="217.0" x2="434.6" y2="217.0"/>
<line x1="436.0" y1="217.0" x2="485.2" y2="217.0"/>
<line x1="363.2" y1="220.3" x2="434.6" y2="220.3"/>
<line x1="436.0" y1="220.3" x2="485.2" y2="220.3"/>
<line x1="363.2" y1="223.6" x2="434.6" y2="223.6"/>
<line x1="436.0" y1="223.6" x2="485.2" y2="223.6"/>
<line x1="363.2" y1="225.2" x2="434.6" y2="225.2"/>
<line x1="436.0" y1="225.2" x2="485.2" y2="225.2"/>
<line x1="363.2" y1="227.7" x2="434.6" y2="227.7"/>
<line x1="436.0" y1="227.7" x2="485.2" y2="227.7"/>
<line x1="363.2" y1="231.0" x2="434.6" y2="231.0"/>
<line x1="436.0" y1="231.0" x2="485.2" y2="231.0"/>
<line x1="363.2" y1="234.0" x2="434.6" y2="234.0"/>
<line x1="436.0" y1="234.0" x2="485.2" y2="234.0"/>
<line x1="363.2" y1="236.3" x2="434.6" y2="236.3"/>
<line x1="436.0" y1="236.3" x2="485.2" y2="236.3"/>
<line x1="363.2" y1="239.3" x2="434.6" y2="239.3"/>
<line x1="436.0" y1="239.3" x2="485.2" y2="239.3"/>
<line x1="363.2" y1="242.3" x2="434.6" y2="242.3"/>
<line x1="436.0" y1="242.3" x2="485.2" y2="242.3"/>
<line x1="363.2" y1="244.7" x2="434.6" y2="244.7"/>
<line x1="436.0" y1="244.7" x2="485.2" y2="244.7"/>
<line x1="363.2" y1="247.6" x2="434.6" y2="247.6"/>
<line x1="436.0" y1="247.6" x2="485.2" y2="247.6"/>
<line x1="363.2" y1="250.3" x2="434.6" y2="250.3"/>
<line x1="436.0" y1="250.3" x2="485.2" y2="250.3"/>
<line x1="363.2" y1="253.0" x2="434.6" y2="253.0"/>
<line x1="436.0" y1="253.0" x2="485.2" y2="253.0"/>
<line x1="363.2" y1="255.7" x2="434.6" y2="255.7"/>
<line x1="436.0" y1="255.7" x2="485.2" y2="255.7"/>
<line x1="363.2" y1="258.4" x2="434.6" y2="258.4"/>
<line x1="436.0" y1="258.4" x2="485.2" y2="258.4"/>
<line x1="363.2" y1="261.1" x2="434.6" y2="261.1"/>
<line x1="436.0" y1="261.1" x2="485.2" y2="261.1"/>
<line x1="363.2" y1="264.0" x2="434.6" y2="264.0"/>
<line x1="436.0" y1="264.0" x2="485.2" y2="264.0"/>
<line x1="363.2" y1="266.7" x2="434.6" y2="266.7"/>
<line x1="436.0" y1="266.7" x2="485.2" y2="266.7"/>
<line x1="363.2" y1="269.1" x2="434.6" y2="269.1"/>
<line x1="436.0" y1="269.1" x2="485.2" y2="269.1"/>
<line x1="363.2" y1="272.1" x2="434.6" y2="272.1"/>
<line x1="436.0" y1="272.1" x2="485.2" y2="272.1"/>
<line x1="363.2" y1="275.6" x2="434.6" y2="275.6"/>
<line x1="436.0" y1="275.6" x2="485.2" y2="275.6"/>
<line x1="363.2" y1="278.3" x2="434.6" y2="278.3"/>
<line x1="436.0" y1="278.3" x2="485.2" y2="278.3"/>
<line x1="363.2" y1="281.6" x2="434.6" y2="281.6"/>
<line x1="436.0" y1="281.6" x2="485.2" y2="281.6"/>
<line x1="363.2" y1="284.2" x2="434.6" y2="284.2"/>
<line x1="436.0" y1="284.2" x2="485.2" y2="284.2"/>
</g>
<polygon points="325.1,219.1 329.1,217.1 329.1,221.1" fill="#000"/>
<text x="331.70000000000005" y="220.9" font-size="5" font-weight="bold" fill="#111" stroke="#111" stroke-width="0.12">ZNF783</text>
<polygon points="325.1,257.5 329.1,255.5 329.1,259.5" fill="#000"/>
<text x="331.70000000000005" y="259.3" font-size="5" font-weight="bold" fill="#111" stroke="#111" stroke-width="0.12">FASTK</text>
<polygon points="325.1,272.4 329.1,270.4 329.1,274.4" fill="#000"/>
<text x="331.70000000000005" y="274.2" font-size="5" font-weight="bold" fill="#111" stroke="#111" stroke-width="0.12">NUB1</text>
<polygon points="487.2,250.9 491.2,248.9 491.2,252.9" fill="#000"/>
<text x="493.7" y="252.70000000000002" font-size="5" font-weight="bold" fill="#111" stroke="#111" stroke-width="0.12">LOC554201</text>
<polygon points="487.2,256.7 491.2,254.7 491.2,258.7" fill="#000"/>
<text x="494.59999999999997" y="258.5" font-size="5" font-weight="bold" fill="#111" stroke="#111" stroke-width="0.12">MTAP</text>
<polygon points="487.2,271.0 491.2,269.2 491.2,272.8" fill="#000"/>
<polygon points="487.2,273.6 491.2,271.8 491.2,275.40000000000003" fill="#000"/>
<text x="493.7" y="274.1" font-size="5" font-weight="bold" fill="#111" stroke="#111" stroke-width="0.12">CDKN2A</text>
</svg></body></html>
